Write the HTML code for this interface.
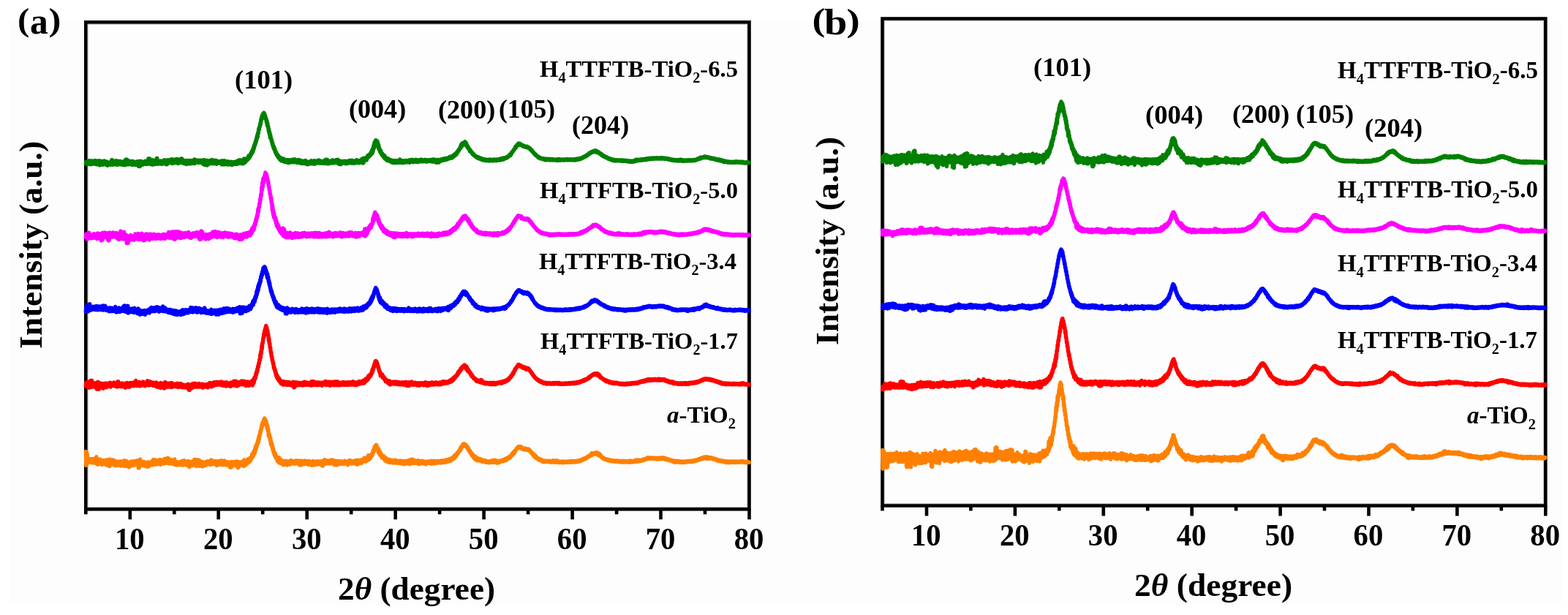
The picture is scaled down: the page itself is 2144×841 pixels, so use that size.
<!DOCTYPE html>
<html><head><meta charset="utf-8"><title>XRD patterns</title><style>
html,body{margin:0;padding:0;background:#fff;}
body{width:2144px;height:841px;overflow:hidden;}
svg{display:block;}
text{font-family:"Liberation Serif","Times New Roman",serif;font-weight:bold;fill:#000;}
</style></head><body>
<svg width="2144" height="841" viewBox="0 0 2144 841">
<rect width="2144" height="841" fill="#fff"/>
<rect x="13" y="28" width="2122" height="800" fill="#fdfdfd"/>
<g stroke="#000" stroke-width="4.6" stroke-linecap="butt">
<rect x="120.3" y="33.3" width="901.2" height="660.0" fill="none" stroke="#c8c8c8" stroke-width="1.1"/>
<rect x="117.3" y="30.3" width="907.2" height="666.0" fill="none" stroke="#000" stroke-width="4.6"/>
<line x1="117.3" y1="696.3" x2="117.3" y2="703.3"/>
<line x1="177.8" y1="696.3" x2="177.8" y2="710.3"/>
<line x1="238.3" y1="696.3" x2="238.3" y2="703.3"/>
<line x1="298.7" y1="696.3" x2="298.7" y2="710.3"/>
<line x1="359.2" y1="696.3" x2="359.2" y2="703.3"/>
<line x1="419.7" y1="696.3" x2="419.7" y2="710.3"/>
<line x1="480.2" y1="696.3" x2="480.2" y2="703.3"/>
<line x1="540.7" y1="696.3" x2="540.7" y2="710.3"/>
<line x1="601.1" y1="696.3" x2="601.1" y2="703.3"/>
<line x1="661.6" y1="696.3" x2="661.6" y2="710.3"/>
<line x1="722.1" y1="696.3" x2="722.1" y2="703.3"/>
<line x1="782.6" y1="696.3" x2="782.6" y2="710.3"/>
<line x1="843.1" y1="696.3" x2="843.1" y2="703.3"/>
<line x1="903.5" y1="696.3" x2="903.5" y2="710.3"/>
<line x1="964.0" y1="696.3" x2="964.0" y2="703.3"/>
<line x1="1024.5" y1="696.3" x2="1024.5" y2="710.3"/>
<rect x="1209.5" y="28.5" width="900.8" height="660.0" fill="none" stroke="#c8c8c8" stroke-width="1.1"/>
<rect x="1206.5" y="25.5" width="906.8" height="666.0" fill="none" stroke="#000" stroke-width="4.6"/>
<line x1="1206.5" y1="691.5" x2="1206.5" y2="698.5"/>
<line x1="1267.0" y1="691.5" x2="1267.0" y2="705.5"/>
<line x1="1327.4" y1="691.5" x2="1327.4" y2="698.5"/>
<line x1="1387.9" y1="691.5" x2="1387.9" y2="705.5"/>
<line x1="1448.3" y1="691.5" x2="1448.3" y2="698.5"/>
<line x1="1508.8" y1="691.5" x2="1508.8" y2="705.5"/>
<line x1="1569.2" y1="691.5" x2="1569.2" y2="698.5"/>
<line x1="1629.7" y1="691.5" x2="1629.7" y2="705.5"/>
<line x1="1690.1" y1="691.5" x2="1690.1" y2="698.5"/>
<line x1="1750.6" y1="691.5" x2="1750.6" y2="705.5"/>
<line x1="1811.0" y1="691.5" x2="1811.0" y2="698.5"/>
<line x1="1871.5" y1="691.5" x2="1871.5" y2="705.5"/>
<line x1="1931.9" y1="691.5" x2="1931.9" y2="698.5"/>
<line x1="1992.4" y1="691.5" x2="1992.4" y2="705.5"/>
<line x1="2052.8" y1="691.5" x2="2052.8" y2="698.5"/>
<line x1="2113.3" y1="691.5" x2="2113.3" y2="705.5"/>
</g>
<g fill="none" stroke-width="5.3" stroke-linejoin="round" stroke-linecap="round">
<path d="M117.3 224.1l.5-3 .5 3.3 .5-3.2 .5 3 .5-2.9 .5 2.5 .5-2.8 .5 3.6 .5-5 .5 4.7 .5-3 .5 3.4 .5-4.7 .5 4.9 .5-4.2 .5 3.3 .5-4.1 .5 4.4 .5-3.5 .5 3.2 .5-3 .5 2.8 .5-2.9 .5 3.5 .5-5.1 .5 4.6 .5-3 .5 3.6 .5-3.9 .5 3.2 .5-4 .5 5.4 .5-4.7 .5 4.3 .5-4.2 .5 4 .5-5 .5 6.4 .5-4.7 .5 4.3 .5-5.2 .5 4.5 .5-4.5 .5 3.8 .5-2.6 .5 3.9 .5-5.1 .5 4.3 .5-2.9 .5 2.6 .5-4.4 .5 4.5 .5-2.5 .5 2.8 .5-3.1 .5 3.9 .5-4.8 .5 4.3 .5-2.9 .5 4.2 .5-4.4 .5 3.4 .5-3.1 .5 2.8 .5-2.8 .5 2.5 .5-2.9 .5 3.6 .5-5 .5 4.5 .5-6.4 .5 6.2 .5-5.9 .5 6.4 .5-4.5 .5 4.2 .5-3.8 .5 4 .5-4.7 .5 4.2 .5-2.8 .5 2.6 .5-4.9 .5 5.2 .5-2.8 .5 3.7 .5-4.6 .5 3.6 .5-4.5 .5 4.5 .5-4.2 .5 4.3 .5-3.6 .5 3.7 .5-4.5 .5 4.4 .5-3.1 .5 3.4 .5-3.7 .5 4 .5-3.7 .5 3.9 .5-4.6 .5 4.7 .5-4.6 .5 4.8 .5-6.3 .5 4.9 .5-6.3 .5 7.5 .5-7.6 .5 6.5 .5-6.5 .5 6.6 .5-3.8 .5 3.5 .5-2.8 .5 3.4 .5-4.8 .5 4.2 .5-4 .5 3.8 .5-2.5 .5 2.8 .5-4.1 .5 5.2 .5-4.7 .5 4.1 .5-4.7 .5 4 .5-2.7 .5 3.7 .5-3.9 .5 3.7 .5-3.4 .5 3.8 .5-3.7 .5 3.2 .5-4.1 .5 4.9 .5-4.6 .5 3.4 .5-3.9 .5 6.7 .5-5.8 .5 6.1 .5-6.8 .5 6.7 .5-7.4 .5 4.3 .5-3.3 .5 3.2 .5-3.7 .5 4.9 .5-4.1 .5 3.6 .5-3.8 .5 3.1 .5-3 .5 2.6 .5-2.7 .5 2.9 .5-4.1 .5 4.3 .5-4.1 .5 3.8 .5-3.2 .5 3.7 .5-3.8 .5 3.4 .5-7.2 .5 6.2 .5-6.3 .5 6.1 .5-6.1 .5 7.7 .5-4.2 .5 4.3 .5-5.1 .5 4.3 .5-4.2 .5 5.6 .5-6.7 .5 4.9 .5-2.5 .5 3.6 .5-3.9 .5 4.1 .5-4.5 .5 3.9 .5-3.3 .5 3.2 .5-7 .5 6.6 .5-7.6 .5 8.3 .5-4 .5 3.9 .5-4 .5 3.3 .5-3.2 .5 2.9 .5-2.8 .5 3.7 .5-4.1 .5 3.8 .5-3.9 .5 4.5 .5-3.6 .5 3 .5-3.4 .5 2.6 .5-2.6 .5 3.4 .5-5.2 .5 4.3 .5-2.9 .5 3.2 .5-3 .5 4.5 .5-5.7 .5 5.8 .5-5.6 .5 4.4 .5-5 .5 4.7 .5-3.8 .5 2.7 .5-3.3 .5 3.6 .5-3 .5 3.1 .5-4.7 .5 5.2 .5-4.8 .5 5.2 .5-6 .5 4.8 .5-3.5 .5 4.2 .5-4.4 .5 4.4 .5-4.4 .5 3.1 .5-3.9 .5 3.8 .5-4 .5 4.3 .5-4.6 .5 4.2 .5-3.7 .5 5.8 .5-5.6 .5 4.4 .5-4.7 .5 4.2 .5-2.7 .5 2.7 .5-3.1 .5 3.8 .5-5.8 .5 5.2 .5-5.1 .5 5.2 .5-2.6 .5 3.3 .5-3.7 .5 4.4 .5-3.5 .5 2.3 .5-2.8 .5 3.4 .5-3.5 .5 5.1 .5-4.6 .5 2.8 .5-2.7 .5 4 .5-4.6 .5 4.7 .5-4.5 .5 3.7 .5-3.8 .5 3.2 .5-2.8 .5 3.8 .5-4.4 .5 4.4 .5-4.2 .5 3 .5-2.8 .5 3.6 .5-3.9 .5 4.1 .5-3.8 .5 3.1 .5-5.1 .5 5.8 .5-4.9 .5 3 .5-2.6 .5 2.9 .5-3 .5 3 .5-2.9 .5 2.6 .5-2.3 .5 3.3 .5-3.4 .5 2.7 .5-2.6 .5 3 .5-2.8 .5 2.7 .5-3.1 .5 2.9 .5-2.3 .5 2.4 .5-2.5 .5 4.5 .5-5 .5 4.5 .5-5 .5 6.6 .5-6.4 .5 6.8 .5-5.9 .5 5.6 .5-6 .5 6.3 .5-6 .5 6.5 .5-6.8 .5 3.9 .5-3.4 .5 2.9 .5-2.5 .5 3.8 .5-3.9 .5 2.7 .5-3.4 .5 4.2 .5-3.9 .5 3.1 .5-4.5 .5 5.3 .5-3.8 .5 3.4 .5-3.4 .5 3.9 .5-3.6 .5 3.5 .5-4.5 .5 4.7 .5-3.7 .5 3.3 .5-4 .5 4.8 .5-3.7 .5 2.2 .5-2 .5 2.3 .5-2.3 .5 2.4 .5-2.6 .5 2.7 .5-2.7 .5 2.8 .5-2.8 .5 2.7 .5-2.6 .5 4.4 .5-5.4 .5 4.8 .5-3.4 .5 2.2 .5-2.1 .5 3.8 .5-5.4 .5 3.9 .5-3.3 .5 3.5 .5-2.7 .5 3.8 .5-4.2 .5 3.7 .5-3.7 .5 4.5 .5-4.1 .5 3.4 .5-3.4 .5 4.2 .5-3.6 .5 2.9 .5-2.9 .5 2.9 .5-3.3 .5 3 .5-2.6 .5 4.2 .5-4.2 .5 2.6 .5-2.6 .5 2.9 .5-2.7 .5 2.5 .5-3 .5 3.3 .5-2.6 .5 2.1 .5-2.8 .5 3.3 .5-3.2 .5 2.5 .5-4 .5 4.3 .5-4.4 .5 3.9 .5-4.8 .5 4.2 .5-4.3 .5 4.1 .5-4.1 .5 4.4 .5-3.5 .5 4.1 .5-4.3 .5 2.6 .5-3.5 .5 5.3 .5-4.4 .5 3.4 .5-6 .5 5.9 .5-4.7 .5 4.2 .5-4.3 .5 2.3 .5-3.5 .5 3.1 .5-3.1 .5 2.1 .5-3.2 .5 2.1 .5-4.7 .5 3.5 .5-4 .5 3 .5-3.7 .5 1.7 .5-3.8 .5 2 .5-4 .5 2 .5-3.7 .5 2.6 .5-4.8 .5 2.2 .5-5.4 .5 2.7 .5-5.4 .5 1.7 .5-4.4 .5 1.8 .5-5.3 .5 2.6 .5-6.3 .5 2 .5-5.8 .5 3.4 .5-6.8 .5 1.6 .5-6.5 .5 1.5 .5-4.8 .5 .9 .5-5.1 .5 2.1 .5-7.2 .5 2 .5-5.9 .5 2.3 .5-4.9 .5 2.3 .5-3.8 .5 2.7 .5-4 .5 3.6 .5-2.2 .5 6.2 .5-3.4 .5 4.8 .5-1.3 .5 5.2 .5-2.4 .5 7 .5-3.6 .5 6.1 .5-1.3 .5 7.1 .5-2.8 .5 6.5 .5-2.8 .5 7.9 .5-4.1 .5 5.2 .5-.8 .5 4.8 .5-1.5 .5 5 .5-1.7 .5 4.9 .5-1.4 .5 4 .5-2.2 .5 4.4 .5-1.8 .5 4.5 .5-1.7 .5 3.8 .5-1.9 .5 3.6 .5-1.3 .5 3 .5-1.4 .5 3.1 .5-2.4 .5 3.2 .5-1.5 .5 3.4 .5-3 .5 3.3 .5-2.5 .5 4.2 .5-3.7 .5 3 .5-2.3 .5 3.4 .5-2.7 .5 2.7 .5-3.5 .5 4.3 .5-2.9 .5 2.8 .5-2.2 .5 2.9 .5-2.6 .5 2.6 .5-3.1 .5 3.1 .5-2.3 .5 2.3 .5-3 .5 4.2 .5-3.1 .5 2.2 .5-3.4 .5 3.7 .5-3.2 .5 2.5 .5-2.4 .5 2.3 .5-2.5 .5 2.9 .5-3.7 .5 3.1 .5-2.1 .5 2.7 .5-3.2 .5 2.5 .5-3.6 .5 4.3 .5-2.8 .5 2.2 .5-2.6 .5 3 .5-2.5 .5 3.3 .5-3.6 .5 3.2 .5-2.2 .5 2.6 .5-4.1 .5 4 .5-3.3 .5 3.5 .5-2.4 .5 3.2 .5-4.1 .5 4.2 .5-2.5 .5 2.2 .5-2.2 .5 2 .5-2.8 .5 3.4 .5-2.5 .5 2.1 .5-2.6 .5 2.7 .5-3.9 .5 4.6 .5-2.4 .5 3.1 .5-3.4 .5 2.9 .5-2.8 .5 3.5 .5-3.7 .5 2.5 .5-2 .5 2 .5-2.5 .5 2.7 .5-3.3 .5 3.3 .5-4.3 .5 4 .5-2.5 .5 2.3 .5-2.4 .5 3.1 .5-3.7 .5 2.8 .5-3.5 .5 4.6 .5-4.2 .5 3 .5-3 .5 3.2 .5-2.9 .5 2.7 .5-3.2 .5 3.1 .5-2.4 .5 2 .5-3.8 .5 3.7 .5-2.4 .5 3.2 .5-3.2 .5 2.4 .5-2.5 .5 3.3 .5-2.6 .5 2.2 .5-2.5 .5 2.6 .5-2.4 .5 3 .5-3.5 .5 3.3 .5-3.1 .5 3 .5-4.9 .5 4.6 .5-4.4 .5 5.1 .5-5.6 .5 4.7 .5-4.4 .5 5.6 .5-3.2 .5 3 .5-2.7 .5 2.2 .5-2.4 .5 2.2 .5-2.3 .5 2.6 .5-3.7 .5 3.1 .5-2.2 .5 2 .5-3.7 .5 4 .5-2.8 .5 3.1 .5-3.9 .5 3.3 .5-2.7 .5 1.9 .5-2.3 .5 2.1 .5-2.9 .5 4.1 .5-3.1 .5 2 .5-3.6 .5 4.1 .5-2.9 .5 5.1 .5-5.1 .5 5.2 .5-4.3 .5 4.1 .5-3.4 .5 3.9 .5-4.2 .5 2.4 .5-2.2 .5 2.6 .5-3.1 .5 2.8 .5-2.3 .5 2.1 .5-1.9 .5 2.2 .5-2.9 .5 2.6 .5-2.5 .5 3.6 .5-3.4 .5 2.1 .5-2.1 .5 2.3 .5-2.8 .5 3.3 .5-2.9 .5 2.5 .5-3.6 .5 3.2 .5-2.4 .5 2.1 .5-2.5 .5 3.2 .5-3.8 .5 4 .5-2.9 .5 2.3 .5-2.9 .5 3.1 .5-2.5 .5 3.2 .5-3.5 .5 2.5 .5-2.2 .5 1.9 .5-2.2 .5 2.9 .5-4.2 .5 3.6 .5-3.3 .5 2.9 .5-1.9 .5 2.3 .5-2.3 .5 3 .5-3.7 .5 2.4 .5-2.4 .5 2.3 .5-2.5 .5 1.6 .5-3.2 .5 5.4 .5-5.7 .5 6 .5-6.7 .5 5.8 .5-6.2 .5 2.9 .5-2.8 .5 2.1 .5-2.2 .5 1.8 .5-2.5 .5 3.7 .5-4.4 .5 1.7 .5-3.8 .5 2.8 .5-3.1 .5 2.1 .5-3.1 .5 2.5 .5-2.8 .5 1.2 .5-3.1 .5 2.5 .5-4.5 .5 2.9 .5-5 .5 4.6 .5-6.8 .5 3.6 .5-7.3 .5 4.1 .5-7.9 .5 4.8 .5-6.8 .5 1.4 .5-3.1 .5 3.3 .5-2.8 .5 3.8 .5-3 .5 6 .5-3.7 .5 7.5 .5-4.1 .5 5.8 .5-2.1 .5 4.8 .5-2.1 .5 3.9 .5-2.8 .5 4.3 .5-1.4 .5 3.2 .5-2.4 .5 3.2 .5-1.8 .5 3.3 .5-2.2 .5 3.4 .5-3 .5 4.5 .5-2.7 .5 2.7 .5-1.6 .5 2.7 .5-1.9 .5 3.1 .5-2.7 .5 2.5 .5-2.5 .5 3.1 .5-2.4 .5 2.6 .5-1.8 .5 2.5 .5-2.3 .5 2.9 .5-2.3 .5 2.5 .5-2.6 .5 3.3 .5-2.6 .5 2.8 .5-2.7 .5 2.8 .5-2.9 .5 3 .5-3.2 .5 3.2 .5-2.8 .5 2.4 .5-2.4 .5 2.6 .5-2.9 .5 2.6 .5-2.6 .5 3 .5-2.8 .5 2.7 .5-2.8 .5 1.8 .5-3.7 .5 4.6 .5-2.6 .5 2.6 .5-2.5 .5 1.9 .5-2.2 .5 3.2 .5-3.2 .5 2 .5-1.7 .5 2.1 .5-2.1 .5 2.6 .5-2.7 .5 1.9 .5-2 .5 1.8 .5-2.1 .5 2.1 .5-1.8 .5 2.4 .5-2.5 .5 1.9 .5-2 .5 1.4 .5-1.9 .5 3.5 .5-3.9 .5 2.8 .5-2.8 .5 2.7 .5-2.4 .5 1.9 .5-2.5 .5 2.9 .5-2.4 .5 3.1 .5-3.1 .5 1.9 .5-1.4 .5 1.4 .5-1.7 .5 2.3 .5-3.2 .5 2.9 .5-2.4 .5 2.6 .5-1.8 .5 2.3 .5-2.8 .5 2.6 .5-2.7 .5 1.9 .5-1.4 .5 1.6 .5-2.2 .5 1.9 .5-2.6 .5 2.5 .5-1.4 .5 1.9 .5-2.5 .5 2.2 .5-1.7 .5 1.9 .5-2 .5 1.6 .5-2 .5 2.1 .5-2.1 .5 2.5 .5-1.9 .5 2.1 .5-2.6 .5 2.1 .5-2 .5 2 .5-1.6 .5 1.5 .5-1.6 .5 1.6 .5-1.9 .5 1.8 .5-2.1 .5 2.3 .5-1.8 .5 1.9 .5-2.3 .5 2.1 .5-2.6 .5 3.4 .5-2.9 .5 2.3 .5-2.9 .5 2.3 .5-1.5 .5 2.3 .5-2.3 .5 3.6 .5-3.7 .5 3.5 .5-3.8 .5 4 .5-3.7 .5 3.6 .5-3.8 .5 3.8 .5-3.8 .5 1.5 .5-1.2 .5 1.2 .5-1.5 .5 1.6 .5-2.3 .5 2 .5-2.3 .5 2.1 .5-2.3 .5 2.1 .5-1.6 .5 1.2 .5-2.1 .5 2 .5-2 .5 1.8 .5-1.8 .5 1.8 .5-2.5 .5 1.9 .5-1.5 .5 1.1 .5-1.7 .5 1.4 .5-1.5 .5 1 .5-2.4 .5 2 .5-2 .5 2 .5-2.2 .5 2.1 .5-2.7 .5 2.4 .5-2.7 .5 1.6 .5-2.3 .5 1.6 .5-2.7 .5 1.7 .5-2.2 .5 2 .5-2.6 .5 1.1 .5-2.5 .5 2.1 .5-3.2 .5 1.1 .5-2.1 .5 .8 .5-2.8 .5 1.4 .5-2.4 .5 .6 .5-2.2 .5 1.2 .5-4.2 .5 2.6 .5-4.4 .5 2.5 .5-3.9 .5 3.4 .5-4.2 .5 3 .5-2.4 .5 1.4 .5-2.4 .5 2.8 .5-4 .5 3.9 .5-2.9 .5 3.9 .5-2.5 .5 4.4 .5-1.7 .5 2.4 .5-1 .5 3 .5-1 .5 2 .5-.7 .5 3.3 .5-1.7 .5 2.3 .5-1.4 .5 2.3 .5-.7 .5 2.3 .5-1.2 .5 2.4 .5-1.5 .5 2.4 .5-1.2 .5 1.9 .5-.8 .5 1.7 .5-.9 .5 1.5 .5-.8 .5 1.5 .5-1.1 .5 2.1 .5-1.4 .5 1.6 .5-.8 .5 1.4 .5-1.7 .5 2 .5-1.5 .5 1.8 .5-1.1 .5 1.7 .5-1.3 .5 1.5 .5-1.6 .5 2.4 .5-1.6 .5 1.2 .5-.8 .5 1.3 .5-1.2 .5 1.2 .5-1.1 .5 1.6 .5-1.4 .5 1.5 .5-1.4 .5 1.5 .5-1.3 .5 1 .5-1.1 .5 1.4 .5-1.4 .5 1.2 .5-1 .5 1.6 .5-2.2 .5 1.8 .5-1.5 .5 1.4 .5-1.2 .5 1.2 .5-1.2 .5 1 .5-.9 .5 1.4 .5-1.6 .5 1.3 .5-1.6 .5 1.5 .5-1.3 .5 1.3 .5-1.2 .5 1.2 .5-1.5 .5 1.7 .5-1.5 .5 .8 .5-.9 .5 .8 .5-.9 .5 .8 .5-1.4 .5 1.9 .5-2.1 .5 1.2 .5-1.1 .5 1.2 .5-1.6 .5 .9 .5-1.2 .5 1.6 .5-1.9 .5 1.8 .5-2.2 .5 1.7 .5-1.6 .5 1 .5-1.3 .5 .7 .5-1.1 .5 1.1 .5-1.6 .5 1.1 .5-1.5 .5 .9 .5-1.7 .5 .6 .5-1.6 .5 .9 .5-2 .5 1.3 .5-1.9 .5 1.7 .5-3.2 .5 .9 .5-2.2 .5 .9 .5-2.1 .5 .7 .5-1.8 .5 .3 .5-2 .5 .5 .5-1.9 .5 .6 .5-2.8 .5 1.9 .5-2.3 .5 .2 .5-2.1 .5 1.2 .5-1.9 .5 1.3 .5-2.7 .5 2.6 .5-2.4 .5 1.5 .5-1.5 .5 1.9 .5-1.2 .5 1.4 .5-1 .5 1.5 .5-.6 .5 1.4 .5-1 .5 1.4 .5-1.1 .5 1.4 .5-.7 .5 1 .5-1 .5 1.3 .5-.9 .5 1.3 .5-.8 .5 1 .5-1.3 .5 1.8 .5-1.3 .5 1.5 .5-.8 .5 1.2 .5-.6 .5 1.6 .5-.9 .5 2 .5-.7 .5 1.7 .5-1.1 .5 2.2 .5-.6 .5 1.7 .5-.8 .5 1.6 .5-.3 .5 1.8 .5-.7 .5 1.5 .5-.6 .5 1.8 .5-.9 .5 1.7 .5-.6 .5 1.3 .5-.7 .5 1.7 .5-.7 .5 1.4 .5-.9 .5 1.4 .5-.9 .5 1.6 .5-1.2 .5 1.2 .5-.7 .5 1.1 .5-.7 .5 .9 .5-.6 .5 1 .5-.9 .5 1 .5-.7 .5 .9 .5-.9 .5 1.8 .5-1.5 .5 1.6 .5-1.8 .5 1.1 .5-1 .5 1.3 .5-1.1 .5 1.2 .5-1.2 .5 1 .5-1.1 .5 1.4 .5-1.4 .5 1.1 .5-.9 .5 1.4 .5-1.2 .5 1 .5-1.3 .5 1.3 .5-.8 .5 1.1 .5-1.1 .5 .8 .5-.8 .5 .9 .5-.7 .5 .8 .5-.7 .5 .8 .5-.7 .5 .6 .5-1.1 .5 1.6 .5-1.8 .5 1.3 .5-1.2 .5 1.4 .5-1.7 .5 1.5 .5-.8 .5 1.1 .5-.9 .5 .5 .5-.8 .5 .9 .5-.8 .5 .6 .5-.8 .5 1 .5-1 .5 1.1 .5-1 .5 .8 .5-1 .5 1 .5-1 .5 .7 .5-.8 .5 .9 .5-1.1 .5 1.3 .5-1.1 .5 1.1 .5-.9 .5 .7 .5-.6 .5 .7 .5-.9 .5 1 .5-1 .5 .9 .5-.7 .5 .6 .5-.7 .5 .8 .5-.8 .5 1 .5-1.1 .5 1.1 .5-1.4 .5 1.3 .5-1 .5 1 .5-1.3 .5 .9 .5-1.3 .5 1.2 .5-1.3 .5 1.2 .5-1.3 .5 1.2 .5-1.6 .5 1.1 .5-.9 .5 .7 .5-1 .5 .8 .5-1.3 .5 .9 .5-1.3 .5 .6 .5-1.1 .5 .8 .5-1.5 .5 1 .5-1.2 .5 .6 .5-1.2 .5 .6 .5-1.2 .5 .9 .5-1.5 .5 1 .5-1.9 .5 1.1 .5-1.3 .5 .6 .5-1.5 .5 .6 .5-1.7 .5 1.1 .5-1.6 .5 1 .5-1.5 .5 .9 .5-1.4 .5 .8 .5-1.3 .5 1 .5-1.4 .5 .9 .5-1.3 .5 .6 .5-1.2 .5 1.9 .5-1.9 .5 2.1 .5-2.1 .5 2.5 .5-2 .5 2.2 .5-1.6 .5 1.3 .5-1.1 .5 1.7 .5-.7 .5 1.8 .5-1.1 .5 1.4 .5-.4 .5 1.1 .5-.9 .5 1.9 .5-1.2 .5 1.9 .5-.9 .5 1.7 .5-1.1 .5 1.5 .5-1.1 .5 1.6 .5-1.1 .5 1.3 .5-.4 .5 1.3 .5-.9 .5 1.2 .5-.9 .5 1.3 .5-.7 .5 1.2 .5-.6 .5 1.4 .5-1 .5 1.2 .5-.8 .5 1.2 .5-1.1 .5 1.4 .5-1.1 .5 1.7 .5-1.3 .5 1.2 .5-.6 .5 1.1 .5-1 .5 1.4 .5-1.5 .5 1.5 .5-1.1 .5 1.4 .5-1.2 .5 .8 .5-.9 .5 1.1 .5-1 .5 .8 .5-.7 .5 .8 .5-.7 .5 .7 .5-.8 .5 .8 .5-.7 .5 .9 .5-1 .5 1 .5-.9 .5 1.1 .5-1.1 .5 1.5 .5-1.4 .5 1 .5-.8 .5 .9 .5-.8 .5 .7 .5-.7 .5 .8 .5-1.1 .5 1.3 .5-.7 .5 .8 .5-.9 .5 1.2 .5-1 .5 1 .5-.9 .5 1 .5-.8 .5 1 .5-1 .5 .9 .5-1 .5 1.3 .5-1 .5 1 .5-1.1 .5 1 .5-1.3 .5 .7 .5-.7 .5 1.1 .5-1.7 .5 1 .5-1.7 .5 1.6 .5-2 .5 1.9 .5-2.1 .5 1.7 .5-1.2 .5 1 .5-1.1 .5 1 .5-.9 .5 .8 .5-1.1 .5 1 .5-1 .5 1 .5-1.5 .5 1.2 .5-.7 .5 .7 .5-1.2 .5 1.2 .5-1.2 .5 .7 .5-.8 .5 .7 .5-1 .5 .9 .5-1 .5 1.5 .5-1.9 .5 .9 .5-1.1 .5 1.2 .5-1.1 .5 1.1 .5-1.1 .5 .6 .5-1 .5 1.4 .5-1.5 .5 1.1 .5-.8 .5 .8 .5-1.2 .5 1.1 .5-1.1 .5 1.3 .5-1.2 .5 1 .5-1.3 .5 1 .5-.8 .5 .8 .5-1 .5 1.1 .5-1.1 .5 1.1 .5-1.2 .5 1.2 .5-1.4 .5 1.3 .5-1 .5 .9 .5-.7 .5 .8 .5-.9 .5 .8 .5-.9 .5 1.1 .5-1.4 .5 1.2 .5-1.2 .5 1.3 .5-.8 .5 .8 .5-.8 .5 .9 .5-1 .5 .9 .5-.6 .5 1 .5-1.1 .5 1 .5-.7 .5 .9 .5-.7 .5 .9 .5-.8 .5 .8 .5-.8 .5 1 .5-.9 .5 1.4 .5-.8 .5 1 .5-1 .5 1.2 .5-.9 .5 1.1 .5-.8 .5 1.2 .5-1.2 .5 1.1 .5-.9 .5 1.1 .5-.6 .5 .7 .5-1 .5 1 .5-.8 .5 .8 .5-1 .5 1.1 .5-1 .5 1.3 .5-1.2 .5 .9 .5-1 .5 1.4 .5-1.3 .5 1 .5-1.7 .5 1.6 .5-1.6 .5 1.9 .5-1.8 .5 1.8 .5-1.5 .5 1.7 .5-1 .5 .8 .5-.8 .5 1.1 .5-1 .5 .6 .5-.8 .5 1 .5-1 .5 .7 .5-.7 .5 .9 .5-1.1 .5 1 .5-.8 .5 .6 .5-1 .5 1.2 .5-1 .5 .8 .5-.8 .5 1.2 .5-1.1 .5 .9 .5-.9 .5 .6 .5-.8 .5 .9 .5-1.2 .5 1.1 .5-.9 .5 1 .5-1.2 .5 .7 .5-.7 .5 .6 .5-1 .5 .5 .5-.8 .5 .5 .5-.9 .5 .4 .5-1.4 .5 1.4 .5-1.4 .5 1 .5-1.4 .5 1.3 .5-2.2 .5 1.4 .5-1.3 .5 1 .5-.9 .5 .6 .5-.9 .5 .7 .5-1 .5 1 .5-1.4 .5 1.2 .5-1.4 .5 1.3 .5-1.4 .5 1.6 .5-1 .5 .7 .5-.6 .5 1 .5-.8 .5 .9 .5-1 .5 1.1 .5-.5 .5 .9 .5-.8 .5 1.5 .5-1.2 .5 1.2 .5-.8 .5 .7 .5-.8 .5 1.2 .5-.8 .5 1 .5-1.1 .5 1.3 .5-.9 .5 .9 .5-.7 .5 1.3 .5-1.2 .5 1.3 .5-.8 .5 1.4 .5-1.1 .5 1 .5-.8 .5 .9 .5-.6 .5 1.1 .5-1.5 .5 1.7 .5-1.5 .5 1.8 .5-1.5 .5 1.5 .5-1.3 .5 1.6 .5-.5 .5 1.2 .5-1.4 .5 1.8 .5-1.6 .5 1.9 .5-1.7 .5 1.1 .5-1 .5 1.5 .5-.9 .5 .9 .5-.9 .5 1.2 .5-1.1 .5 1.1 .5-.9 .5 1 .5-.8 .5 1 .5-.9 .5 .8 .5-.6 .5 .7 .5-.7 .5 .8 .5-.9 .5 .8 .5-.7 .5 1 .5-1.1 .5 .7 .5-.8 .5 1 .5-1.2 .5 1.2 .5-1.1 .5 .9 .5-1.4 .5 1.4 .5-.9 .5 .9 .5-1 .5 1 .5-.9 .5 .9 .5-.7 .5 1 .5-1.2 .5 1 .5-.9 .5 1.1 .5-1.1 .5 1.3 .5-1.2 .5 1.1 .5-1.2 .5 1.5 .5-.8 .5 1 .5-1 .5 .7 .5-.6 .5 1.1 .5-1.2 .5 .7 .5-.9 .5 1 .5-.7 .5 1.2 .5-1.8 .5 1.2 .5-.7 .5 .6" stroke="#008000"/>
<path d="M117.3 324.5l.5-4.6 .5 4.3 .5-3.9 .5 7 .5-6.9 .5 4 .5-4.2 .5 5.8 .5-7.8 .5 7.4 .5-5 .5 4.2 .5-4 .5 5 .5-4.7 .5 4.3 .5-4.2 .5 4.4 .5-5.1 .5 4.5 .5-4.2 .5 4.6 .5-5.8 .5 5.4 .5-3.9 .5 3.1 .5-3.5 .5 4.2 .5-4.1 .5 5.8 .5-7.3 .5 6.6 .5-7 .5 5.7 .5-3.8 .5 5.5 .5-5.5 .5 3.6 .5-4.6 .5 4.9 .5-5 .5 9.4 .5-10.3 .5 9.9 .5-10.4 .5 9.5 .5-9 .5 4.7 .5-4.3 .5 4.5 .5-5.8 .5 5.5 .5-4.3 .5 5.3 .5-5.5 .5 4.6 .5-5 .5 5.7 .5-5.4 .5 8.9 .5-8.1 .5 9.6 .5-10.2 .5 9.6 .5-10.7 .5 6.8 .5-5.2 .5 5 .5-5.9 .5 4.4 .5-3.5 .5 4.8 .5-4.8 .5 4.6 .5-6.3 .5 5.8 .5-4.4 .5 4.2 .5-3.5 .5 3.6 .5-4.4 .5 5.5 .5-6.1 .5 5.5 .5-5.3 .5 7.3 .5-6.5 .5 5.6 .5-5 .5 7.4 .5-6.9 .5 6.2 .5-4.8 .5 3.9 .5-9.9 .5 9.9 .5-8.6 .5 9.4 .5-4.7 .5 3.7 .5-4.3 .5 5.1 .5-9.3 .5 10 .5-9.9 .5 9.3 .5-3.8 .5 3.4 .5-3.6 .5 5.1 .5-6.4 .5 11.4 .5-10.4 .5 10.2 .5-8.9 .5 8.8 .5-9.8 .5 5.7 .5-5.2 .5 4 .5-3.7 .5 4.4 .5-6.3 .5 6.7 .5-5.3 .5 4 .5-4.1 .5 5.1 .5-4.7 .5 3.4 .5-3.4 .5 5.1 .5-6.1 .5 4.1 .5-6.3 .5 6.1 .5-3.3 .5 3.9 .5-4.7 .5 4.4 .5-5.4 .5 5.1 .5-6.8 .5 8.3 .5-7.6 .5 5.3 .5-4.3 .5 5.8 .5-6.6 .5 7.1 .5-5.7 .5 5.7 .5-8.1 .5 7 .5-5 .5 4.2 .5-5.1 .5 8.6 .5-7.9 .5 4.2 .5-4 .5 7.2 .5-7.5 .5 4.9 .5-5.8 .5 6.1 .5-4.9 .5 4.4 .5-5.4 .5 6.6 .5-5.4 .5 3.8 .5-4.7 .5 7.7 .5-8.1 .5 5.8 .5-5.8 .5 4.8 .5-4.4 .5 5.5 .5-5.4 .5 4.8 .5-4.7 .5 5.9 .5-5 .5 3.3 .5-4.8 .5 5.9 .5-4.7 .5 3.5 .5-3.4 .5 5.1 .5-4.9 .5 4.7 .5-5.5 .5 5.3 .5-5 .5 4.5 .5-4.6 .5 4 .5-4 .5 4.5 .5-4.2 .5 5.4 .5-5.1 .5 3.6 .5-3.1 .5 4.1 .5-4.8 .5 4 .5-4.9 .5 5.4 .5-4.5 .5 3.9 .5-5 .5 6.3 .5-5.9 .5 4.5 .5-3.9 .5 3.6 .5-3.9 .5 3.6 .5-4 .5 4.1 .5-5.7 .5 5.4 .5-7.1 .5 5.8 .5-4.3 .5 6.9 .5-5.8 .5 5.7 .5-6.4 .5 4.2 .5-6.2 .5 6.5 .5-4.6 .5 4.8 .5-6.9 .5 9.6 .5-8.8 .5 9.4 .5-10.3 .5 10.4 .5-8.5 .5 7.5 .5-9.8 .5 6.3 .5-4.2 .5 3.5 .5-5.3 .5 5.4 .5-3.8 .5 3.8 .5-5.3 .5 8.4 .5-6.9 .5 6.7 .5-6.1 .5 6.7 .5-7.5 .5 6.9 .5-5.5 .5 5.2 .5-5.9 .5 4.7 .5-4.5 .5 5.3 .5-5.6 .5 5.8 .5-5.2 .5 4 .5-4.9 .5 5.1 .5-3.7 .5 3.5 .5-3.5 .5 3.4 .5-3.9 .5 4.3 .5-6.2 .5 6.7 .5-5.5 .5 6.3 .5-5 .5 5.2 .5-5.6 .5 5.9 .5-5.7 .5 4.3 .5-3.7 .5 3.3 .5-4.7 .5 4.8 .5-5.2 .5 5.1 .5-4.1 .5 3.5 .5-3.8 .5 3.4 .5-4.6 .5 4.5 .5-4.5 .5 4.5 .5-5.2 .5 6.7 .5-4.7 .5 4.5 .5-4.2 .5 6.7 .5-6.7 .5 7.8 .5-8.2 .5 7.6 .5-10.9 .5 10.8 .5-10.7 .5 7.4 .5-6.3 .5 6.6 .5-3.6 .5 4.2 .5-4 .5 4.5 .5-4 .5 4.5 .5-4.2 .5 5.9 .5-6.7 .5 4.6 .5-4.2 .5 5.1 .5-4.3 .5 4.7 .5-5.6 .5 6.1 .5-5.7 .5 3.7 .5-4.9 .5 5.6 .5-4.9 .5 3.3 .5-4.1 .5 4.6 .5-5 .5 4.6 .5-6.9 .5 6.3 .5-4 .5 3.6 .5-4 .5 4.1 .5-6.6 .5 6.6 .5-6.5 .5 6.4 .5-4.5 .5 6.1 .5-6.6 .5 6.5 .5-6.8 .5 4.3 .5-4.5 .5 4.9 .5-4 .5 3.9 .5-4.1 .5 5.3 .5-4.6 .5 5.4 .5-5.1 .5 3.8 .5-3.5 .5 3.6 .5-4.5 .5 6 .5-5.5 .5 3.6 .5-3.5 .5 3.2 .5-4.5 .5 5.2 .5-4.6 .5 3.8 .5-3.4 .5 4.8 .5-4.9 .5 4.4 .5-4.4 .5 5.6 .5-5.6 .5 4.8 .5-4.5 .5 4.6 .5-4.4 .5 4.4 .5-4 .5 3.8 .5-4 .5 4.1 .5-3 .5 3.4 .5-3.5 .5 3.8 .5-3.4 .5 4.7 .5-4.5 .5 4.7 .5-5.3 .5 5 .5-4.3 .5 3.8 .5-4.8 .5 5.9 .5-4.3 .5 3.9 .5-3.9 .5 4.3 .5-4.4 .5 6 .5-5.7 .5 5.3 .5-6.3 .5 6.4 .5-5.4 .5 4.9 .5-5.4 .5 5.5 .5-6.6 .5 3.8 .5-3.7 .5 3.4 .5-4.5 .5 4.7 .5-4.5 .5 4.2 .5-4.6 .5 4.4 .5-5 .5 5.6 .5-5.5 .5 3.6 .5-4 .5 4.3 .5-4.8 .5 4.2 .5-4 .5 3.5 .5-4 .5 4.3 .5-5.9 .5 4.2 .5-4.8 .5 3.4 .5-6.9 .5 4.7 .5-4.9 .5 3.4 .5-5.3 .5 3.8 .5-6.3 .5 2.2 .5-5.2 .5 2.7 .5-6.6 .5 2.8 .5-6.5 .5 2.2 .5-5.8 .5 2.3 .5-9.3 .5 4 .5-6.7 .5 .6 .5-6.2 .5 1 .5-7.4 .5 2.2 .5-8.4 .5 2.3 .5-11.5 .5 4.5 .5-11.2 .5 7.2 .5-12.2 .5 6.4 .5-7.9 .5 2.3 .5-5.3 .5 2.5 .5-6.3 .5 6.3 .5-5.1 .5 4.2 .5-2.2 .5 7 .5-2.1 .5 6 .5-1.9 .5 6.7 .5-.5 .5 6.1 .5-.3 .5 6 .5-.1 .5 6 .5-1.6 .5 8 .5-.9 .5 10 .5-5.8 .5 11.1 .5-5.1 .5 9.1 .5-5.2 .5 6.6 .5-2.1 .5 5.3 .5-3.8 .5 7.4 .5-3.8 .5 7.9 .5-4.5 .5 5.8 .5-3.7 .5 5.4 .5-3.3 .5 5.1 .5-2.5 .5 4.5 .5-2.6 .5 4.4 .5-5.1 .5 6.3 .5-3.9 .5 5.1 .5-4.7 .5 5 .5-8.4 .5 10.7 .5-9.7 .5 9.5 .5-8.9 .5 10.1 .5-5.7 .5 6.3 .5-6.1 .5 6.3 .5-5.3 .5 5.5 .5-6.3 .5 5 .5-2.9 .5 4.3 .5-5.1 .5 4.1 .5-4.3 .5 4.7 .5-6.4 .5 5.6 .5-3.8 .5 3.6 .5-3.2 .5 5.7 .5-6.1 .5 4.5 .5-4.5 .5 5.2 .5-4.9 .5 3.9 .5-4.1 .5 5.1 .5-6.3 .5 5.5 .5-4.2 .5 3.9 .5-3.4 .5 3.7 .5-5.1 .5 4 .5-4 .5 5.8 .5-5.4 .5 4.3 .5-3.6 .5 3.7 .5-4.1 .5 3.7 .5-3.3 .5 4.1 .5-5.1 .5 4.3 .5-4.6 .5 4.5 .5-4.2 .5 3.9 .5-4.6 .5 4 .5-3.8 .5 4.2 .5-3.5 .5 3.3 .5-3.2 .5 4.7 .5-4.5 .5 3.7 .5-3 .5 3 .5-4.3 .5 4.3 .5-3.1 .5 3.2 .5-4.1 .5 4.2 .5-3.4 .5 2.7 .5-3.4 .5 3 .5-3.7 .5 4.6 .5-4.4 .5 4.5 .5-3.5 .5 4.4 .5-5.3 .5 3.9 .5-4.6 .5 5.7 .5-5.3 .5 4.2 .5-4.2 .5 4.2 .5-4.3 .5 5.6 .5-5.5 .5 4.7 .5-4.4 .5 5.1 .5-5.6 .5 5.2 .5-3.8 .5 3.7 .5-3.5 .5 2.8 .5-3.1 .5 4.4 .5-4.3 .5 3.9 .5-4.1 .5 4 .5-3.2 .5 3.6 .5-3.8 .5 2.7 .5-3.9 .5 4.6 .5-3.6 .5 3.8 .5-5.2 .5 4.9 .5-3.7 .5 3.3 .5-2.8 .5 2.9 .5-6.1 .5 6.2 .5-5 .5 4.6 .5-3.1 .5 2.9 .5-3.9 .5 4.4 .5-3.1 .5 3.1 .5-3 .5 3.8 .5-4.4 .5 2.9 .5-3.5 .5 3.6 .5-3.1 .5 3.4 .5-4.4 .5 4.6 .5-4.5 .5 3.7 .5-2.6 .5 2.9 .5-2.9 .5 3.2 .5-3.9 .5 3.5 .5-3.5 .5 3.7 .5-4.7 .5 4.8 .5-4.7 .5 4.4 .5-4 .5 5.6 .5-5.7 .5 4.6 .5-4.3 .5 4.7 .5-4.7 .5 4.5 .5-3.5 .5 2.6 .5-2.3 .5 3.1 .5-3.7 .5 3.6 .5-4.1 .5 3.8 .5-3.9 .5 3.7 .5-3.3 .5 3.9 .5-3.8 .5 3.8 .5-5.5 .5 4.7 .5-3.3 .5 2.9 .5-3.4 .5 3.8 .5-4.7 .5 4.7 .5-3.1 .5 3.6 .5-3.2 .5 3.3 .5-3 .5 2.9 .5-3.4 .5 3.3 .5-4.2 .5 5.5 .5-5.3 .5 5.4 .5-4.2 .5 3.2 .5-3.7 .5 3.9 .5-4.9 .5 4.5 .5-4.3 .5 4.8 .5-4.4 .5 2.4 .5-2.8 .5 2.8 .5-2.7 .5 2.4 .5-2.6 .5 2.2 .5-2.7 .5 3.5 .5-4 .5 3.4 .5-3.6 .5 2 .5-6.2 .5 10 .5-10.4 .5 9 .5-7.1 .5 6.2 .5-8 .5 6.6 .5-6.7 .5 3.4 .5-4.8 .5 3.5 .5-4.4 .5 2.4 .5-4.2 .5 3.2 .5-4.3 .5 4.2 .5-4.5 .5 1.3 .5-3.6 .5 1.8 .5-7.8 .5 4.9 .5-7.8 .5 5.1 .5-8.3 .5 5.3 .5-7.9 .5 6.1 .5-3.9 .5 2.5 .5-2.1 .5 6.7 .5-5 .5 5.1 .5-1.4 .5 4.8 .5-3.5 .5 6.4 .5-2.6 .5 4.4 .5-1.7 .5 3.8 .5-2.9 .5 4.8 .5-3.6 .5 4.8 .5-3.2 .5 4.3 .5-2.5 .5 4.9 .5-3.8 .5 3.9 .5-2.7 .5 3.4 .5-2.6 .5 3.8 .5-2.8 .5 2.9 .5-3 .5 4.6 .5-3.6 .5 3.5 .5-2.5 .5 3.3 .5-3.3 .5 3.3 .5-2.3 .5 3.3 .5-3 .5 2.6 .5-2.3 .5 2.9 .5-3.5 .5 4.5 .5-3.9 .5 2.6 .5-2.6 .5 5.4 .5-5.9 .5 5.6 .5-5.1 .5 5.5 .5-5.1 .5 2.5 .5-2.4 .5 3.6 .5-4.4 .5 3.6 .5-2.9 .5 3.4 .5-2.9 .5 2.6 .5-2.8 .5 3.6 .5-3.7 .5 2.7 .5-2 .5 2.6 .5-3.3 .5 4.1 .5-3.8 .5 3.3 .5-3.2 .5 2.5 .5-3.3 .5 4 .5-3.4 .5 3.5 .5-3.4 .5 2 .5-2.6 .5 3.4 .5-4.3 .5 4.5 .5-3 .5 3.8 .5-3.8 .5 2.3 .5-2.5 .5 2.6 .5-2.2 .5 2.3 .5-2 .5 2.4 .5-3.4 .5 4 .5-2.7 .5 2.1 .5-3 .5 3.9 .5-3 .5 2.4 .5-2.9 .5 2.5 .5-3.2 .5 3 .5-2.6 .5 2.3 .5-2.3 .5 2.5 .5-2.5 .5 2.5 .5-2.5 .5 2 .5-2.7 .5 2.7 .5-2.7 .5 3.5 .5-3.3 .5 2.7 .5-2.4 .5 2.4 .5-2.5 .5 2.2 .5-1.8 .5 2.4 .5-3.4 .5 3.4 .5-3.1 .5 3.5 .5-3.1 .5 3 .5-2.5 .5 2.1 .5-3.1 .5 2.9 .5-2.2 .5 2.2 .5-2 .5 2.5 .5-3.8 .5 3.6 .5-3 .5 3 .5-2.4 .5 2.6 .5-2.5 .5 2.1 .5-2.4 .5 3.9 .5-4.8 .5 3.2 .5-2.1 .5 2 .5-1.6 .5 2.1 .5-3.1 .5 3.8 .5-3.2 .5 2.8 .5-2.4 .5 2.1 .5-2.5 .5 3.1 .5-3.1 .5 3 .5-3.4 .5 3.5 .5-3.4 .5 2 .5-2 .5 2.4 .5-3.2 .5 2.5 .5-1.6 .5 1.4 .5-1.6 .5 1.8 .5-2 .5 1.9 .5-2.1 .5 1.9 .5-2.8 .5 2.5 .5-2.7 .5 2.9 .5-2.9 .5 2.3 .5-2 .5 2 .5-2.4 .5 2.5 .5-3 .5 2.5 .5-2.3 .5 2.4 .5-2.6 .5 2.2 .5-2.6 .5 2.4 .5-2.7 .5 1.6 .5-3.1 .5 3.1 .5-3 .5 1.5 .5-2.8 .5 2.2 .5-1.9 .5 1.5 .5-3.5 .5 2.5 .5-2.6 .5 1.9 .5-3 .5 2.7 .5-3.6 .5 1.8 .5-2.8 .5 1.4 .5-2.5 .5 2.4 .5-4.9 .5 3 .5-2.9 .5 1 .5-2.8 .5 2.2 .5-4 .5 1.5 .5-2.6 .5 1.9 .5-3.2 .5 1.1 .5-3.1 .5 2.8 .5-4.1 .5 2.9 .5-3.8 .5 2.1 .5-2.2 .5 2 .5-2.6 .5 3.8 .5-3.7 .5 3.7 .5-2 .5 2.7 .5-1 .5 2.8 .5-2.4 .5 3.4 .5-1.5 .5 3.5 .5-2.7 .5 4.7 .5-1.7 .5 2.5 .5-1.9 .5 3.6 .5-1.8 .5 3.7 .5-2.1 .5 3.1 .5-1.6 .5 2.6 .5-1.1 .5 2.1 .5-.9 .5 2.1 .5-1.6 .5 2.2 .5-1.2 .5 2.3 .5-2.2 .5 3.2 .5-1.7 .5 1.8 .5-1 .5 2.2 .5-1.6 .5 1.4 .5-1.3 .5 1.8 .5-1.8 .5 2.1 .5-1.3 .5 1.3 .5-1.1 .5 1.3 .5-1.5 .5 2.4 .5-1.8 .5 1.2 .5-1.2 .5 1.8 .5-1.9 .5 2.3 .5-2.8 .5 2.6 .5-1.8 .5 1.4 .5-1.2 .5 1.3 .5-1.7 .5 1.8 .5-1.5 .5 1.4 .5-1.4 .5 1.9 .5-2.1 .5 2.2 .5-2.2 .5 1.8 .5-1.4 .5 1.3 .5-1.2 .5 2.3 .5-2.3 .5 2.3 .5-2.7 .5 2.9 .5-2.9 .5 2.7 .5-2.3 .5 1.1 .5-1.5 .5 1.6 .5-1 .5 1.2 .5-2 .5 3.3 .5-3.4 .5 2.6 .5-2.8 .5 2.5 .5-1.5 .5 1.1 .5-1.5 .5 1.1 .5-1.3 .5 1.2 .5-1.6 .5 1.1 .5-1.9 .5 2.3 .5-2.6 .5 2.1 .5-1.9 .5 1.6 .5-2 .5 1 .5-1.5 .5 1.1 .5-2 .5 1.6 .5-2.2 .5 1.8 .5-2 .5 1 .5-2.7 .5 1.8 .5-2.2 .5 1.3 .5-2.4 .5 .9 .5-2.3 .5 1 .5-2 .5 .7 .5-2 .5 .1 .5-2.1 .5 .7 .5-2.1 .5 .8 .5-2.7 .5 1.1 .5-2.6 .5 .9 .5-2.7 .5 1.3 .5-2.3 .5 .3 .5-1.8 .5 .5 .5-2 .5 1.3 .5-2 .5 1.5 .5-1.1 .5 1.2 .5-1.2 .5 2 .5-1.1 .5 1.7 .5-2.1 .5 3.3 .5-1.8 .5 1.6 .5-1 .5 1.7 .5-1.1 .5 1.5 .5-1.5 .5 1.5 .5-1 .5 1 .5-1.2 .5 1.3 .5-.9 .5 1.5 .5-1.9 .5 1.7 .5-1.4 .5 2 .5-1.4 .5 2.1 .5-.7 .5 1.8 .5-.7 .5 1.8 .5-.9 .5 2.6 .5-1.3 .5 2.2 .5-.6 .5 1.8 .5-.5 .5 2.2 .5-.8 .5 1.8 .5-.8 .5 1.8 .5-.6 .5 1.8 .5-.3 .5 1.5 .5-1 .5 2.1 .5-.7 .5 1.4 .5-.5 .5 1.3 .5-.9 .5 1.8 .5-.9 .5 1.4 .5-.7 .5 1.2 .5-.8 .5 1.5 .5-1.3 .5 1.5 .5-1.1 .5 1.4 .5-.7 .5 .9 .5-.7 .5 .9 .5-.8 .5 1 .5-.8 .5 1 .5-.8 .5 .7 .5-.7 .5 .9 .5-.9 .5 1.5 .5-1.1 .5 1.8 .5-1.6 .5 1.8 .5-1.8 .5 2 .5-1.7 .5 .8 .5-.8 .5 1.1 .5-1 .5 .8 .5-.9 .5 1 .5-.9 .5 .8 .5-.9 .5 1 .5-1 .5 .6 .5-1.1 .5 1.1 .5-.8 .5 1.1 .5-1.2 .5 1.1 .5-1.3 .5 1 .5-.7 .5 .8 .5-1.3 .5 1.2 .5-.7 .5 .9 .5-.8 .5 .9 .5-.8 .5 .8 .5-1.1 .5 1.1 .5-.9 .5 .9 .5-1 .5 1.1 .5-1 .5 .9 .5-.9 .5 .8 .5-.8 .5 .8 .5-.7 .5 .7 .5-.8 .5 1 .5-1.3 .5 1 .5-.8 .5 1 .5-1.6 .5 1.3 .5-1.1 .5 1.1 .5-.9 .5 .8 .5-.8 .5 .8 .5-1.2 .5 1.7 .5-1.3 .5 .8 .5-.9 .5 .9 .5-.8 .5 .7 .5-.8 .5 .8 .5-.9 .5 .9 .5-1.2 .5 1.1 .5-1.2 .5 .8 .5-.9 .5 .8 .5-1 .5 .8 .5-1.5 .5 1.4 .5-2.2 .5 1.7 .5-2 .5 1.6 .5-2.1 .5 1.7 .5-1.4 .5 .9 .5-2.1 .5 1.7 .5-1.7 .5 .8 .5-1.1 .5 .7 .5-1.2 .5 1.1 .5-1.7 .5 1 .5-1.8 .5 1.2 .5-1.6 .5 .8 .5-1.7 .5 .9 .5-1.3 .5 .4 .5-1.1 .5 .5 .5-1.3 .5 .7 .5-1.6 .5 1.1 .5-1.8 .5 1.3 .5-2.5 .5 1.9 .5-2.1 .5 1.3 .5-1.3 .5 1.1 .5-1.1 .5 .8 .5-1 .5 1.3 .5-1.1 .5 1.6 .5-1 .5 1.7 .5-.7 .5 1.2 .5-1.1 .5 1.9 .5-1.2 .5 2 .5-1.2 .5 1.9 .5-.4 .5 1.6 .5-1.3 .5 1.6 .5-.5 .5 1.3 .5-.9 .5 1.5 .5-1.1 .5 1.8 .5-.8 .5 1.8 .5-1.3 .5 1.7 .5-1.4 .5 1.5 .5-1.1 .5 1.5 .5-.7 .5 .9 .5-.8 .5 1.7 .5-1.4 .5 1.3 .5-.9 .5 1.1 .5-.9 .5 1.3 .5-1.2 .5 1.4 .5-.8 .5 .9 .5-1.1 .5 1.5 .5-1 .5 1 .5-.9 .5 1.3 .5-1.1 .5 .9 .5-.8 .5 1 .5-1.6 .5 1.6 .5-1.4 .5 1.4 .5-1.9 .5 2.1 .5-2 .5 2 .5-2.1 .5 2 .5-1.9 .5 1.9 .5-.8 .5 .8 .5-1.1 .5 1.2 .5-.9 .5 .8 .5-1 .5 1.1 .5-.9 .5 .9 .5-.8 .5 1.1 .5-1.1 .5 .7 .5-.9 .5 1 .5-.8 .5 .7 .5-1.2 .5 1.8 .5-1.3 .5 .8 .5-.7 .5 .7 .5-.6 .5 1.1 .5-1.1 .5 .8 .5-.8 .5 1 .5-.9 .5 1.1 .5-1.5 .5 1.2 .5-1 .5 1 .5-1.5 .5 1.7 .5-1.1 .5 .6 .5-1 .5 1.3 .5-1.1 .5 .8 .5-.9 .5 .7 .5-.8 .5 .8 .5-.9 .5 .8 .5-1.4 .5 1.8 .5-1.9 .5 1.1 .5-.9 .5 .9 .5-1.1 .5 1.7 .5-2 .5 1.4 .5-2.6 .5 1.9 .5-1.9 .5 1.6 .5-1.9 .5 2.2 .5-2.6 .5 2.3 .5-1.4 .5 .6 .5-1.2 .5 1 .5-1.2 .5 1.1 .5-1.3 .5 1 .5-1.1 .5 .9 .5-1 .5 1 .5-1.1 .5 1 .5-.8 .5 1 .5-1.1 .5 1.1 .5-1.2 .5 1.3 .5-.8 .5 1.3 .5-1 .5 .9 .5-1.3 .5 1.8 .5-1.7 .5 1.1 .5-.7 .5 .9 .5-1.1 .5 .8 .5-.9 .5 1.1 .5-1.7 .5 1.3 .5-1.4 .5 1.2 .5-1 .5 .7 .5-1.2 .5 1.3 .5-1.2 .5 1.5 .5-1.3 .5 1.1 .5-1.3 .5 1.4 .5-1.2 .5 1.3 .5-1.3 .5 1.6 .5-1.4 .5 1.1 .5-.9 .5 1.1 .5-1 .5 1.5 .5-.9 .5 1.5 .5-1.4 .5 1.1 .5-.7 .5 1.2 .5-1.2 .5 1.2 .5-.9 .5 1.3 .5-1 .5 1.3 .5-1 .5 1.1 .5-1 .5 1.2 .5-.8 .5 1 .5-.7 .5 1 .5-1.1 .5 1.1 .5-1.1 .5 1.2 .5-1 .5 1.4 .5-1.1 .5 1.2 .5-1.2 .5 1.3 .5-1.1 .5 .7 .5-.7 .5 1.3 .5-1.5 .5 1.1 .5-.8 .5 .6 .5-.7 .5 .7 .5-1 .5 1.5 .5-1.5 .5 1.1 .5-1.1 .5 1.1 .5-.9 .5 1 .5-1.1 .5 1 .5-.9 .5 1 .5-1.1 .5 .8 .5-.8 .5 .7 .5-1 .5 1 .5-.8 .5 .7 .5-1.1 .5 1.1 .5-1.5 .5 1.3 .5-1.1 .5 .9 .5-1.2 .5 .8 .5-.8 .5 1 .5-1.3 .5 .9 .5-1 .5 .9 .5-1.3 .5 1.1 .5-1.3 .5 1 .5-.9 .5 .7 .5-1.1 .5 1.2 .5-1.4 .5 1 .5-1.4 .5 1.1 .5-1.5 .5 1.4 .5-1.1 .5 .7 .5-1.7 .5 1.4 .5-1.4 .5 .7 .5-1.2 .5 .7 .5-1.3 .5 1 .5-1.3 .5 .7 .5-1.4 .5 1.2 .5-2.1 .5 1.4 .5-1.4 .5 1.4 .5-1.1 .5 .7 .5-1.2 .5 1.5 .5-1 .5 1.4 .5-1.5 .5 1.4 .5-1.3 .5 1.7 .5-1.2 .5 1.4 .5-1.3 .5 1.7 .5-1.2 .5 1.6 .5-1 .5 1 .5-.8 .5 1.2 .5-1.1 .5 1.4 .5-.9 .5 .9 .5-.7 .5 .9 .5-.6 .5 .9 .5-.7 .5 .9 .5-.7 .5 1.2 .5-.7 .5 1 .5-.8 .5 1.1 .5-1.1 .5 1.5 .5-.8 .5 1.2 .5-.8 .5 1.3 .5-.9 .5 1.1 .5-1.1 .5 1.1 .5-.9 .5 1.4 .5-.9 .5 .9 .5-1.1 .5 1.6 .5-1.2 .5 1.1 .5-1.2 .5 1.1 .5-1.2 .5 1.3 .5-.9 .5 .9 .5-1.2 .5 1.2 .5-1.1 .5 1.2 .5-.7 .5 .7 .5-.6 .5 1 .5-1.2 .5 1.2 .5-1.1 .5 1.2 .5-.9 .5 1.1 .5-1 .5 1 .5-1.1 .5 1.1 .5-1 .5 1 .5-.9 .5 .7 .5-1.1 .5 .9 .5-.8 .5 1 .5-1 .5 .8 .5-.8 .5 .7 .5-.7 .5 .7 .5-.7 .5 1 .5-.9 .5 .8 .5-.8 .5 1 .5-.8 .5 .9 .5-1 .5 1.1 .5-1.4 .5 1.2 .5-.8 .5 .9 .5-.9 .5 .8 .5-.7 .5 .8 .5-.8 .5 .9 .5-.9 .5 .9 .5-1.2 .5 1.4 .5-1.5 .5 1.3 .5-1.3 .5 1" stroke="#ff00ff"/>
<path d="M117.3 426.5l.5-6.9 .5 4.4 .5-6 .5 6.2 .5-5 .5 7 .5-9.9 .5 8.5 .5-8 .5 7.6 .5-8.7 .5 9 .5-4.2 .5 3.6 .5-3.7 .5 3 .5-3.8 .5 3.7 .5-3.9 .5 3.5 .5-3.8 .5 4.1 .5-3.8 .5 3.9 .5-3.9 .5 4.2 .5-4.4 .5 4.5 .5-5.4 .5 4.6 .5-3.9 .5 4.1 .5-3.8 .5 4.6 .5-5 .5 4 .5-4.1 .5 3.8 .5-3.5 .5 3.5 .5-3.5 .5 4.7 .5-4.8 .5 3.4 .5-3.3 .5 3.5 .5-4.6 .5 6.2 .5-5.2 .5 4.3 .5-3.7 .5 3.3 .5-4.8 .5 5.7 .5-3.1 .5 3.7 .5-3.5 .5 3.7 .5-3.4 .5 3.6 .5-3 .5 3.3 .5-3.6 .5 4.4 .5-4.9 .5 4.4 .5-4.6 .5 4.9 .5-3.9 .5 3.9 .5-4.5 .5 4.4 .5-4.2 .5 3.9 .5-3.8 .5 3.7 .5-3.8 .5 4.3 .5-3.6 .5 4.1 .5-6.7 .5 6.2 .5-3.6 .5 4.9 .5-5.7 .5 4.7 .5-3.5 .5 3.2 .5-3.4 .5 4.1 .5-5.6 .5 5.7 .5-4.1 .5 4 .5-4 .5 3.4 .5-4.1 .5 3.1 .5-2.8 .5 3.1 .5-4.5 .5 4.9 .5-6.6 .5 6.1 .5-6.8 .5 7.6 .5-7.9 .5 8.1 .5-7.5 .5 7.2 .5-3.7 .5 5 .5-8.6 .5 7.2 .5-7.4 .5 9.8 .5-5.2 .5 2.9 .5-3 .5 4.3 .5-4.7 .5 4.4 .5-4.1 .5 3.5 .5-3.9 .5 4.5 .5-4.5 .5 4.8 .5-3.8 .5 4.2 .5-5.3 .5 5.2 .5-6.1 .5 6.2 .5-3.9 .5 3.1 .5-3.6 .5 3.8 .5-3.5 .5 4.2 .5-4.2 .5 5.6 .5-7 .5 6.4 .5-5.7 .5 5.5 .5-3.5 .5 5.7 .5-5 .5 3.1 .5-3.3 .5 4.5 .5-4.6 .5 3.6 .5-3.3 .5 3.9 .5-3.5 .5 3 .5-4 .5 5.2 .5-5.6 .5 6 .5-5 .5 4.1 .5-4.2 .5 3 .5-3.6 .5 3 .5-3.4 .5 2.9 .5-2.8 .5 3.3 .5-4.6 .5 5.1 .5-5.3 .5 3.1 .5-3.7 .5 3.8 .5-5.7 .5 5.5 .5-3.1 .5 2.9 .5-3.4 .5 3.5 .5-4.7 .5 4.6 .5-3.7 .5 4 .5-5 .5 4.3 .5-4.8 .5 4.8 .5-5.2 .5 4.1 .5-4.3 .5 4.7 .5-4.5 .5 5.1 .5-4 .5 5.2 .5-5.7 .5 3.9 .5-3.3 .5 4.2 .5-4.1 .5 3.6 .5-4 .5 3.1 .5-2.6 .5 3.9 .5-6.4 .5 7 .5-4.8 .5 3.5 .5-3.2 .5 4.1 .5-4.6 .5 5.1 .5-3.3 .5 3.4 .5-3.2 .5 2.8 .5-2.5 .5 3 .5-2.5 .5 3.9 .5-3.6 .5 2.7 .5-3.4 .5 4.6 .5-4.4 .5 4.6 .5-4.5 .5 4.1 .5-3.4 .5 3.6 .5-3.6 .5 4.7 .5-3.7 .5 4 .5-4.8 .5 4.2 .5-2.9 .5 4.4 .5-4.3 .5 3.5 .5-4.6 .5 5.2 .5-3.8 .5 4.3 .5-4.7 .5 3.7 .5-2.9 .5 3.1 .5-3.3 .5 3.5 .5-3.3 .5 3.4 .5-4.5 .5 5.1 .5-4.3 .5 2.9 .5-4.2 .5 4.1 .5-5.5 .5 6 .5-3.8 .5 3.8 .5-4.3 .5 3.1 .5-3.3 .5 3.3 .5-4.7 .5 3.9 .5-3.3 .5 3.6 .5-3.5 .5 3.4 .5-3.8 .5 3.9 .5-3.8 .5 3.4 .5-4.1 .5 2.8 .5-3.1 .5 3.6 .5-6.2 .5 5.9 .5-4.9 .5 4.5 .5-4.6 .5 5.7 .5-6.3 .5 5.5 .5-4.1 .5 4.2 .5-3.3 .5 2.6 .5-3.7 .5 4 .5-5.3 .5 5.1 .5-3 .5 4.5 .5-4.9 .5 4.5 .5-4.2 .5 3 .5-4.5 .5 5.5 .5-3.5 .5 3.4 .5-3.8 .5 3.6 .5-4.2 .5 5.6 .5-4.4 .5 3 .5-3.4 .5 3.6 .5-3.1 .5 3.2 .5-3.3 .5 3.9 .5-6.3 .5 6.1 .5-4.2 .5 5.1 .5-3.6 .5 3.3 .5-3.2 .5 3.8 .5-2.8 .5 2.6 .5-2.6 .5 3.2 .5-3.1 .5 3.1 .5-4 .5 3.4 .5-3.3 .5 3.2 .5-4.9 .5 6.6 .5-4.6 .5 3.6 .5-4.1 .5 4.2 .5-4.2 .5 3.3 .5-3.7 .5 3.7 .5-3 .5 2.4 .5-2.9 .5 5.6 .5-5.6 .5 5.8 .5-5.9 .5 3.7 .5-3.5 .5 3.4 .5-3 .5 5.1 .5-6.3 .5 3.4 .5-3 .5 3.4 .5-4.3 .5 4.9 .5-4.8 .5 5.4 .5-5.6 .5 3.2 .5-3.4 .5 4.8 .5-5.9 .5 6 .5-5.9 .5 4.8 .5-4.4 .5 4.9 .5-4.8 .5 3.8 .5-4.9 .5 5.3 .5-4.6 .5 4.1 .5-4.2 .5 4.8 .5-4.8 .5 4.4 .5-3.9 .5 3.7 .5-2.9 .5 3.5 .5-3.6 .5 3.3 .5-3.6 .5 4.1 .5-3.4 .5 3.8 .5-5.1 .5 4.9 .5-4 .5 3 .5-3.1 .5 3.2 .5-3.5 .5 2.9 .5-3.8 .5 4.1 .5-3.8 .5 3.4 .5-4.5 .5 4.3 .5-4.7 .5 3.8 .5-2.5 .5 2.2 .5-4.4 .5 9.1 .5-8.5 .5 8.4 .5-8.6 .5 8.4 .5-7.3 .5 7 .5-6.9 .5 3.6 .5-4.9 .5 5.7 .5-5.1 .5 3.8 .5-2.7 .5 3.3 .5-3.6 .5 4.4 .5-5.4 .5 4.4 .5-3.4 .5 2.4 .5-3.3 .5 4.1 .5-4.8 .5 3.4 .5-4.8 .5 3.9 .5-3.2 .5 3.8 .5-5.1 .5 3.8 .5-5.2 .5 2.6 .5-3.7 .5 2.5 .5-6 .5 5.2 .5-6 .5 2.8 .5-4.4 .5 3.4 .5-6.3 .5 2.5 .5-4.9 .5 2.5 .5-7.6 .5 4.1 .5-7.2 .5 3.5 .5-7.7 .5 4.6 .5-7.7 .5 3.1 .5-5.5 .5 2.2 .5-6.1 .5 2.8 .5-7.1 .5 1.9 .5-5.3 .5 2.4 .5-6.1 .5 1.9 .5-6.1 .5 3.6 .5-4.6 .5 3 .5-4 .5 4.8 .5-3.4 .5 7.1 .5-3.9 .5 6.3 .5-3.4 .5 7.4 .5-4.8 .5 6.8 .5-2.9 .5 7.2 .5-2.6 .5 6.6 .5-2.7 .5 6.6 .5-.9 .5 5.6 .5-2.2 .5 5 .5-2.2 .5 5.2 .5-1.3 .5 4 .5-1.8 .5 4.7 .5-2 .5 4.8 .5-1.9 .5 4.3 .5-3 .5 4.8 .5-3.3 .5 6.3 .5-4.1 .5 4.1 .5-3.5 .5 4.7 .5-4.2 .5 4.9 .5-3.6 .5 3.8 .5-3.2 .5 3.9 .5-2.6 .5 3.3 .5-3.2 .5 3.3 .5-2.7 .5 3.5 .5-3.7 .5 4 .5-2.9 .5 3.1 .5-3.3 .5 2.8 .5-2.8 .5 7.3 .5-6.7 .5 6.2 .5-6.4 .5 7.3 .5-8.2 .5 4.3 .5-2.8 .5 3 .5-2.8 .5 3.2 .5-2.9 .5 2.9 .5-2.8 .5 4.3 .5-4 .5 2.9 .5-3.5 .5 3.6 .5-4.3 .5 4.2 .5-3.5 .5 3.4 .5-2.5 .5 2.8 .5-3.3 .5 4.5 .5-3.8 .5 2.8 .5-4.2 .5 3.7 .5-3.3 .5 3.6 .5-2.8 .5 3.8 .5-3.8 .5 2.8 .5-2.6 .5 2.2 .5-2.4 .5 3.4 .5-3.4 .5 2.9 .5-2.9 .5 3.3 .5-5 .5 4.2 .5-2.5 .5 3.4 .5-3.2 .5 3.1 .5-3.6 .5 3.7 .5-4.8 .5 3.6 .5-3.6 .5 5.9 .5-5.4 .5 3.8 .5-4.9 .5 5.5 .5-4.8 .5 3.4 .5-2.8 .5 4.4 .5-4.2 .5 3.7 .5-4.4 .5 3.1 .5-2.4 .5 3.3 .5-3.2 .5 3.9 .5-5.4 .5 4.3 .5-3.5 .5 4.3 .5-3.9 .5 4.2 .5-4.3 .5 4.1 .5-4.5 .5 3.1 .5-2.4 .5 3.2 .5-3.8 .5 3.3 .5-3.8 .5 4.9 .5-5.4 .5 4.6 .5-3.8 .5 3.1 .5-2.8 .5 4.8 .5-5.2 .5 3.7 .5-3.2 .5 3 .5-3.1 .5 3.3 .5-2.3 .5 3.8 .5-4.5 .5 3.5 .5-3.7 .5 4.7 .5-3.4 .5 3.3 .5-4.5 .5 3.8 .5-3.8 .5 4.1 .5-3.7 .5 5 .5-6.1 .5 4.8 .5-3.7 .5 3.2 .5-2.6 .5 3.6 .5-3.5 .5 2.6 .5-3.1 .5 3.8 .5-3.7 .5 3.5 .5-4.2 .5 3.8 .5-3.6 .5 3.9 .5-3.8 .5 3.5 .5-3.8 .5 2.7 .5-2.4 .5 4.1 .5-4.4 .5 3.5 .5-3.1 .5 2 .5-2 .5 2.7 .5-3 .5 3.4 .5-3.8 .5 3.3 .5-2.9 .5 2.4 .5-3.5 .5 3.9 .5-2.8 .5 2.7 .5-3.2 .5 3.3 .5-3 .5 3.1 .5-2.7 .5 2.6 .5-2.7 .5 3.4 .5-4.7 .5 3.7 .5-2.5 .5 3.5 .5-3.5 .5 3 .5-3.5 .5 3.3 .5-2.8 .5 2.6 .5-2.5 .5 3.3 .5-3.5 .5 2.7 .5-3.9 .5 3.5 .5-2.6 .5 2.4 .5-2.5 .5 3.7 .5-4.3 .5 3 .5-2.9 .5 3.4 .5-3.6 .5 3.1 .5-2.4 .5 3.2 .5-4.4 .5 3.5 .5-2.3 .5 2.6 .5-2.4 .5 2.1 .5-2.1 .5 1.9 .5-3.7 .5 3.7 .5-2.2 .5 2.9 .5-3.7 .5 3 .5-2.4 .5 2.4 .5-2.6 .5 2.5 .5-3.8 .5 3.8 .5-3.4 .5 1.9 .5-2.6 .5 3.6 .5-5 .5 3.7 .5-3.2 .5 2.7 .5-3.4 .5 3.1 .5-4 .5 3.2 .5-3.7 .5 3.3 .5-4 .5 2 .5-2.7 .5 1.9 .5-3.4 .5 2.3 .5-2.9 .5 2.1 .5-3.8 .5 2.5 .5-4.9 .5 3.1 .5-5.2 .5 3.2 .5-5.2 .5 3.1 .5-4.5 .5 1.8 .5-4.5 .5 1.1 .5-4.6 .5 2.3 .5-4.9 .5 1.8 .5-3.9 .5 3.3 .5-1.9 .5 3.9 .5-1.6 .5 3.9 .5-.6 .5 5.5 .5-2.5 .5 5.9 .5-3.3 .5 5.8 .5-4.7 .5 6.8 .5-4 .5 3.7 .5-2 .5 3.7 .5-3.6 .5 3.4 .5-1.7 .5 3.6 .5-3.2 .5 3.5 .5-2.2 .5 4.5 .5-3.2 .5 3.5 .5-3.1 .5 4.1 .5-3.8 .5 5 .5-2.8 .5 3.4 .5-2.5 .5 2.2 .5-2 .5 2.8 .5-2.5 .5 3.1 .5-2.5 .5 3.4 .5-3.3 .5 3.5 .5-3.2 .5 3.3 .5-3.6 .5 4.2 .5-3.8 .5 2.3 .5-2.5 .5 3.3 .5-3.6 .5 3.7 .5-3.3 .5 3.4 .5-2.8 .5 3.3 .5-2.9 .5 2.6 .5-3.1 .5 3 .5-2.6 .5 2.4 .5-2.4 .5 2.2 .5-2.4 .5 2.9 .5-2.7 .5 2.1 .5-2.2 .5 2.5 .5-2.5 .5 2 .5-1.8 .5 2.7 .5-2.7 .5 3.1 .5-3.1 .5 2.8 .5-2.7 .5 2.2 .5-2 .5 2.2 .5-2.2 .5 2.2 .5-2.1 .5 1.8 .5-2.1 .5 2.6 .5-4.5 .5 4.1 .5-2.1 .5 2.2 .5-2.7 .5 3.3 .5-2.5 .5 2.1 .5-2.6 .5 2.4 .5-2.1 .5 2.6 .5-2.5 .5 2 .5-2.3 .5 2.8 .5-3 .5 2.4 .5-3 .5 3.4 .5-2.9 .5 2 .5-1.6 .5 3.2 .5-3.5 .5 3.3 .5-3.4 .5 3.2 .5-3.3 .5 3.6 .5-4.2 .5 2.8 .5-2 .5 2.1 .5-2 .5 2.7 .5-2.2 .5 2.9 .5-3.1 .5 2.1 .5-3.2 .5 3.9 .5-2.3 .5 1.9 .5-3.1 .5 3.4 .5-3 .5 2.3 .5-2 .5 2.2 .5-2.7 .5 2.2 .5-1.9 .5 3.1 .5-3.4 .5 2.4 .5-3.4 .5 3.8 .5-2.4 .5 2.6 .5-4 .5 3.9 .5-2.2 .5 2.4 .5-2.5 .5 2.2 .5-2 .5 2.3 .5-2.5 .5 2.1 .5-1.9 .5 1.4 .5-2 .5 2 .5-2.6 .5 3.3 .5-2.5 .5 1.9 .5-1.9 .5 2.9 .5-3.1 .5 1.8 .5-3.1 .5 2.7 .5-1.8 .5 2.3 .5-2.3 .5 3.3 .5-3.6 .5 2.1 .5-2.5 .5 2.7 .5-2 .5 2.2 .5-3.2 .5 2.5 .5-2.2 .5 1.8 .5-2.1 .5 2 .5-2.2 .5 1.6 .5-1.7 .5 1.6 .5-1.7 .5 1.5 .5-1.8 .5 3.8 .5-5.1 .5 5.2 .5-4.9 .5 1.8 .5-2.4 .5 2.5 .5-3.4 .5 3.8 .5-4.2 .5 2.7 .5-2.3 .5 1.5 .5-2.9 .5 2.1 .5-2.1 .5 1.8 .5-2.8 .5 1.7 .5-3.5 .5 3 .5-3.8 .5 1.7 .5-2.6 .5 1.4 .5-2.3 .5 2.5 .5-3.7 .5 2.1 .5-3.8 .5 2.5 .5-3.7 .5 2.3 .5-4.4 .5 1.8 .5-3 .5 1.8 .5-3.3 .5 1 .5-2.7 .5 1.8 .5-3.4 .5 2.2 .5-2.9 .5 3.9 .5-3.9 .5 3.8 .5-3.6 .5 4.3 .5-3.7 .5 4.4 .5-3.4 .5 2.6 .5-1.1 .5 2.5 .5-.9 .5 2.5 .5-.7 .5 2.4 .5-1.2 .5 3 .5-1.8 .5 3.1 .5-1 .5 2 .5-.9 .5 2.3 .5-1.6 .5 3.8 .5-2.3 .5 2.7 .5-1.5 .5 2.6 .5-1.5 .5 3 .5-1.7 .5 2.6 .5-2.4 .5 3.4 .5-1.9 .5 2.2 .5-1.5 .5 2.2 .5-1.4 .5 1.6 .5-1.8 .5 1.9 .5-1.1 .5 1.8 .5-1.5 .5 2 .5-2 .5 2.6 .5-3.1 .5 2.9 .5-2 .5 2 .5-1.6 .5 1.9 .5-2.1 .5 2.4 .5-2.2 .5 2.2 .5-1.6 .5 2.8 .5-3.1 .5 3.1 .5-2.6 .5 2.6 .5-2.6 .5 3 .5-3.2 .5 2.2 .5-1.7 .5 1.4 .5-1.8 .5 1.6 .5-1.4 .5 1.6 .5-1.5 .5 1.4 .5-1.7 .5 1.7 .5-1.8 .5 2.7 .5-2.5 .5 2.4 .5-2.3 .5 2.2 .5-2.6 .5 1.9 .5-1.6 .5 1.1 .5-1.4 .5 1.8 .5-2.1 .5 1.7 .5-1.6 .5 1.5 .5-1.4 .5 1.2 .5-1.1 .5 1.2 .5-1.6 .5 1.2 .5-1.5 .5 1.3 .5-1.2 .5 .8 .5-1.2 .5 1.1 .5-1.7 .5 1.2 .5-1.1 .5 .9 .5-1.5 .5 2.6 .5-3.1 .5 2.6 .5-2.9 .5 1.6 .5-2.3 .5 .8 .5-1.3 .5 .6 .5-1.8 .5 .8 .5-1.5 .5 .7 .5-2 .5 .5 .5-1.7 .5 .5 .5-2.4 .5 .8 .5-1.8 .5 .7 .5-2.3 .5 .4 .5-2.5 .5 .6 .5-2.9 .5 .9 .5-2 .5 .5 .5-2.5 .5 .8 .5-2.4 .5 1.2 .5-2.4 .5 .7 .5-1.7 .5 1.3 .5-2.3 .5 1.5 .5-1.5 .5 1.7 .5-1.4 .5 2 .5-1.3 .5 1.7 .5-1.4 .5 1.8 .5-1.4 .5 2.4 .5-2 .5 2.4 .5-1.8 .5 2.4 .5-2.1 .5 1.7 .5-1.8 .5 1.9 .5-1.4 .5 1.4 .5-1.2 .5 1.8 .5-2.1 .5 2.3 .5-1.9 .5 1.8 .5-1.3 .5 2.1 .5-1.1 .5 2.3 .5-1.1 .5 2.5 .5-1.7 .5 3.1 .5-1.5 .5 3.2 .5-1.5 .5 3 .5-.8 .5 2.1 .5 0 .5 1.7 .5-.2 .5 1.7 .5-.6 .5 1.8 .5-.8 .5 1.7 .5-.8 .5 2.2 .5-1.2 .5 2 .5-1 .5 1.4 .5-1.1 .5 1.9 .5-1.4 .5 1.6 .5-.8 .5 1.3 .5-.8 .5 1.4 .5-1.4 .5 1.4 .5-.8 .5 1.1 .5-.6 .5 1 .5-.8 .5 1.4 .5-.9 .5 .9 .5-.8 .5 1.2 .5-.9 .5 1.3 .5-1.1 .5 1.1 .5-.8 .5 .8 .5-.7 .5 1.1 .5-1.3 .5 1.1 .5-.9 .5 1 .5-.9 .5 .9 .5-.8 .5 .7 .5-.7 .5 .9 .5-1 .5 .9 .5-.6 .5 .9 .5-.9 .5 1 .5-1.2 .5 1.5 .5-1.3 .5 1.3 .5-1.3 .5 1 .5-1 .5 1.3 .5-1 .5 .8 .5-1 .5 1.1 .5-.9 .5 .9 .5-1 .5 .9 .5-.9 .5 1 .5-1 .5 1.1 .5-.8 .5 .9 .5-1.1 .5 .9 .5-.8 .5 .6 .5-.9 .5 1.2 .5-1.4 .5 .9 .5-1 .5 1.2 .5-.9 .5 .6 .5-.7 .5 1.1 .5-1.4 .5 1.5 .5-1.3 .5 1.2 .5-1.5 .5 1.4 .5-1.6 .5 1.2 .5-.8 .5 .9 .5-1.3 .5 1.2 .5-1.1 .5 1 .5-1 .5 .8 .5-1.1 .5 .9 .5-1.2 .5 1.1 .5-1 .5 1 .5-1.4 .5 1.1 .5-1.3 .5 1.2 .5-1.7 .5 1.5 .5-1.3 .5 1 .5-1.2 .5 1.4 .5-1.4 .5 .8 .5-1.2 .5 1.2 .5-1.2 .5 .8 .5-1.2 .5 .9 .5-1.3 .5 .8 .5-1.2 .5 1.2 .5-1.7 .5 1.1 .5-1.6 .5 1 .5-1.1 .5 1 .5-1.7 .5 .7 .5-1.1 .5 .6 .5-1.2 .5 .6 .5-1.4 .5 .6 .5-1.5 .5 .6 .5-1.5 .5 .7 .5-2.3 .5 1.4 .5-2.2 .5 1.6 .5-2.3 .5 1.7 .5-1.4 .5 1.3 .5-1.9 .5 1.3 .5-2.1 .5 1.6 .5-1.5 .5 1.5 .5-.8 .5 1.3 .5-1.4 .5 1.9 .5-1 .5 1.7 .5-1.4 .5 1.8 .5-.6 .5 1.9 .5-1.2 .5 1.3 .5-.8 .5 2 .5-1.5 .5 1.8 .5-.6 .5 1.1 .5-.4 .5 1 .5-.8 .5 1.4 .5-1 .5 1.8 .5-1.7 .5 2.2 .5-1 .5 1.1 .5-.7 .5 1.2 .5-.6 .5 1.5 .5-1.4 .5 1.3 .5-.7 .5 1.1 .5-1 .5 1.4 .5-.6 .5 .9 .5-.8 .5 1.3 .5-1.3 .5 1.7 .5-1.1 .5 1.2 .5-1.2 .5 1.5 .5-1.2 .5 1 .5-.8 .5 1.1 .5-1.5 .5 1.4 .5-.7 .5 .8 .5-.8 .5 .8 .5-.7 .5 1.2 .5-1.3 .5 1.5 .5-1.3 .5 1 .5-.9 .5 1 .5-1 .5 .9 .5-.7 .5 1.1 .5-1.1 .5 1 .5-.8 .5 1 .5-.8 .5 .8 .5-1.3 .5 2 .5-1.3 .5 1.3 .5-1.5 .5 1.5 .5-1.5 .5 1.4 .5-1.6 .5 .9 .5-.9 .5 1.1 .5-1.2 .5 .9 .5-1 .5 .9 .5-.7 .5 1 .5-1.2 .5 1.1 .5-1.2 .5 .9 .5-.9 .5 .9 .5-1.3 .5 1.2 .5-.7 .5 1.1 .5-1.2 .5 .9 .5-.9 .5 1 .5-1.3 .5 1.2 .5-1.4 .5 1.3 .5-1.5 .5 1 .5-1 .5 1.5 .5-1.5 .5 .9 .5-1.4 .5 1.3 .5-1.4 .5 1.2 .5-1.3 .5 .8 .5-1.3 .5 1.1 .5-1.1 .5 .8 .5-1.4 .5 1 .5-1.7 .5 1.4 .5-1.1 .5 .9 .5-1.2 .5 1 .5-1.2 .5 .7 .5-.9 .5 .6 .5-1.1 .5 1 .5-.9 .5 1 .5-1.3 .5 .8 .5-1.2 .5 1.3 .5-.9 .5 1 .5-1.1 .5 1.1 .5-1 .5 1.2 .5-1 .5 1.4 .5-1.6 .5 1.2 .5-1.1 .5 1.1 .5-1.2 .5 1.1 .5-1 .5 .9 .5-1.1 .5 1.5 .5-1.4 .5 1 .5-1.2 .5 .7 .5-.9 .5 .7 .5-.8 .5 .9 .5-1 .5 1.1 .5-1.1 .5 1 .5-1.1 .5 1.2 .5-1 .5 1 .5-.9 .5 .9 .5-.7 .5 1 .5-1.3 .5 1.6 .5-1 .5 1.5 .5-1.1 .5 1.3 .5-1.1 .5 1.3 .5-1.2 .5 1.6 .5-1.5 .5 1.4 .5-1.1 .5 1.8 .5-1.2 .5 1.1 .5-.9 .5 1.4 .5-1 .5 1.2 .5-.8 .5 1.3 .5-.9 .5 1.8 .5-1.3 .5 1.1 .5-.8 .5 1 .5-.6 .5 1.2 .5-1.1 .5 1 .5-1.2 .5 1.5 .5-1.3 .5 1.4 .5-.8 .5 .8 .5-1 .5 1.1 .5-1 .5 .8 .5-1.1 .5 .9 .5-.9 .5 .8 .5-1 .5 1.3 .5-1.4 .5 1 .5-.8 .5 .7 .5-.9 .5 .9 .5-1 .5 1.1 .5-.8 .5 .7 .5-.8 .5 .9 .5-1.1 .5 1.2 .5-1.1 .5 2.1 .5-2.1 .5 2.1 .5-1.7 .5 1.7 .5-2 .5 1.2 .5-1.1 .5 .9 .5-.9 .5 1 .5-1.2 .5 1.3 .5-1.7 .5 1.2 .5-1.4 .5 1 .5-1 .5 1.8 .5-2.3 .5 2.3 .5-2.2 .5 .8 .5-1 .5 1.1 .5-1 .5 1 .5-1.3 .5 1 .5-1.4 .5 1.2 .5-1.5 .5 1.6 .5-1.4 .5 1.6 .5-1.8 .5 .9 .5-1.2 .5 .6 .5-1.4 .5 1 .5-1.4 .5 1.2 .5-1.5 .5 1 .5-1.5 .5 .8 .5-2.3 .5 2 .5-2.5 .5 1.9 .5-2.1 .5 2 .5-2.3 .5 2.6 .5-1.2 .5 1.1 .5-1 .5 1.2 .5-1.2 .5 1.5 .5-1 .5 1.7 .5-1.2 .5 1 .5-.8 .5 1.4 .5-1.1 .5 1.3 .5-1 .5 1.2 .5-1 .5 1.4 .5-1.3 .5 1.3 .5-.6 .5 .9 .5-.6 .5 1.1 .5-.9 .5 1 .5-.7 .5 1.1 .5-1.8 .5 1.9 .5-1.8 .5 1.9 .5-.8 .5 1 .5-1 .5 1 .5-.8 .5 1.1 .5-1 .5 1.3 .5-1 .5 1 .5-.9 .5 1.4 .5-1.1 .5 1.1 .5-.8 .5 1.2 .5-1 .5 .7 .5-1.1 .5 1.3 .5-.7 .5 .8 .5-.8 .5 1 .5-1 .5 1 .5-.9 .5 .7 .5-.9 .5 .9 .5-1 .5 1 .5-1.2 .5 1.3 .5-.8 .5 .8 .5-.7 .5 .6 .5-.6 .5 1.2 .5-1.2 .5 1.2 .5-1.4 .5 .9 .5-.6 .5 1.1 .5-1.7 .5 1.2 .5-.6 .5 .7 .5-.8 .5 .8 .5-1 .5 1 .5-1 .5 .8 .5-1.2 .5 1.2 .5-1.1 .5 1.3 .5-1.3 .5 1.2 .5-1.1 .5 1.3 .5-.8 .5 .9 .5-.8 .5 .8 .5-1.2 .5 1.3 .5-.8 .5 1.3 .5-1.4 .5 1.2 .5-1 .5 .8 .5-.9 .5 .9 .5-1.1 .5 1 .5-1.2 .5 1.3 .5-1.1 .5 .9" stroke="#0000ff"/>
<path d="M117.3 527.8l.5-4.6 .5 4.6 .5-3.7 .5 5.3 .5-7.5 .5 8.3 .5-6.6 .5 6.4 .5-6 .5 6.4 .5-6.4 .5 3.3 .5-6.9 .5 6.8 .5-6.8 .5 9 .5-9.1 .5 7.2 .5-4.4 .5 5.2 .5-3.7 .5 3.6 .5-3.7 .5 4.8 .5-4.9 .5 4.1 .5-4.9 .5 5.2 .5-5.4 .5 8.7 .5-8.6 .5 8.8 .5-10.1 .5 9.5 .5-6.6 .5 7.3 .5-7.7 .5 4.6 .5-5.7 .5 5.1 .5-4 .5 5.5 .5-5.5 .5 5.3 .5-5.1 .5 5.4 .5-5.8 .5 6.9 .5-5.9 .5 3.8 .5-3.9 .5 3.3 .5-4.4 .5 4.4 .5-4.7 .5 5.8 .5-5.2 .5 4.5 .5-4.3 .5 2.9 .5-3.4 .5 3.9 .5-3.8 .5 2.9 .5-3.9 .5 4.1 .5-4.4 .5 6.1 .5-5.2 .5 3.2 .5-3.2 .5 3.1 .5-2.6 .5 2.8 .5-2.7 .5 2.8 .5-4.5 .5 4.9 .5-3.9 .5 4.2 .5-4 .5 4.5 .5-4.1 .5 3.5 .5-3.1 .5 4.2 .5-7.2 .5 6.2 .5-6.4 .5 6.3 .5-3.6 .5 4 .5-3.7 .5 4 .5-3.6 .5 3.5 .5-4 .5 3.9 .5-4.5 .5 4.7 .5-3.5 .5 3.3 .5-4.1 .5 3.6 .5-3.1 .5 4 .5-4.5 .5 5.9 .5-5 .5 3.3 .5-4.7 .5 5 .5-5.6 .5 5.9 .5-5.6 .5 4.1 .5-3.7 .5 5.4 .5-5.1 .5 4.7 .5-5.1 .5 3.5 .5-4.1 .5 4.6 .5-4.3 .5 4.1 .5-4.3 .5 4.3 .5-3.6 .5 2.8 .5-4.1 .5 5.1 .5-5.1 .5 3.9 .5-2.6 .5 2.5 .5-6.1 .5 6.1 .5-3.3 .5 4.5 .5-5.6 .5 5.1 .5-4.1 .5 3.9 .5-3.6 .5 3.4 .5-4.6 .5 5.8 .5-4.7 .5 3.5 .5-3.5 .5 3 .5-3.2 .5 3.6 .5-3.9 .5 4 .5-4.9 .5 5.1 .5-3.4 .5 2.9 .5-2.8 .5 4.1 .5-4.7 .5 3.1 .5-3.2 .5 3.3 .5-4.7 .5 5 .5-6 .5 6.1 .5-4.1 .5 4.1 .5-5.4 .5 5.6 .5-4.2 .5 3.8 .5-4.7 .5 4.2 .5-3.2 .5 2.9 .5-2.7 .5 3.5 .5-3.4 .5 4.3 .5-4.4 .5 3.2 .5-2.8 .5 3.9 .5-4 .5 3.4 .5-3.4 .5 5.2 .5-5.6 .5 4.9 .5-3.9 .5 5.4 .5-5 .5 3.8 .5-3.5 .5 4.8 .5-4.5 .5 3.9 .5-3.9 .5 5.6 .5-7.3 .5 5.1 .5-3 .5 3.2 .5-3.2 .5 2.4 .5-3.7 .5 6.5 .5-6 .5 6.5 .5-6.4 .5 6.1 .5-8.4 .5 6.7 .5-6 .5 5.2 .5-4.6 .5 4.3 .5-3.3 .5 4.6 .5-4.4 .5 2.9 .5-3.1 .5 3.1 .5-3.8 .5 5.2 .5-4.2 .5 3.1 .5-2.8 .5 4.4 .5-6.4 .5 5.4 .5-3.3 .5 3 .5-3.6 .5 4.1 .5-3.8 .5 3 .5-3.2 .5 3.1 .5-2.6 .5 3.1 .5-3.3 .5 3.1 .5-2.9 .5 3.7 .5-4.9 .5 4.4 .5-3.6 .5 4.7 .5-4.4 .5 2.9 .5-2.8 .5 3.5 .5-4.5 .5 4.5 .5-4 .5 4.1 .5-3.3 .5 4.2 .5-3.9 .5 3.1 .5-2.4 .5 3.2 .5-3.5 .5 2.9 .5-2.4 .5 3 .5-3.1 .5 3.2 .5-3.5 .5 3.6 .5-3.4 .5 4.1 .5-5.4 .5 5.7 .5-5.7 .5 7.9 .5-7.3 .5 7.5 .5-7.2 .5 3.2 .5-3.7 .5 3.3 .5-3.5 .5 5.3 .5-4.8 .5 3.9 .5-5.5 .5 5.3 .5-5.1 .5 4.4 .5-4.2 .5 3.7 .5-4.5 .5 4.9 .5-3.1 .5 3.2 .5-3.7 .5 3.8 .5-3.4 .5 3.2 .5-4.2 .5 4.3 .5-4.7 .5 4.8 .5-4.3 .5 3.9 .5-2.6 .5 2.7 .5-3.5 .5 3.7 .5-3.7 .5 4.2 .5-4.4 .5 5.1 .5-4.7 .5 3.9 .5-3.6 .5 3.3 .5-3.6 .5 3.3 .5-2.5 .5 2.5 .5-2.9 .5 3.3 .5-2.9 .5 3.1 .5-4.4 .5 4.8 .5-4.3 .5 2.5 .5-3.4 .5 3.5 .5-4.8 .5 4.7 .5-3.3 .5 2.8 .5-3.7 .5 5 .5-5.1 .5 3.1 .5-3.6 .5 4.2 .5-3.5 .5 3.7 .5-5 .5 4 .5-3.1 .5 2.5 .5-2.6 .5 2.9 .5-4 .5 3.5 .5-3.5 .5 3.9 .5-3.1 .5 2.6 .5-2.8 .5 2.3 .5-2.8 .5 3.5 .5-3.4 .5 3 .5-3.2 .5 4.4 .5-5 .5 4.2 .5-3.4 .5 3.8 .5-3.1 .5 4.2 .5-4.4 .5 3 .5-3.1 .5 3.6 .5-2.8 .5 4 .5-5 .5 5.3 .5-5.5 .5 5.2 .5-3.6 .5 3.4 .5-3.4 .5 2.6 .5-2.5 .5 3 .5-3.4 .5 3.2 .5-2.6 .5 4.1 .5-5.6 .5 4.4 .5-3.3 .5 2.9 .5-2.9 .5 2.7 .5-2.7 .5 3.1 .5-6 .5 5.4 .5-5.3 .5 5.2 .5-5 .5 6 .5-6.4 .5 5.7 .5-3.3 .5 4.5 .5-4.7 .5 2.9 .5-2.7 .5 3 .5-3.8 .5 3.8 .5-3.1 .5 2.2 .5-3.7 .5 3.5 .5-4.1 .5 4.2 .5-4.5 .5 4.8 .5-4.4 .5 4.5 .5-3.9 .5 3.8 .5-4.6 .5 3.8 .5-3.3 .5 3.5 .5-3.4 .5 5.9 .5-4.8 .5 3.1 .5-2.9 .5 3.9 .5-5.2 .5 4.1 .5-3.1 .5 4.7 .5-4.2 .5 3.3 .5-4.3 .5 3.1 .5-2.5 .5 2.6 .5-3.2 .5 1.9 .5-3.8 .5 6.6 .5-6.8 .5 4.6 .5-6.1 .5 4.7 .5-7 .5 2.7 .5-4.3 .5 2.8 .5-6.3 .5 1.7 .5-5.2 .5 2.3 .5-5.7 .5 2.2 .5-6.5 .5 2.2 .5-5.9 .5 .9 .5-5.5 .5 1.4 .5-8.3 .5 4.4 .5-8.9 .5 3 .5-10.6 .5 4.5 .5-9.1 .5 1.1 .5-7.1 .5 .2 .5-6.1 .5 3.5 .5-7.8 .5 2.8 .5-6.5 .5 2.8 .5-5.8 .5 7.8 .5-5.5 .5 8.7 .5-4.8 .5 6.9 .5-1.6 .5 8.9 .5-3.6 .5 7.9 .5-.7 .5 6.7 .5-.3 .5 6.9 .5-.8 .5 6.3 .5-.9 .5 6.3 .5-1 .5 5.1 .5-1.4 .5 6.9 .5-1.9 .5 4.4 .5-1.3 .5 4.7 .5-1.7 .5 5.7 .5-2.1 .5 4.9 .5-2.8 .5 5 .5-3.3 .5 4.1 .5-1.5 .5 3.2 .5-3.1 .5 4.6 .5-2.6 .5 3.2 .5-2.1 .5 4.3 .5-3.9 .5 3.5 .5-2.4 .5 2.6 .5-2.4 .5 4.1 .5-4.8 .5 4.4 .5-3.4 .5 3.2 .5-2.2 .5 2.3 .5-2.6 .5 3 .5-4 .5 4.5 .5-4 .5 3.6 .5-2.9 .5 2.8 .5-3.8 .5 4.2 .5-3.9 .5 3.5 .5-2.9 .5 2.9 .5-2.7 .5 3.6 .5-3.2 .5 3.2 .5-4 .5 4.6 .5-5.6 .5 7.3 .5-6.2 .5 6.8 .5-6.6 .5 3.5 .5-4.3 .5 3.5 .5-3.4 .5 4.8 .5-3.6 .5 2.9 .5-2.8 .5 2 .5-2.7 .5 3 .5-2.9 .5 3.5 .5-3.1 .5 2.8 .5-3 .5 2.7 .5-2.3 .5 2.7 .5-3.3 .5 3 .5-3.3 .5 4 .5-3.2 .5 2 .5-3.4 .5 3.6 .5-4 .5 4.6 .5-3.9 .5 3.3 .5-2.4 .5 2.4 .5-3.3 .5 3.2 .5-2.3 .5 2.8 .5-2.8 .5 2.7 .5-2.7 .5 2.9 .5-2.8 .5 2.4 .5-2.8 .5 3.7 .5-5.4 .5 4.2 .5-3.2 .5 3.1 .5-2.8 .5 3.9 .5-5.5 .5 3.9 .5-2.4 .5 2.8 .5-3 .5 3.7 .5-3.5 .5 2.7 .5-2.7 .5 3.9 .5-4 .5 3.3 .5-2.7 .5 3.3 .5-3.9 .5 3.7 .5-2.7 .5 2.5 .5-2.9 .5 2.9 .5-3.2 .5 3.4 .5-3.1 .5 4 .5-3.9 .5 3 .5-3.7 .5 3 .5-2.7 .5 2.6 .5-2.8 .5 2.5 .5-3.9 .5 4.1 .5-2.8 .5 3.8 .5-4.7 .5 3.8 .5-2.4 .5 3.2 .5-3.5 .5 3.1 .5-3.9 .5 4.1 .5-4.1 .5 5.2 .5-4.9 .5 4 .5-3 .5 2.5 .5-2.8 .5 3.1 .5-4.1 .5 4.2 .5-3.3 .5 2.7 .5-3.3 .5 4.4 .5-5 .5 3.9 .5-3.3 .5 3.6 .5-4.1 .5 4.9 .5-5 .5 4.5 .5-4.4 .5 4.6 .5-3.6 .5 3.3 .5-2.6 .5 3.3 .5-3.6 .5 3.3 .5-3 .5 2.6 .5-3 .5 2.8 .5-2.5 .5 2.6 .5-3.8 .5 3.2 .5-2.4 .5 3.2 .5-3.7 .5 3.6 .5-2.9 .5 2.7 .5-3 .5 3.4 .5-3.4 .5 3.2 .5-2.8 .5 2.3 .5-3.3 .5 4 .5-2.8 .5 2.7 .5-3.2 .5 2.8 .5-2.3 .5 2.1 .5-3.3 .5 3.3 .5-2.5 .5 3.1 .5-3 .5 2.1 .5-3.8 .5 4.2 .5-2.6 .5 1.9 .5-2.6 .5 4 .5-3.6 .5 2.3 .5-2.2 .5 3.5 .5-3.6 .5 3.5 .5-3.7 .5 2.8 .5-3 .5 2.4 .5-3.5 .5 3.7 .5-3.5 .5 3.5 .5-3.5 .5 3 .5-2.8 .5 2.3 .5-2.4 .5 2.3 .5-2.2 .5 2.5 .5-4.2 .5 3.6 .5-3.4 .5 3.4 .5-4 .5 2.2 .5-3.9 .5 3.2 .5-2.7 .5 2.2 .5-3.7 .5 2.6 .5-3.9 .5 3.2 .5-5 .5 3 .5-3.6 .5 2.5 .5-3.6 .5 2.5 .5-3.5 .5 2.2 .5-3.6 .5 1.2 .5-5 .5 3.1 .5-5.4 .5 2 .5-4.8 .5 1.4 .5-4.6 .5 1.6 .5-4.7 .5 2.1 .5-3.4 .5 3.3 .5-2.5 .5 3.8 .5-1.7 .5 4.8 .5-1.9 .5 5 .5-1.6 .5 4.8 .5-1.1 .5 3.8 .5-1.4 .5 5.5 .5-3.9 .5 3.7 .5-2.6 .5 3.3 .5-2.5 .5 4.4 .5-2.6 .5 3.2 .5-1.9 .5 3 .5-1.7 .5 3.6 .5-2.1 .5 3.7 .5-2.7 .5 2.8 .5-2.3 .5 2.8 .5-2.4 .5 3.3 .5-1.8 .5 3.1 .5-2.6 .5 2.7 .5-3.8 .5 5.2 .5-4 .5 2.8 .5-2.5 .5 2.4 .5-2.1 .5 2.3 .5-2.9 .5 2.7 .5-2.7 .5 2.8 .5-2.5 .5 2.7 .5-2.4 .5 2.2 .5-2.9 .5 3.2 .5-2.1 .5 2.2 .5-3.2 .5 3.1 .5-2 .5 2.5 .5-3.3 .5 2.7 .5-2.2 .5 2.8 .5-2.7 .5 2.9 .5-2.6 .5 1.8 .5-1.7 .5 2.5 .5-3.1 .5 2.2 .5-1.7 .5 2 .5-2.1 .5 3.2 .5-3.8 .5 3.4 .5-3.7 .5 3.6 .5-3.6 .5 2.7 .5-2 .5 4.6 .5-4.8 .5 4.6 .5-4.2 .5 4.3 .5-4.8 .5 5 .5-4.1 .5 1.9 .5-2.5 .5 2.6 .5-2.4 .5 2.5 .5-3.8 .5 4.3 .5-2.6 .5 2.1 .5-2.5 .5 3.3 .5-2.5 .5 2.2 .5-2.7 .5 2.3 .5-2.6 .5 3.1 .5-2.5 .5 2.1 .5-2.2 .5 3.3 .5-2.9 .5 2.9 .5-3.2 .5 3.4 .5-3.6 .5 3.4 .5-3.2 .5 3.4 .5-3.4 .5 2.1 .5-1.9 .5 1.9 .5-2.3 .5 2.1 .5-1.8 .5 2.2 .5-2.4 .5 3.2 .5-3 .5 2 .5-2 .5 2 .5-3.2 .5 3.4 .5-2.2 .5 3.4 .5-3.9 .5 4.2 .5-3.7 .5 3.5 .5-3.8 .5 2 .5-2.1 .5 2.2 .5-2 .5 2.8 .5-2.8 .5 1.7 .5-1.5 .5 1.8 .5-2.9 .5 2.8 .5-2.2 .5 2.8 .5-2.8 .5 2.5 .5-2.4 .5 2.4 .5-2.1 .5 1.4 .5-2.3 .5 2.7 .5-2.8 .5 2.8 .5-2.1 .5 2.3 .5-2.2 .5 2.1 .5-2.2 .5 2.5 .5-2.9 .5 2.2 .5-1.8 .5 2.3 .5-2.5 .5 2.1 .5-2.9 .5 2.7 .5-3.2 .5 3.2 .5-3.4 .5 2.5 .5-2.7 .5 2.8 .5-2.9 .5 3.2 .5-2.6 .5 1.9 .5-1.6 .5 1.6 .5-2 .5 1.7 .5-1.8 .5 2 .5-2 .5 1.6 .5-2.2 .5 1.7 .5-2.5 .5 2 .5-1.8 .5 1.5 .5-3.1 .5 2.7 .5-3.2 .5 2.4 .5-3.2 .5 2.1 .5-3.2 .5 2.6 .5-3.4 .5 1.8 .5-2.6 .5 1.8 .5-2.4 .5 .7 .5-1.9 .5 .7 .5-2.1 .5 1.4 .5-3 .5 1.3 .5-3.5 .5 2 .5-2.4 .5 1.4 .5-3 .5 1 .5-2.8 .5 1.9 .5-3.4 .5 2 .5-2.9 .5 1 .5-2 .5 1.5 .5-2.2 .5 1.2 .5-2.3 .5 2.1 .5-1.9 .5 2.3 .5-1 .5 4 .5-3.6 .5 4.7 .5-3.2 .5 4.9 .5-2.9 .5 2.7 .5-1.2 .5 2.7 .5-.9 .5 2.4 .5-1 .5 2.5 .5-1.4 .5 3.5 .5-1.5 .5 2.6 .5-1.8 .5 2.5 .5-.7 .5 2.3 .5-1.2 .5 2.1 .5-1.2 .5 1.9 .5-1.1 .5 2.2 .5-1.4 .5 2.5 .5-2 .5 2.6 .5-2.1 .5 1.7 .5-1 .5 1.9 .5-1.8 .5 1.9 .5-1.8 .5 2.3 .5-1.5 .5 1.9 .5-3.6 .5 3.3 .5-3 .5 3.8 .5-1.8 .5 1.6 .5-1.4 .5 2.3 .5-1.6 .5 1.3 .5-1.1 .5 2.1 .5-1.9 .5 1.3 .5-1.2 .5 1.6 .5-1.5 .5 1.5 .5-1 .5 1.1 .5-1.3 .5 1.6 .5-1.5 .5 1.3 .5-1.6 .5 1.9 .5-1.6 .5 2 .5-2.3 .5 2.2 .5-1.9 .5 1.9 .5-1.5 .5 1.7 .5-2.7 .5 2.3 .5-1.2 .5 1.1 .5-1.5 .5 2.1 .5-2.3 .5 1.5 .5-1.5 .5 1.5 .5-1.8 .5 1.1 .5-1 .5 .9 .5-1.4 .5 1.1 .5-1.2 .5 1 .5-1.1 .5 .7 .5-1.2 .5 2 .5-2 .5 1.9 .5-2.1 .5 1.7 .5-2.2 .5 1.1 .5-1.3 .5 .9 .5-1.1 .5 1.5 .5-2.2 .5 1.4 .5-1.4 .5 .8 .5-1.5 .5 1.2 .5-1.7 .5 .8 .5-1.8 .5 1.7 .5-2.6 .5 1.1 .5-1.8 .5 .7 .5-2.1 .5 .9 .5-2.5 .5 1.6 .5-2.5 .5 .9 .5-2.7 .5 1.1 .5-2.8 .5 1.2 .5-2.7 .5 .9 .5-3.3 .5 1.3 .5-2.8 .5 .6 .5-1.8 .5 .4 .5-2 .5 .6 .5-1.7 .5 .8 .5-2.3 .5 1.8 .5-1.6 .5 1.7 .5-1 .5 1.6 .5-1.4 .5 2 .5-1.1 .5 1.6 .5-1.3 .5 2.2 .5-1.7 .5 2 .5-1.1 .5 1.3 .5-1 .5 1.4 .5-1.8 .5 2.4 .5-1.6 .5 2.4 .5-2.1 .5 2.1 .5-2 .5 1.6 .5-1.2 .5 1.3 .5-1.2 .5 2.3 .5-.7 .5 1.6 .5-.5 .5 1.8 .5-.2 .5 1.6 .5-.4 .5 1.9 .5-.6 .5 2 .5-.7 .5 2.1 .5-.3 .5 1.7 .5-.6 .5 1.8 .5-.4 .5 1.3 .5-.5 .5 1.6 .5-.5 .5 1.2 .5-.9 .5 1.8 .5-.6 .5 1.3 .5-1.2 .5 1.6 .5-.9 .5 1.6 .5-.9 .5 1.5 .5-1.4 .5 1.8 .5-.8 .5 1.1 .5-.7 .5 .8 .5-.7 .5 1.8 .5-1.4 .5 1.1 .5-.7 .5 .8 .5-.8 .5 1 .5-.9 .5 1.8 .5-1.8 .5 1.3 .5-.8 .5 .8 .5-1 .5 1.3 .5-1.4 .5 1.2 .5-1.3 .5 1.4 .5-1.1 .5 1 .5-1 .5 1.1 .5-1 .5 .8 .5-1 .5 .9 .5-.8 .5 1.3 .5-1.8 .5 1.6 .5-1 .5 .7 .5-1.1 .5 1.1 .5-.9 .5 .9 .5-1.3 .5 1.6 .5-1.5 .5 1.4 .5-1.2 .5 1.3 .5-1.4 .5 1.7 .5-1.4 .5 1.3 .5-1 .5 1.1 .5-1.1 .5 .9 .5-.6 .5 .8 .5-.8 .5 .7 .5-1 .5 1.1 .5-1 .5 .7 .5-.9 .5 1.1 .5-1 .5 .8 .5-.9 .5 .8 .5-.8 .5 .8 .5-.7 .5 .6 .5-.9 .5 1 .5-1.1 .5 1.2 .5-1.4 .5 1.2 .5-1 .5 1 .5-1.4 .5 1.2 .5-1.1 .5 .8 .5-.7 .5 1 .5-1.3 .5 .9 .5-.9 .5 1.2 .5-1.3 .5 .8 .5-.8 .5 .8 .5-1.4 .5 1.3 .5-1.1 .5 .9 .5-1.4 .5 1.2 .5-1.2 .5 1.1 .5-1.5 .5 .7 .5-1 .5 .7 .5-1.4 .5 1.1 .5-1.2 .5 .8 .5-1.1 .5 .8 .5-1.6 .5 1 .5-1.6 .5 1.6 .5-1.8 .5 1.1 .5-1.6 .5 1.1 .5-1.2 .5 .6 .5-1.2 .5 .8 .5-1.5 .5 .9 .5-1.6 .5 .8 .5-1.8 .5 1.3 .5-2 .5 1 .5-1.7 .5 .8 .5-1.5 .5 .7 .5-1.5 .5 1 .5-1.7 .5 1 .5-1.2 .5 1 .5-1.5 .5 1.2 .5-1.4 .5 1.3 .5-.8 .5 1.4 .5-2.1 .5 2.2 .5-2.2 .5 2.6 .5-2.1 .5 2.7 .5-1.8 .5 2.7 .5-2.1 .5 2.9 .5-.8 .5 1.8 .5-1.1 .5 1.5 .5-.4 .5 1.3 .5-.5 .5 1.1 .5-.5 .5 1.3 .5-.7 .5 1.4 .5-.8 .5 1.2 .5-.8 .5 2 .5-1.8 .5 1.7 .5-1.2 .5 1.7 .5-1.2 .5 1.6 .5-1.3 .5 1.6 .5-1.2 .5 1.8 .5-1.5 .5 1.4 .5-1 .5 1.4 .5-1.1 .5 1.3 .5-.8 .5 1.4 .5-1.2 .5 .9 .5-.9 .5 1 .5-1.1 .5 1.7 .5-1.4 .5 1.1 .5-.8 .5 .7 .5-1.2 .5 1.3 .5-.9 .5 1.1 .5-.8 .5 1 .5-.8 .5 1.3 .5-1.1 .5 1.3 .5-1.1 .5 .8 .5-.8 .5 1.4 .5-1.3 .5 1.1 .5-.8 .5 .9 .5-1.1 .5 1.3 .5-1.3 .5 1 .5-.8 .5 1.1 .5-1.2 .5 1 .5-1.2 .5 1.2 .5-1.4 .5 1.1 .5-1.1 .5 1.4 .5-1.1 .5 .6 .5-.8 .5 .9 .5-1.1 .5 1 .5-1 .5 .7 .5-1.2 .5 1.5 .5-1.6 .5 1.1 .5-.7 .5 .8 .5-1.2 .5 1.2 .5-1.3 .5 1.2 .5-1 .5 .8 .5-1.2 .5 1.2 .5-.9 .5 .7 .5-1.4 .5 1.1 .5-1 .5 1.2 .5-1.4 .5 .6 .5-.9 .5 .7 .5-1.5 .5 1.3 .5-1.1 .5 .9 .5-1.6 .5 1.2 .5-1.2 .5 .9 .5-1.3 .5 1.2 .5-1.4 .5 1.3 .5-1.4 .5 1.3 .5-1.7 .5 .9 .5-1.2 .5 1.2 .5-1.4 .5 1.2 .5-1.5 .5 1 .5-1.6 .5 1.8 .5-1.7 .5 1.2 .5-1.4 .5 1.7 .5-1.5 .5 1.5 .5-1.4 .5 .9 .5-1.2 .5 1.4 .5-1.2 .5 1.4 .5-1.5 .5 1.1 .5-1.2 .5 1 .5-.9 .5 1.1 .5-1.6 .5 1.6 .5-.9 .5 .8 .5-.7 .5 1 .5-1.5 .5 1.3 .5-1.4 .5 1.4 .5-1.5 .5 1.9 .5-1.9 .5 1.7 .5-1.1 .5 1 .5-1.3 .5 1.3 .5-1.3 .5 1.2 .5-1.1 .5 .9 .5-.9 .5 1.1 .5-1.2 .5 1.5 .5-1.3 .5 1.5 .5-.7 .5 1.5 .5-1.1 .5 1.4 .5-1.3 .5 1.2 .5-.6 .5 1.2 .5-1.5 .5 1.6 .5-.6 .5 1.6 .5-1.3 .5 1.1 .5-.8 .5 1.2 .5-1.2 .5 1.4 .5-1.6 .5 1.8 .5-1.5 .5 1.9 .5-1.8 .5 2.5 .5-2.1 .5 1.8 .5-1 .5 1.2 .5-.7 .5 .8 .5-.7 .5 .8 .5-.7 .5 .8 .5-1.2 .5 1.6 .5-1.4 .5 1.2 .5-1 .5 1.3 .5-1.2 .5 .9 .5-1.3 .5 1.5 .5-1.3 .5 1.4 .5-1 .5 1 .5-1.5 .5 1.1 .5-1.2 .5 1.3 .5-1.3 .5 1.4 .5-1.6 .5 1.2 .5-1.1 .5 1.8 .5-1.9 .5 1.1 .5-1 .5 1.1 .5-.8 .5 1.5 .5-1.8 .5 .8 .5-1.2 .5 1.5 .5-1.5 .5 1.3 .5-1.1 .5 .9 .5-1.1 .5 .8 .5-1 .5 1.1 .5-1.1 .5 1 .5-1.2 .5 1 .5-1.1 .5 1.1 .5-1.6 .5 1.1 .5-1 .5 1.2 .5-1.6 .5 1.2 .5-1.4 .5 1.1 .5-1.4 .5 1 .5-1.2 .5 .7 .5-1.1 .5 .7 .5-1.4 .5 .8 .5-1.1 .5 .7 .5-1.3 .5 1.3 .5-1.5 .5 .8 .5-1.5 .5 1 .5-1.1 .5 .9 .5-1.2 .5 1 .5-1 .5 1 .5-1.1 .5 1.1 .5-1 .5 1 .5-1 .5 1.2 .5-1 .5 1.3 .5-1 .5 1.2 .5-1.4 .5 1.3 .5-.6 .5 1 .5-.8 .5 .9 .5-1.1 .5 1.4 .5-.9 .5 1.3 .5-.9 .5 1 .5-.8 .5 1.1 .5-.6 .5 1.1 .5-.8 .5 1 .5-1 .5 1.5 .5-1.1 .5 1.3 .5-.9 .5 1.3 .5-1 .5 1.6 .5-1.4 .5 1.6 .5-.7 .5 1 .5-1.3 .5 1.5 .5-.8 .5 1.6 .5-1.2 .5 .9 .5-.7 .5 1 .5-1.1 .5 1.2 .5-.9 .5 1.1 .5-1.3 .5 1.7 .5-1.6 .5 1 .5-1 .5 1.4 .5-1.3 .5 1.3 .5-1 .5 1 .5-1.4 .5 1.2 .5-1 .5 1 .5-1 .5 1 .5-.7 .5 .9 .5-1 .5 1.1 .5-1 .5 .9 .5-1.2 .5 1.1 .5-1.3 .5 1.3 .5-1.1 .5 1.3 .5-1 .5 .8 .5-1 .5 1.1 .5-.8 .5 .8 .5-.9 .5 1 .5-.9 .5 .9 .5-.9 .5 .9 .5-1.1 .5 1.5 .5-1.4 .5 .9 .5-1.7 .5 2 .5-2.1 .5 1.7 .5-1.6 .5 1.7 .5-1.7 .5 1.8 .5-.8 .5 .8 .5-.7 .5 1 .5-1.1 .5 1.1 .5-1.1 .5 1 .5-.9 .5 1.2 .5-1.1 .5 .9 .5-.8 .5 1.2" stroke="#ff0000"/>
<path d="M117.3 617.5l.5 19 .5-18 .5 17 .5-14.5 .5 12 .5-.7 .5-5 .5 4.5 .5-4.4 .5 4.4 .5-4.5 .5 5 .5-4.4 .5 4.8 .5-4.6 .5 4.6 .5-5 .5 4.9 .5-4.6 .5 5.1 .5-5.5 .5 5.2 .5-5.2 .5 3.9 .5-4.5 .5 5.2 .5-5.2 .5 6.8 .5-9.1 .5 8 .5-4.6 .5 7.2 .5-6.6 .5 4.4 .5-3.9 .5 5.2 .5-6.2 .5 5.5 .5-5.5 .5 6.5 .5-5.6 .5 5.3 .5-5.2 .5 6.4 .5-4.7 .5 3.4 .5-3.5 .5 3.1 .5-4.5 .5 5 .5-4.8 .5 4.5 .5-4.6 .5 4.5 .5-4.9 .5 6.9 .5-7 .5 3.9 .5-3.2 .5 4.2 .5-4.7 .5 3.6 .5-4.3 .5 9 .5-9.7 .5 9.6 .5-7.4 .5 4.9 .5-4.9 .5 5 .5-6.1 .5 5.4 .5-4.2 .5 3.6 .5-4.9 .5 4.7 .5-3.1 .5 5.8 .5-5.6 .5 6.2 .5-6.7 .5 6 .5-5.3 .5 5 .5-4.6 .5 5.4 .5-5.3 .5 3.5 .5-3.2 .5 4.5 .5-4.5 .5 3.4 .5-4.2 .5 5.1 .5-5.1 .5 6.4 .5-5.5 .5 4 .5-4.8 .5 5.1 .5-4.8 .5 4 .5-4.7 .5 4.3 .5-5.2 .5 8.1 .5-6 .5 4.4 .5-5.1 .5 4.1 .5-5 .5 5.1 .5-3.6 .5 6.2 .5-5.8 .5 3.7 .5-3.4 .5 6.6 .5-7.1 .5 4.9 .5-4.7 .5 5.5 .5-5.5 .5 4.5 .5-5.5 .5 4.3 .5-2.9 .5 2.9 .5-4.3 .5 5.6 .5-4.6 .5 3.4 .5-4.8 .5 4.9 .5-5.2 .5 4.4 .5-4.5 .5 5.2 .5-5.5 .5 4.5 .5-3.5 .5 3.6 .5-4.7 .5 10 .5-10.3 .5 10.5 .5-11 .5 6.1 .5-6.9 .5 6.5 .5-3.8 .5 5.5 .5-4.8 .5 3.4 .5-3.4 .5 4.2 .5-3.6 .5 3.1 .5-3.8 .5 5.8 .5-4.9 .5 4.2 .5-3.5 .5 4.3 .5-4.9 .5 4 .5-3.9 .5 5.7 .5-6.4 .5 6.3 .5-6.3 .5 6 .5-5 .5 4.1 .5-4 .5 2.8 .5-3.9 .5 3.8 .5-3.8 .5 3.3 .5-4.6 .5 5.3 .5-4.6 .5 3.5 .5-6.5 .5 7 .5-4.8 .5 4.5 .5-3.7 .5 3.7 .5-6 .5 5.5 .5-3.7 .5 4.4 .5-4.7 .5 3.8 .5-4.7 .5 4.5 .5-3.5 .5 3.5 .5-4.3 .5 4.4 .5-5.7 .5 7.1 .5-5.6 .5 4.1 .5-4.8 .5 3.8 .5-3.6 .5 2.6 .5-2.7 .5 4.6 .5-5.1 .5 4.4 .5-5.8 .5 5.5 .5-3.9 .5 4.4 .5-6.2 .5 4.9 .5-3.5 .5 3.8 .5-6.2 .5 6.6 .5-6.5 .5 7.5 .5-4.9 .5 4.4 .5-5.2 .5 6 .5-5.8 .5 5.4 .5-5.5 .5 5.5 .5-4.5 .5 5 .5-3.9 .5 3.6 .5-4.2 .5 4.5 .5-3.8 .5 4.7 .5-7.2 .5 7.3 .5-4 .5 3.6 .5-2.9 .5 4.1 .5-4.2 .5 3.8 .5-3.8 .5 3.2 .5-2.9 .5 3.4 .5-3.9 .5 4.2 .5-4.1 .5 3.3 .5-3.4 .5 4.2 .5-4.5 .5 3.5 .5-4.6 .5 4.7 .5-3.6 .5 4.8 .5-5 .5 3.7 .5-5.2 .5 4.7 .5-4.2 .5 4.8 .5-4.1 .5 5.2 .5-4.6 .5 4.4 .5-4.6 .5 3.3 .5-2.8 .5 3 .5-4.4 .5 8 .5-6.3 .5 6.5 .5-6.2 .5 2.9 .5-3.7 .5 4.8 .5-3.9 .5 3.4 .5-4.2 .5 4.8 .5-6 .5 4.5 .5-3 .5 3.5 .5-7.1 .5 6.8 .5-6.8 .5 7.3 .5-4.4 .5 6.3 .5-8.9 .5 7.2 .5-6.4 .5 7.4 .5-8.1 .5 7.4 .5-7.1 .5 8.2 .5-7.9 .5 6.7 .5-4.5 .5 5.8 .5-4.2 .5 4.2 .5-4.2 .5 3.9 .5-5.6 .5 6.6 .5-6.1 .5 4.4 .5-3.2 .5 3.4 .5-4.3 .5 3.9 .5-3.5 .5 3.6 .5-4.9 .5 3.7 .5-3 .5 3 .5-4.5 .5 3.7 .5-3.3 .5 3.6 .5-3.6 .5 4 .5-4.6 .5 5.1 .5-4.1 .5 3.9 .5-6.3 .5 4.8 .5-4.2 .5 4.5 .5-3.9 .5 4.4 .5-3.8 .5 3 .5-3 .5 3.2 .5-3.6 .5 4.2 .5-3.6 .5 3.3 .5-3.4 .5 5.8 .5-5.9 .5 3.7 .5-3.9 .5 4.6 .5-4.9 .5 4 .5-3.1 .5 4.4 .5-4 .5 3.4 .5-3.5 .5 3.1 .5-4.9 .5 4.7 .5-3.5 .5 5 .5-5.2 .5 4 .5-4.1 .5 5 .5-5.6 .5 5.2 .5-4.6 .5 4.1 .5-3.6 .5 5 .5-4 .5 4.1 .5-4 .5 3.6 .5-3.9 .5 3.2 .5-3.1 .5 3.8 .5-3.2 .5 6.4 .5-6.6 .5 6.7 .5-7.3 .5 7.3 .5-7.6 .5 5.8 .5-4.9 .5 2.8 .5-3.6 .5 3.6 .5-2.9 .5 4.6 .5-5.6 .5 4.7 .5-3.6 .5 3.3 .5-4.6 .5 4.8 .5-5 .5 5.5 .5-4.6 .5 8.1 .5-7.7 .5 6.8 .5-7.3 .5 4.8 .5-3.6 .5 3 .5-3 .5 3.5 .5-4.5 .5 4.4 .5-4.9 .5 5.1 .5-5.2 .5 5.7 .5-4.9 .5 5.5 .5-8.8 .5 8.3 .5-6.8 .5 6.3 .5-6.9 .5 5.8 .5-5 .5 3.2 .5-3.6 .5 3.9 .5-5.8 .5 4.1 .5-4.9 .5 4.6 .5-4.2 .5 3.6 .5-5.1 .5 3.6 .5-4 .5 2.5 .5-4.3 .5 2.6 .5-6.1 .5 4.6 .5-4.4 .5 3.1 .5-6.5 .5 3.9 .5-5.5 .5 4.1 .5-6.9 .5 3.4 .5-6.4 .5 3.4 .5-5.5 .5 2 .5-4.9 .5 1.9 .5-5.4 .5 3.7 .5-7.7 .5 3 .5-6.1 .5 1 .5-5.6 .5 1.7 .5-4.8 .5 1.2 .5-6.2 .5 2.7 .5-6 .5 2.3 .5-4.3 .5 2.6 .5-5.2 .5 2.8 .5-4.7 .5 5.1 .5-3 .5 5.2 .5-3.7 .5 7.1 .5-2.9 .5 6.6 .5-4 .5 7.2 .5-3.2 .5 9.8 .5-3.8 .5 5.4 .5-2.1 .5 6.7 .5-3.6 .5 8.9 .5-3.8 .5 5.3 .5-2.6 .5 6.4 .5-2.3 .5 5.8 .5-2.8 .5 6.1 .5-2.1 .5 4.9 .5-3.5 .5 5.3 .5-3.5 .5 5.6 .5-2.6 .5 3.9 .5-2.8 .5 5.9 .5-4.6 .5 4.2 .5-3.7 .5 5.8 .5-6.8 .5 7.4 .5-4 .5 4.2 .5-2.8 .5 3.4 .5-4.9 .5 4.5 .5-2.7 .5 3.3 .5-4 .5 5.8 .5-4.5 .5 4 .5-4.5 .5 3.1 .5-2.9 .5 3.1 .5-4 .5 4.3 .5-3.3 .5 4.8 .5-5 .5 3.7 .5-3.4 .5 3 .5-3.4 .5 3.5 .5-3.6 .5 4.5 .5-4.7 .5 3.4 .5-4.7 .5 4.7 .5-3 .5 2.8 .5-3.4 .5 3.5 .5-3.1 .5 2.5 .5-2.7 .5 3.2 .5-3.4 .5 3.9 .5-3.5 .5 3.2 .5-4.1 .5 3.8 .5-3.5 .5 3.3 .5-3.6 .5 4.2 .5-4.2 .5 4.9 .5-4.3 .5 5.3 .5-4.9 .5 5.1 .5-5.4 .5 5.1 .5-5.7 .5 5.8 .5-5.1 .5 2.7 .5-2.8 .5 3.8 .5-3.3 .5 3.6 .5-3.7 .5 3.6 .5-4.6 .5 4.2 .5-3.1 .5 3.4 .5-3.7 .5 3.5 .5-3.8 .5 4 .5-3.3 .5 3.2 .5-2.5 .5 3.8 .5-5.3 .5 4.9 .5-4.4 .5 4.1 .5-3.1 .5 2.9 .5-2.7 .5 4.2 .5-5.1 .5 3.1 .5-4 .5 4.9 .5-3.3 .5 4.1 .5-5.2 .5 4.3 .5-4 .5 3.3 .5-3.2 .5 4.3 .5-4.7 .5 4.4 .5-3.7 .5 2.9 .5-3.5 .5 2.9 .5-3 .5 4 .5-3.8 .5 3.4 .5-3.3 .5 4.3 .5-4.6 .5 3 .5-2.9 .5 5.9 .5-6.3 .5 6.8 .5-6.6 .5 2.8 .5-3 .5 2.6 .5-4.4 .5 5 .5-3.2 .5 4 .5-4.7 .5 3.3 .5-3.4 .5 4 .5-3.6 .5 3.4 .5-3.2 .5 2.3 .5-2.6 .5 4.2 .5-4.3 .5 4 .5-4.3 .5 3.2 .5-4 .5 5.1 .5-5 .5 3.8 .5-2.3 .5 3 .5-3.9 .5 5 .5-4.7 .5 6.1 .5-6 .5 3.8 .5-3.3 .5 3.2 .5-3 .5 5.5 .5-5.4 .5 3.1 .5-3.7 .5 3.1 .5-2.5 .5 4.3 .5-3.8 .5 2.2 .5-2.6 .5 2.8 .5-2.8 .5 3 .5-3 .5 3.9 .5-3.7 .5 2.6 .5-2.3 .5 2.4 .5-2.4 .5 3 .5-3 .5 2.9 .5-4.1 .5 3.6 .5-2.8 .5 3 .5-2.9 .5 2.9 .5-2.9 .5 4.8 .5-4.7 .5 2.8 .5-2.8 .5 3 .5-4.6 .5 4.2 .5-3 .5 3.2 .5-3.9 .5 4.1 .5-3.1 .5 3 .5-3.2 .5 3.1 .5-2.8 .5 2.4 .5-2.7 .5 2.4 .5-3.4 .5 3.2 .5-2 .5 3.3 .5-3.7 .5 4.2 .5-5.7 .5 5.9 .5-5.3 .5 5.4 .5-5.6 .5 4.7 .5-3.9 .5 2.6 .5-3.4 .5 3.5 .5-3.3 .5 2.6 .5-3.5 .5 4.7 .5-4.4 .5 2.8 .5-3.6 .5 3.1 .5-3.5 .5 3 .5-4.4 .5 3.9 .5-4 .5 4.7 .5-4.9 .5 4.8 .5-5 .5 4.4 .5-4.7 .5 2.8 .5-3.1 .5 3.2 .5-6.1 .5 6.3 .5-4.9 .5 2.8 .5-3.9 .5 4.1 .5-4.6 .5 2.3 .5-2.9 .5 2.1 .5-3.6 .5 2 .5-5 .5 2.3 .5-4.7 .5 2.6 .5-5.3 .5 2.6 .5-4.6 .5 2.7 .5-4.2 .5 4 .5-4.1 .5 5.6 .5-2.6 .5 4 .5-3 .5 6.3 .5-4.5 .5 5.9 .5-3.8 .5 5.6 .5-4 .5 5.1 .5-3.3 .5 4.4 .5-2.5 .5 4.4 .5-3.3 .5 3.1 .5-1.9 .5 2.4 .5-2.7 .5 4.3 .5-2.5 .5 4.3 .5-4.4 .5 4.4 .5-3.4 .5 4.7 .5-3.4 .5 2.6 .5-2 .5 3.4 .5-3.1 .5 3.5 .5-3.9 .5 3.3 .5-3 .5 4 .5-3.2 .5 3.1 .5-3 .5 2.5 .5-2.4 .5 3.2 .5-3.1 .5 3.4 .5-3.1 .5 2.1 .5-2.5 .5 3.6 .5-3.9 .5 3.5 .5-2.7 .5 3.1 .5-3.7 .5 3 .5-2.2 .5 3.1 .5-3 .5 2.2 .5-1.9 .5 2.4 .5-2.4 .5 2.5 .5-3.3 .5 4 .5-3.8 .5 2.7 .5-2.1 .5 2.5 .5-2.4 .5 3.3 .5-3.5 .5 2.5 .5-2.2 .5 4.1 .5-4.3 .5 2.4 .5-2.4 .5 2.2 .5-2.5 .5 3.8 .5-3.2 .5 2.1 .5-2.2 .5 3 .5-2.6 .5 2.5 .5-4.4 .5 4.7 .5-4.6 .5 5.4 .5-5.3 .5 3.8 .5-4.8 .5 5 .5-5 .5 5.1 .5-5.4 .5 5.1 .5-4.8 .5 4.8 .5-2.5 .5 2.6 .5-3.2 .5 2.9 .5-3.2 .5 2.8 .5-1.7 .5 2.6 .5-3.1 .5 2.7 .5-2.9 .5 3 .5-3.7 .5 5 .5-3.8 .5 3.5 .5-4 .5 4 .5-3.9 .5 2.8 .5-1.9 .5 2.1 .5-2.8 .5 3 .5-3.5 .5 3.8 .5-3.3 .5 2.8 .5-2.3 .5 2.9 .5-3 .5 2.7 .5-2.4 .5 3.7 .5-3.7 .5 2.5 .5-2.4 .5 2 .5-2 .5 1.7 .5-2.3 .5 2.4 .5-2.1 .5 2.5 .5-2.5 .5 2 .5-1.9 .5 2.1 .5-3 .5 4 .5-3.4 .5 2.6 .5-2.1 .5 1.6 .5-2.7 .5 3.2 .5-2.7 .5 3.2 .5-3.3 .5 2.5 .5-2.6 .5 2.1 .5-1.8 .5 2.2 .5-2.2 .5 2.3 .5-3 .5 2.7 .5-2.2 .5 1.7 .5-1.8 .5 2.3 .5-2.5 .5 2.2 .5-2.5 .5 3.1 .5-3.3 .5 2.1 .5-2.4 .5 2.3 .5-1.9 .5 2.5 .5-2.2 .5 2.1 .5-2.6 .5 2.6 .5-2.8 .5 1.8 .5-2.3 .5 2.2 .5-2.6 .5 3 .5-2.9 .5 2.1 .5-1.9 .5 1.8 .5-1.9 .5 1.3 .5-2.7 .5 3 .5-2.4 .5 1.9 .5-2.4 .5 1.4 .5-2.7 .5 2.6 .5-2.2 .5 1.2 .5-3.1 .5 2.5 .5-2.7 .5 2 .5-4.3 .5 3.3 .5-3.4 .5 2.5 .5-3.2 .5 1.2 .5-3.3 .5 2.2 .5-3.2 .5 1.7 .5-2.5 .5 1.2 .5-2.7 .5 .8 .5-2.6 .5 1.8 .5-4.2 .5 2.4 .5-3.7 .5 1.9 .5-2.6 .5 .9 .5-3.2 .5 2.5 .5-3.1 .5 2.5 .5-2.6 .5 2.1 .5-1.8 .5 2.9 .5-2 .5 2.5 .5-1.7 .5 2.9 .5-1.1 .5 2.9 .5-2.3 .5 3.5 .5-1.4 .5 3.3 .5-1.3 .5 3.3 .5-2.4 .5 3 .5-1.2 .5 3 .5-1.5 .5 3.5 .5-2.6 .5 2.7 .5-1.1 .5 2.8 .5-1.8 .5 3.8 .5-3.1 .5 3.9 .5-3.7 .5 4.5 .5-3 .5 3.4 .5-3.3 .5 4.2 .5-3.5 .5 2.3 .5-1.1 .5 2.2 .5-2.2 .5 2.2 .5-2.2 .5 2.4 .5-2.4 .5 2.8 .5-1.4 .5 1.4 .5-1.7 .5 2.8 .5-2.2 .5 2 .5-1.8 .5 2 .5-1.7 .5 1.8 .5-2.1 .5 1.9 .5-1.6 .5 2.5 .5-2.1 .5 2.4 .5-1.9 .5 1.5 .5-1.2 .5 1.2 .5-1.2 .5 2 .5-1.8 .5 1.4 .5-1.8 .5 1.7 .5-2 .5 1.8 .5-1.6 .5 1.8 .5-2.8 .5 2.9 .5-3 .5 2.5 .5-2.4 .5 2.6 .5-2.7 .5 2.6 .5-2.9 .5 3.1 .5-1.4 .5 1.1 .5-1.9 .5 3.1 .5-3.2 .5 3.1 .5-2.7 .5 2.4 .5-2.3 .5 2.1 .5-2.1 .5 1.5 .5-1.9 .5 1.3 .5-1.3 .5 1 .5-1.5 .5 1.3 .5-1.7 .5 1.4 .5-1.8 .5 2 .5-2 .5 1.5 .5-1.6 .5 1 .5-2.2 .5 1.9 .5-2.1 .5 2.3 .5-2.9 .5 1.6 .5-2.2 .5 1.6 .5-2.2 .5 1.4 .5-1.8 .5 1.3 .5-2.1 .5 1.9 .5-2.4 .5 .7 .5-1.6 .5 .8 .5-2.7 .5 1.4 .5-2.7 .5 2.3 .5-3.2 .5 1.3 .5-2.7 .5 2.3 .5-3 .5 .8 .5-2 .5 .5 .5-1.8 .5 .3 .5-1.9 .5 .7 .5-1.6 .5 1.2 .5-2.1 .5 1.4 .5-1.5 .5 1.3 .5-1.4 .5 2.3 .5-1.7 .5 1.6 .5-1.9 .5 2.3 .5-1 .5 2.1 .5-1.6 .5 1.7 .5-1.5 .5 2 .5-1.9 .5 1.8 .5-1.3 .5 1.5 .5-1.9 .5 2.1 .5-1.5 .5 1.7 .5-1.4 .5 1 .5-1 .5 1.6 .5-1.5 .5 1.9 .5-1.2 .5 2 .5-.7 .5 1.9 .5-1 .5 2.1 .5-.3 .5 1.6 .5-1.3 .5 2.5 .5-1.6 .5 2.8 .5-1.8 .5 3.1 .5-2.2 .5 3.2 .5-2.3 .5 2.8 .5-2 .5 3 .5-1.1 .5 1.6 .5-1.1 .5 1.8 .5-.9 .5 1.5 .5-1 .5 1.8 .5-1.7 .5 1.9 .5-1 .5 1.3 .5-1.4 .5 2 .5-1.2 .5 1.5 .5-1 .5 1.9 .5-2 .5 1.3 .5-.7 .5 1.6 .5-1.6 .5 1.1 .5-.8 .5 .9 .5-.8 .5 .7 .5-.8 .5 1.2 .5-1.1 .5 1.1 .5-1.5 .5 1.2 .5-1 .5 1.1 .5-1.2 .5 1.8 .5-1.4 .5 1.6 .5-1.4 .5 1 .5-1.1 .5 1.1 .5-2 .5 2.3 .5-2.1 .5 1.8 .5-1.7 .5 2.1 .5-2.3 .5 2.1 .5-2 .5 2 .5-1.9 .5 2 .5-2.1 .5 2.4 .5-2.4 .5 2 .5-.8 .5 1.2 .5-1.1 .5 1.2 .5-1.3 .5 1.1 .5-.9 .5 .9 .5-.8 .5 .9 .5-1.3 .5 1.8 .5-1.6 .5 1.2 .5-1.5 .5 1.5 .5-1.2 .5 1.1 .5-.7 .5 .6 .5-.7 .5 .7 .5-1.3 .5 1.3 .5-1.2 .5 1 .5-1.2 .5 1.4 .5-1.4 .5 1 .5-.8 .5 1 .5-1.3 .5 1.5 .5-1.6 .5 1.1 .5-1.5 .5 1.8 .5-1.1 .5 .8 .5-.9 .5 .8 .5-.8 .5 1.2 .5-1.5 .5 1.1 .5-1 .5 .9 .5-1.4 .5 1.5 .5-1.2 .5 .8 .5-1.4 .5 1.4 .5-1.1 .5 .6 .5-.9 .5 1 .5-1.5 .5 1.1 .5-1.3 .5 1.1 .5-1.7 .5 .9 .5-1.5 .5 1.2 .5-1.2 .5 .8 .5-1.4 .5 1 .5-1.6 .5 1.3 .5-1.4 .5 1 .5-1.4 .5 .9 .5-1.6 .5 .9 .5-1.5 .5 .6 .5-1.7 .5 1.1 .5-1.4 .5 .7 .5-1.2 .5 .7 .5-1.5 .5 .8 .5-1.1 .5 .8 .5-2.8 .5 2.6 .5-3.1 .5 2.1 .5-1.6 .5 1.4 .5-1.5 .5 1.2 .5-1.4 .5 1.1 .5-1.8 .5 1.7 .5-1.1 .5 1.4 .5-2.4 .5 3.1 .5-2.5 .5 2.7 .5-2.5 .5 3.3 .5-2.4 .5 2.9 .5-2.5 .5 3.1 .5-2.3 .5 2.9 .5-1 .5 1.8 .5-.7 .5 1.2 .5-.7 .5 1.8 .5-.9 .5 1.5 .5-1 .5 1.3 .5-.7 .5 1.2 .5-.9 .5 1.2 .5-.8 .5 1.1 .5-.8 .5 1.2 .5-1.2 .5 1.4 .5-.8 .5 1.3 .5-.9 .5 .9 .5-1 .5 1.2 .5-.8 .5 1.2 .5-1.1 .5 1.4 .5-1.3 .5 1.2 .5-.9 .5 1 .5-1 .5 1.2 .5-.9 .5 .8 .5-.7 .5 .9 .5-.9 .5 .9 .5-1.4 .5 1.5 .5-.9 .5 .9 .5-.7 .5 .9 .5-1.2 .5 1.4 .5-1.3 .5 1.6 .5-1.2 .5 .9 .5-1.1 .5 1.2 .5-1 .5 1.3 .5-1.3 .5 1.3 .5-1.8 .5 1.5 .5-1.4 .5 1.6 .5-1.3 .5 1.1 .5-1.2 .5 1.4 .5-1.4 .5 1.2 .5-.8 .5 .9 .5-.8 .5 .8 .5-1.1 .5 1.3 .5-1.2 .5 1.3 .5-2 .5 2.2 .5-2 .5 1.5 .5-1.7 .5 1.7 .5-.9 .5 .9 .5-1.1 .5 1 .5-1.1 .5 1.1 .5-1.3 .5 1.1 .5-1.3 .5 1 .5-2 .5 2 .5-2 .5 1.8 .5-1.8 .5 2.1 .5-2.3 .5 2 .5-1.3 .5 1.1 .5-1.2 .5 .7 .5-1.3 .5 1.8 .5-1.6 .5 1 .5-1 .5 .7 .5-1 .5 .7 .5-1.2 .5 1.3 .5-1.7 .5 1.2 .5-1.1 .5 .9 .5-1.2 .5 .7 .5-1.1 .5 .7 .5-1.5 .5 1.3 .5-1.1 .5 .8 .5-2 .5 2 .5-1.3 .5 .9 .5-1.2 .5 1.3 .5-1.4 .5 1.1 .5-.9 .5 1 .5-.9 .5 .9 .5-1.1 .5 1.1 .5-.9 .5 1.2 .5-1.3 .5 1.2 .5-.8 .5 .8 .5-.9 .5 1.2 .5-1.1 .5 1 .5-1 .5 1.4 .5-1.6 .5 1.4 .5-1.6 .5 1.5 .5-1.1 .5 1 .5-1.2 .5 1.4 .5-1.6 .5 1.4 .5-1.4 .5 .9 .5-1.1 .5 1.7 .5-1.7 .5 1.5 .5-1.6 .5 1.5 .5-1.1 .5 1.5 .5-1.4 .5 1.9 .5-1.3 .5 1.6 .5-1.5 .5 1.3 .5-.9 .5 1.5 .5-1.1 .5 1.2 .5-1 .5 1.2 .5-1 .5 1.4 .5-.9 .5 1.3 .5-1 .5 1.1 .5-.7 .5 1 .5-.9 .5 1.3 .5-1.3 .5 2.1 .5-1.6 .5 1.7 .5-1.5 .5 1.8 .5-1.9 .5 1.9 .5-1.8 .5 2.1 .5-1.7 .5 .9 .5-1.3 .5 1.4 .5-.9 .5 .9 .5-1.1 .5 1.5 .5-1.2 .5 1.5 .5-1.4 .5 1.2 .5-1.4 .5 1.8 .5-1.4 .5 1.1 .5-.8 .5 1 .5-1.2 .5 1 .5-1.1 .5 1.4 .5-1.3 .5 .9 .5-.9 .5 .7 .5-.9 .5 .7 .5-.9 .5 1.1 .5-1.2 .5 .8 .5-.8 .5 .7 .5-.7 .5 .8 .5-1.2 .5 1.2 .5-1.2 .5 1.2 .5-1.1 .5 1.1 .5-1.1 .5 1.1 .5-1.5 .5 1.3 .5-1.2 .5 .8 .5-1.3 .5 1.2 .5-1.5 .5 1.2 .5-1.1 .5 1 .5-1.3 .5 .8 .5-1.2 .5 1.1 .5-1.3 .5 1 .5-1.4 .5 .9 .5-1.3 .5 1 .5-1.3 .5 .8 .5-1.4 .5 1.2 .5-1.5 .5 1.1 .5-1.2 .5 .8 .5-1.5 .5 1.3 .5-1.5 .5 1.4 .5-1.8 .5 1.5 .5-1.7 .5 1.3 .5-1.2 .5 1.4 .5-1.6 .5 2.7 .5-2.6 .5 2.4 .5-2.1 .5 2.2 .5-2 .5 1.2 .5-1.1 .5 1.4 .5-1 .5 .9 .5-.7 .5 .9 .5-1.2 .5 1.4 .5-.9 .5 1.4 .5-1 .5 1.2 .5-1 .5 1 .5-1.1 .5 1.6 .5-1 .5 1.3 .5-1 .5 1.3 .5-1.1 .5 1.9 .5-1.3 .5 1.2 .5-.7 .5 1.4 .5-1.4 .5 1.6 .5-1.3 .5 1.2 .5-.8 .5 .9 .5-.7 .5 1 .5-1.1 .5 1.3 .5-.8 .5 1 .5-.9 .5 1 .5-1.1 .5 1.2 .5-.9 .5 1.3 .5-1.1 .5 1.1 .5-1.2 .5 2 .5-1.8 .5 .9 .5-.7 .5 .9 .5-.8 .5 1 .5-1.1 .5 1.7 .5-1.7 .5 1.1 .5-1.3 .5 1.5 .5-1.3 .5 1 .5-1 .5 1.2 .5-1.4 .5 1.5 .5-1.1 .5 1 .5-1.3 .5 1.1 .5-1.1 .5 1.4 .5-1.3 .5 1 .5-1.2 .5 1.2 .5-.8 .5 1.1 .5-1.4 .5 1 .5-.8 .5 .8 .5-1.1 .5 1.3 .5-1.2 .5 .8 .5-.9 .5 1.2 .5-1.2 .5 .8 .5-1 .5 1 .5-.9 .5 1.4 .5-1.2 .5 1 .5-1.1 .5 1.7 .5-1.2 .5 .7 .5-.7 .5 1.1 .5-1 .5 .7 .5-.7 .5 1 .5-.9 .5 .9 .5-1 .5 .9" stroke="#ff8000"/>
<path d="M1206.5 221.2l.5-6.9 .5 5.2 .5-4.7 .5 5.1 .5-7.4 .5 6.9 .5-5.6 .5 5.6 .5-7.9 .5 8.6 .5-6.5 .5 8.9 .5-10.3 .5 9.8 .5-8.2 .5 6.2 .5-5.7 .5 6.6 .5-6.9 .5 7.1 .5-7.1 .5 8.8 .5-7.9 .5 6.9 .5-5.9 .5 4.6 .5-5.2 .5 5.9 .5-7.2 .5 7.5 .5-8.4 .5 8.3 .5-7.7 .5 7.7 .5-8.2 .5 12.5 .5-11.8 .5 7.3 .5-9 .5 9.3 .5-5.8 .5 9.7 .5-11.1 .5 7.1 .5-5.1 .5 7.9 .5-11.7 .5 9.6 .5-7 .5 8 .5-7.9 .5 7.3 .5-11.1 .5 9.9 .5-6 .5 5.2 .5-4.9 .5 5 .5-8.7 .5 8.6 .5-7.7 .5 8.3 .5-8.7 .5 8.5 .5-9 .5 11.7 .5-9.7 .5 8.8 .5-12.8 .5 11.4 .5-12.5 .5 11.9 .5-12 .5 11.7 .5-6.3 .5 6.9 .5-8.3 .5 7.2 .5-5.1 .5 8.3 .5-9 .5 6 .5-6.6 .5 5.3 .5-11.5 .5 12 .5-13.1 .5 12.5 .5-12.5 .5 14.9 .5-9.3 .5 8 .5-6.6 .5 6 .5-6.6 .5 7.5 .5-6.3 .5 7.2 .5-7.2 .5 6.9 .5-7.4 .5 5.8 .5-4.5 .5 4.8 .5-5.6 .5 6.3 .5-7.6 .5 7.6 .5-5.2 .5 5.1 .5-4.7 .5 5.1 .5-7.5 .5 8.6 .5-9.5 .5 8.7 .5-5.4 .5 5.8 .5-6.7 .5 6.4 .5-7.1 .5 7.4 .5-8.9 .5 12 .5-8.4 .5 5 .5-6.4 .5 7 .5-5.6 .5 5.1 .5-7.3 .5 8.6 .5-7.8 .5 5.3 .5-4.3 .5 4.7 .5-6.4 .5 6.1 .5-4.7 .5 6.9 .5-7.7 .5 5.6 .5-6.1 .5 5.8 .5-5.5 .5 10.6 .5-11.3 .5 13.8 .5-13.4 .5 13.7 .5-12.9 .5 14.5 .5-14.4 .5 6.4 .5-4.4 .5 6.2 .5-6 .5 7.5 .5-8.5 .5 6.3 .5-5.9 .5 6.3 .5-8.9 .5 9 .5-7.6 .5 10.8 .5-10.4 .5 9 .5-7.5 .5 5.7 .5-7.3 .5 8.1 .5-6.6 .5 5.7 .5-6.8 .5 11.9 .5-11.6 .5 6.5 .5-6.3 .5 5.6 .5-8.8 .5 9.3 .5-9.7 .5 9.5 .5-9.3 .5 8.3 .5-7.8 .5 8.6 .5-5.1 .5 5.2 .5-7.8 .5 14.4 .5-13.1 .5 12.3 .5-12.7 .5 14.4 .5-17.2 .5 9.9 .5-6.7 .5 5.2 .5-5.2 .5 6 .5-6.5 .5 6.7 .5-6.9 .5 5.7 .5-5 .5 5.2 .5-5.2 .5 6.1 .5-6.4 .5 4.6 .5-5.4 .5 8.7 .5-9.5 .5 7.3 .5-6.4 .5 7.2 .5-8.9 .5 10.9 .5-7.5 .5 6.7 .5-11.5 .5 11.4 .5-12.2 .5 17.5 .5-17.4 .5 16.8 .5-17.6 .5 17.5 .5-18 .5 12 .5-11.7 .5 14.1 .5-8.7 .5 7 .5-6.3 .5 6.5 .5-8.4 .5 7.1 .5-6 .5 6.1 .5-8.4 .5 7.9 .5-6.8 .5 6.6 .5-7.2 .5 11.1 .5-8.3 .5 6.1 .5-7.5 .5 6.1 .5-4.8 .5 5.5 .5-6.2 .5 5.5 .5-5.2 .5 8.6 .5-8.6 .5 6.7 .5-7.7 .5 6.4 .5-7.5 .5 7.2 .5-6.7 .5 8.7 .5-8.5 .5 7.4 .5-6.5 .5 6.9 .5-6.6 .5 4.5 .5-6.6 .5 6.5 .5-5.9 .5 7.2 .5-6.1 .5 7.1 .5-6.8 .5 5 .5-5.2 .5 7 .5-6.4 .5 4.5 .5-5.2 .5 5.7 .5-5.7 .5 8.3 .5-8.3 .5 9.2 .5-9.7 .5 6 .5-4.3 .5 5.8 .5-6.3 .5 5.9 .5-5 .5 5.3 .5-6.2 .5 5.1 .5-4.3 .5 4.6 .5-4.2 .5 4.6 .5-5.2 .5 5.1 .5-6.7 .5 6.5 .5-5.1 .5 5.3 .5-4.9 .5 5.7 .5-5.7 .5 4.4 .5-5.4 .5 9.1 .5-7.7 .5 4.5 .5-4.8 .5 6.5 .5-6.4 .5 6.1 .5-8.3 .5 10.3 .5-7.6 .5 5.7 .5-5.8 .5 6.6 .5-12.3 .5 9.6 .5-4.6 .5 6.9 .5-7 .5 6.5 .5-8.2 .5 8.8 .5-7.4 .5 6.9 .5-8.3 .5 7.6 .5-6.6 .5 4.9 .5-4.7 .5 6.3 .5-5.7 .5 4.2 .5-5.3 .5 5.3 .5-5.8 .5 7.3 .5-7.8 .5 5.5 .5-4.7 .5 5.4 .5-6 .5 7.9 .5-10.1 .5 8.2 .5-7.6 .5 11 .5-9.3 .5 5.5 .5-5.4 .5 5.6 .5-6.6 .5 5.7 .5-5.1 .5 4.8 .5-5.2 .5 5 .5-5.4 .5 5.7 .5-5.2 .5 7.6 .5-9.7 .5 8.3 .5-6.9 .5 5.9 .5-8.5 .5 10.5 .5-10.1 .5 10.7 .5-7.5 .5 5.7 .5-6.3 .5 6.3 .5-6.1 .5 6.5 .5-5.9 .5 4.2 .5-7.1 .5 9.1 .5-8.4 .5 7 .5-7.2 .5 6.6 .5-4.4 .5 4.5 .5-4.6 .5 4.5 .5-7.4 .5 8 .5-5.2 .5 4.4 .5-4.8 .5 6.2 .5-8.1 .5 8.8 .5-8.8 .5 8 .5-9.8 .5 10.4 .5-6.6 .5 4.5 .5-4.8 .5 5 .5-4.7 .5 5.5 .5-6.4 .5 10.1 .5-12 .5 9.9 .5-7.7 .5 8.1 .5-8.7 .5 8.9 .5-7.7 .5 7.4 .5-9.1 .5 6.4 .5-5.7 .5 5.6 .5-4.4 .5 5 .5-5.8 .5 5.2 .5-4.8 .5 4.5 .5-4.9 .5 9.1 .5-11.1 .5 6.3 .5-5 .5 5.6 .5-6.4 .5 5.4 .5-5.9 .5 3.8 .5-7.5 .5 7.2 .5-6 .5 5.8 .5-8.3 .5 5.5 .5-6.8 .5 5.6 .5-7.3 .5 4.7 .5-7.7 .5 3.8 .5-7.8 .5 5.5 .5-9.2 .5 6.4 .5-9.1 .5 3.6 .5-7.7 .5 4.6 .5-10.8 .5 5.8 .5-7.4 .5 4.6 .5-9.7 .5 3.9 .5-8.9 .5 3.5 .5-9.2 .5 7 .5-13.3 .5 4.8 .5-7.5 .5 3.2 .5-8.3 .5 5 .5-9.6 .5 5.6 .5-7.9 .5 3.7 .5-5.8 .5 5.8 .5-4.3 .5 7.2 .5-5.5 .5 9.8 .5-5.6 .5 8.5 .5-3.1 .5 7.6 .5-3.2 .5 7.7 .5-4 .5 8.7 .5-4.3 .5 11.6 .5-4.8 .5 7.8 .5-2 .5 9.3 .5-7.1 .5 8.6 .5-3 .5 9 .5-4.1 .5 6.2 .5-2.8 .5 5.6 .5-3 .5 7.8 .5-4.7 .5 6.3 .5-2.8 .5 5.5 .5-4.1 .5 7.7 .5-4.8 .5 5.9 .5-5 .5 7.9 .5-6 .5 10.2 .5-7.2 .5 8.5 .5-8.7 .5 10 .5-8.5 .5 9 .5-8.1 .5 5.1 .5-4.9 .5 6.9 .5-6.3 .5 6.2 .5-4.2 .5 3.6 .5-3.4 .5 3.8 .5-3.7 .5 3.9 .5-5.6 .5 7.4 .5-6.1 .5 5.9 .5-5.7 .5 4.3 .5-3.7 .5 3.8 .5-4.9 .5 6.6 .5-6.3 .5 5.3 .5-6.5 .5 8 .5-7 .5 4.4 .5-4.1 .5 5.1 .5-5.1 .5 5 .5-5.2 .5 4.4 .5-4 .5 5.2 .5-5.9 .5 10.7 .5-9.8 .5 10.1 .5-10.9 .5 9.5 .5-10.7 .5 5.4 .5-3.9 .5 4.4 .5-4.5 .5 3.6 .5-3.9 .5 4.6 .5-5.1 .5 4.8 .5-4.7 .5 5.8 .5-7.3 .5 5.4 .5-3.6 .5 5.3 .5-5.3 .5 3.6 .5-4.3 .5 4.5 .5-6.3 .5 7.4 .5-9 .5 8.9 .5-5.6 .5 3.9 .5-4 .5 6.2 .5-7 .5 4.2 .5-7.1 .5 7.7 .5-4.1 .5 4.1 .5-5.5 .5 6.3 .5-6.4 .5 6.2 .5-5.2 .5 5 .5-6 .5 5.4 .5-3.5 .5 3.3 .5-4.3 .5 4.5 .5-4.3 .5 5.4 .5-4.3 .5 4.9 .5-4.8 .5 3.8 .5-4.5 .5 5.6 .5-4.5 .5 3.8 .5-4 .5 3.9 .5-3.5 .5 4.1 .5-4.6 .5 6.2 .5-5.2 .5 4.7 .5-5.7 .5 6.6 .5-7.3 .5 5.2 .5-7 .5 7.9 .5-8 .5 7.8 .5-4.2 .5 4.9 .5-6.9 .5 8.9 .5-8.1 .5 5.3 .5-5.1 .5 5.2 .5-3.7 .5 3.2 .5-4.3 .5 6.6 .5-8.6 .5 7 .5-4.9 .5 6.3 .5-5.1 .5 5.5 .5-7.3 .5 6.7 .5-4.3 .5 6.3 .5-7.2 .5 4.5 .5-4.8 .5 4.9 .5-3.3 .5 3.9 .5-4.5 .5 4.8 .5-4.5 .5 4.1 .5-4.5 .5 4.7 .5-7.2 .5 6.7 .5-7 .5 7.3 .5-7 .5 9.5 .5-9.2 .5 6.4 .5-3.7 .5 3.4 .5-5.4 .5 5.1 .5-4.5 .5 4.6 .5-3.6 .5 3.5 .5-5.1 .5 6.1 .5-4.8 .5 4.7 .5-4.2 .5 3.5 .5-4.1 .5 3.8 .5-4.2 .5 8.1 .5-6.8 .5 5.4 .5-6.2 .5 4.6 .5-5 .5 4.3 .5-4.7 .5 5.2 .5-4.2 .5 6.7 .5-8 .5 6.3 .5-6 .5 6.7 .5-5.6 .5 3 .5-3.9 .5 4.5 .5-4.4 .5 4.6 .5-4.7 .5 4.3 .5-4 .5 4 .5-3.5 .5 5.1 .5-5.6 .5 5.7 .5-6.1 .5 5.6 .5-4.8 .5 4.4 .5-4.5 .5 5.1 .5-5.3 .5 4.6 .5-5.4 .5 5.2 .5-4.5 .5 4.3 .5-4 .5 5.8 .5-6.7 .5 6.6 .5-6.4 .5 5.7 .5-7.2 .5 6.3 .5-6.1 .5 3.8 .5-5.3 .5 4.4 .5-4.9 .5 4.9 .5-5 .5 5.6 .5-8.2 .5 5.8 .5-4.7 .5 3.6 .5-3.7 .5 4.1 .5-5.2 .5 4.5 .5-5.4 .5 4 .5-4.7 .5 2.8 .5-5.7 .5 4.3 .5-6 .5 5.1 .5-5.7 .5 3.9 .5-5.3 .5 2.7 .5-5.9 .5 2.4 .5-5.7 .5 2.2 .5-7.4 .5 5.3 .5-7.6 .5 4.3 .5-4.7 .5 3.3 .5-3.4 .5 5.8 .5-4.2 .5 8.5 .5-6.4 .5 9.5 .5-4.7 .5 7.8 .5-5 .5 4.8 .5-2.9 .5 7.4 .5-5.9 .5 4.8 .5-4.1 .5 5.7 .5-4.1 .5 5.2 .5-3.5 .5 4.9 .5-5.3 .5 8.1 .5-5.2 .5 5.5 .5-3.6 .5 3.8 .5-4.8 .5 5.8 .5-2.5 .5 4.6 .5-3.7 .5 3.5 .5-3.1 .5 4.9 .5-4.4 .5 6.4 .5-5.3 .5 4.4 .5-4.1 .5 5 .5-6.9 .5 4.9 .5-3.1 .5 3.7 .5-3.2 .5 3.4 .5-3.9 .5 5.3 .5-5.8 .5 4.5 .5-4.9 .5 5.6 .5-5.2 .5 4.4 .5-3.5 .5 4.6 .5-6 .5 5 .5-2.8 .5 3.9 .5-4.4 .5 5 .5-4.5 .5 4.8 .5-5.2 .5 6.2 .5-5.3 .5 5.9 .5-5.9 .5 6.7 .5-6.9 .5 6.9 .5-7.2 .5 8 .5-8.1 .5 6.8 .5-7.4 .5 3.9 .5-2.7 .5 3.3 .5-3.3 .5 3.3 .5-4 .5 3.7 .5-3.2 .5 4.2 .5-4.1 .5 2.9 .5-2.9 .5 4.3 .5-5.1 .5 6 .5-5.3 .5 3.2 .5-3.1 .5 4.3 .5-4.8 .5 5.2 .5-5 .5 2.8 .5-2.4 .5 3.3 .5-4.6 .5 5.2 .5-4.1 .5 2.8 .5-3.9 .5 5.1 .5-5.5 .5 4.8 .5-3.3 .5 2.4 .5-6.1 .5 7 .5-6.9 .5 6.7 .5-6.5 .5 6.8 .5-6.9 .5 8.1 .5-6 .5 4.2 .5-3.1 .5 3.9 .5-4.9 .5 4.7 .5-4.7 .5 4 .5-3.2 .5 2.9 .5-3.2 .5 2.8 .5-2.7 .5 2.7 .5-2.5 .5 3.3 .5-3.4 .5 3.1 .5-3 .5 2.8 .5-2.9 .5 2.9 .5-5.2 .5 6.5 .5-6.3 .5 5.5 .5-5.6 .5 6 .5-3.6 .5 2.5 .5-3.9 .5 4.2 .5-2.8 .5 2.6 .5-2.2 .5 2.3 .5-2.5 .5 3.8 .5-4.2 .5 3.4 .5-4 .5 3.7 .5-2.8 .5 2.3 .5-3.5 .5 5.6 .5-4.7 .5 2.7 .5-3.5 .5 3.4 .5-3.2 .5 3.5 .5-2.6 .5 2.9 .5-2.9 .5 4.9 .5-6 .5 6.2 .5-4.9 .5 3 .5-3.6 .5 2.8 .5-2.7 .5 2.8 .5-3.2 .5 2.8 .5-2.6 .5 3.5 .5-3.4 .5 4.2 .5-5.1 .5 3.6 .5-2.8 .5 3.6 .5-3.8 .5 2.3 .5-2.6 .5 2.2 .5-2.7 .5 2 .5-3.1 .5 3.3 .5-3 .5 2.6 .5-3.4 .5 2.4 .5-3.3 .5 4.3 .5-4.7 .5 2.4 .5-3.2 .5 2.7 .5-4.1 .5 3.4 .5-3.9 .5 2.2 .5-3.2 .5 3.1 .5-3.8 .5 1.9 .5-2.5 .5 1.8 .5-3.9 .5 2.8 .5-3.6 .5 2.6 .5-3.5 .5 1.7 .5-4.7 .5 3.3 .5-5.2 .5 3.5 .5-5.7 .5 3.3 .5-3.7 .5 2.4 .5-4.1 .5 2 .5-3.1 .5 1.8 .5-2.7 .5 3.6 .5-6.3 .5 4.3 .5-3 .5 3.1 .5-2.7 .5 3.6 .5-1.8 .5 3 .5-1.8 .5 3.7 .5-2.2 .5 4.3 .5-2.5 .5 3.2 .5-1.8 .5 3.7 .5-1.8 .5 3.4 .5-2.1 .5 3.8 .5-2.2 .5 4.4 .5-2.7 .5 3.6 .5-2.8 .5 3.4 .5-1.7 .5 3.4 .5-2.5 .5 4.6 .5-4.2 .5 5.1 .5-3.4 .5 4.1 .5-2.9 .5 3.6 .5-2.9 .5 2 .5-1.5 .5 2.6 .5-2.9 .5 2.3 .5-1.5 .5 1.9 .5-1.5 .5 2.3 .5-2.3 .5 2.2 .5-1.8 .5 2.3 .5-2.3 .5 4.2 .5-3.6 .5 3.4 .5-2.7 .5 3.3 .5-3.3 .5 3.3 .5-3.4 .5 2.5 .5-1.9 .5 2 .5-2.5 .5 3 .5-2.6 .5 2.3 .5-2.1 .5 1.8 .5-1.8 .5 2.9 .5-3.4 .5 2.6 .5-2.4 .5 2.2 .5-2 .5 1.6 .5-1.9 .5 2.4 .5-2.1 .5 1.6 .5-2.1 .5 2 .5-1.4 .5 2 .5-2 .5 1.7 .5-2.3 .5 2.6 .5-2.6 .5 2.2 .5-2.1 .5 1.5 .5-1.7 .5 2.1 .5-2.2 .5 1.8 .5-1.9 .5 2.4 .5-2.9 .5 2.2 .5-2.3 .5 2.1 .5-2 .5 1.1 .5-1.5 .5 2.3 .5-2.7 .5 1.7 .5-2.1 .5 1.1 .5-1.8 .5 2.1 .5-3.1 .5 2.1 .5-2.5 .5 1.6 .5-2.2 .5 1.5 .5-2.3 .5 1.4 .5-2.8 .5 1.3 .5-2.9 .5 2.2 .5-3.5 .5 2.1 .5-3.5 .5 1.3 .5-3.2 .5 1.7 .5-2.8 .5 1.3 .5-2.6 .5 .7 .5-2.2 .5 .7 .5-3.1 .5 1.6 .5-2.7 .5 1.1 .5-2.3 .5 .9 .5-1.6 .5 1.4 .5-1.6 .5 1.4 .5-1.3 .5 1.6 .5-1.5 .5 2.4 .5-1.9 .5 2.4 .5-1.3 .5 1.9 .5-1.9 .5 2 .5-1.2 .5 2.3 .5-1.5 .5 2.1 .5-2.3 .5 2 .5-1.3 .5 1.4 .5-1.3 .5 1.4 .5-1.5 .5 2.3 .5-1.8 .5 1.6 .5-1.7 .5 2.1 .5-.8 .5 2 .5-.9 .5 2.3 .5-1.4 .5 2.3 .5-.4 .5 1.7 .5-.2 .5 1.8 .5-.6 .5 1.9 .5-.9 .5 2.4 .5-.8 .5 1.7 .5-.4 .5 2 .5-1.1 .5 1.8 .5-.7 .5 1.7 .5-.9 .5 1.6 .5-1.2 .5 1.7 .5-.8 .5 1.5 .5-.9 .5 1.5 .5-1.3 .5 1.7 .5-1.2 .5 1.5 .5-.8 .5 1.3 .5-.8 .5 1 .5-.7 .5 1.3 .5-1.4 .5 1.5 .5-.8 .5 .9 .5-.9 .5 1.1 .5-1 .5 1.5 .5-1.2 .5 1.3 .5-1.6 .5 1.4 .5-1.2 .5 1.5 .5-1.3 .5 1.3 .5-1.1 .5 .9 .5-.9 .5 .9 .5-1.3 .5 1.9 .5-1.4 .5 1.2 .5-1.3 .5 .9 .5-.8 .5 1 .5-.8 .5 .9 .5-1.2 .5 1.3 .5-1.1 .5 1 .5-.8 .5 .9 .5-1.3 .5 1.3 .5-1.6 .5 1.5 .5-.9 .5 .9 .5-1.1 .5 1.1 .5-1 .5 1.3 .5-1.5 .5 1.4 .5-1.1 .5 1.9 .5-1.9 .5 1.1 .5-.9 .5 1.1 .5-1.2 .5 1.3 .5-1.2 .5 1.2 .5-1 .5 1.3 .5-1.3 .5 1.2 .5-1.3 .5 1.4 .5-1.1 .5 1 .5-1.5 .5 1.2 .5-.8 .5 .9 .5-1.9 .5 1.8 .5-1.5 .5 1.3 .5-1.3 .5 1.5 .5-1.3 .5 1.3 .5-1.7 .5 1.4 .5-.9 .5 .9 .5-1.1 .5 1.2 .5-1 .5 1 .5-1.4 .5 1.5 .5-1.6 .5 1.1 .5-1 .5 .7 .5-1.9 .5 1.7 .5-1 .5 .7 .5-1.2 .5 1.1 .5-1.2 .5 1.4 .5-2 .5 1.5 .5-1.5 .5 1.5 .5-1.8 .5 1.5 .5-1.7 .5 1.4 .5-1.7 .5 1 .5-1.4 .5 .9 .5-1.2 .5 1.2 .5-1.5 .5 .6 .5-1.3 .5 .8 .5-1.5 .5 1.1 .5-1.6 .5 .7 .5-1.5 .5 .9 .5-1.9 .5 .6 .5-1.4 .5 .9 .5-1.8 .5 .8 .5-2.2 .5 1.6 .5-2.4 .5 1.2 .5-2 .5 1.3 .5-1.7 .5 1.3 .5-1.7 .5 1.1 .5-1.3 .5 1.3 .5-1.7 .5 1.2 .5-1 .5 1.5 .5-2.2 .5 2.7 .5-2.2 .5 2.5 .5-2 .5 2.5 .5-1.2 .5 2.4 .5-1.8 .5 2.1 .5-.7 .5 1.6 .5-.8 .5 1.9 .5-1 .5 1.9 .5-1 .5 1.6 .5-1.1 .5 1.8 .5-.7 .5 1.3 .5-.6 .5 1.6 .5-1.6 .5 2.4 .5-1.8 .5 2 .5-1 .5 1.4 .5-1 .5 1.2 .5-.9 .5 1.3 .5-1.3 .5 1.6 .5-1 .5 1.4 .5-.9 .5 1.1 .5-1.1 .5 1.2 .5-.9 .5 1 .5-1.1 .5 1.5 .5-1.6 .5 2.2 .5-1.4 .5 1.2 .5-.8 .5 1.7 .5-1.6 .5 1.4 .5-1.6 .5 1.9 .5-1.3 .5 1.1 .5-1.4 .5 1.6 .5-1.4 .5 1.2 .5-1 .5 .9 .5-1.2 .5 1.2 .5-1.5 .5 2 .5-1.7 .5 1.6 .5-1.7 .5 1.4 .5-1.4 .5 1.3 .5-1 .5 1.1 .5-1 .5 .8 .5-.8 .5 .8 .5-1 .5 1.2 .5-1 .5 .8 .5-.9 .5 1 .5-1.2 .5 1.5 .5-2 .5 1.4 .5-1.5 .5 1.6 .5-1.5 .5 1.4 .5-1.2 .5 1.2 .5-1.2 .5 1.1 .5-1.7 .5 1.7 .5-1.4 .5 1.6 .5-1.1 .5 .8 .5-.9 .5 .9 .5-1.2 .5 1.1 .5-1.6 .5 1.3 .5-1.2 .5 1.2 .5-1.3 .5 1 .5-1.8 .5 1.4 .5-1.2 .5 .9 .5-1.6 .5 1.5 .5-1.9 .5 1.1 .5-1.4 .5 1 .5-1.5 .5 1.2 .5-1.5 .5 1 .5-1.8 .5 1.9 .5-1.8 .5 1 .5-1.6 .5 .8 .5-1.5 .5 1.5 .5-1.5 .5 1.2 .5-1.4 .5 1.2 .5-1.9 .5 1.4 .5-1.3 .5 1.4 .5-1.5 .5 1.6 .5-.9 .5 1.5 .5-1.4 .5 1.2 .5-1.1 .5 1.2 .5-1.5 .5 1.6 .5-1.4 .5 1.4 .5-1.8 .5 1.6 .5-1.4 .5 1.3 .5-1.1 .5 1 .5-1.2 .5 1.1 .5-1.1 .5 1.7 .5-1.8 .5 1.7 .5-2 .5 1.8 .5-1.7 .5 1.8 .5-2 .5 1.3 .5-1.3 .5 1.3 .5-1.2 .5 1.1 .5-1.5 .5 1.7 .5-1.2 .5 1.1 .5-.9 .5 1.3 .5-1 .5 1.8 .5-1.5 .5 1.5 .5-1.4 .5 1.7 .5-1 .5 1.2 .5-.8 .5 1.4 .5-1.2 .5 1.9 .5-1.1 .5 2 .5-2.1 .5 2 .5-1.4 .5 2 .5-1.5 .5 1.7 .5-1.2 .5 1 .5-.7 .5 1.2 .5-1.4 .5 1.4 .5-.8 .5 1.6 .5-1.8 .5 1.6 .5-1.3 .5 1.2 .5-.9 .5 1.2 .5-1 .5 1.1 .5-1 .5 1 .5-1.1 .5 1.4 .5-1.2 .5 1.2 .5-1.1 .5 1.6 .5-1.1 .5 1.1 .5-1.3 .5 1.3 .5-.9 .5 .9 .5-1.4 .5 1.4 .5-1.2 .5 1.6 .5-1.4 .5 1.1 .5-.8 .5 1.2 .5-1.6 .5 1.4 .5-1.8 .5 1.8 .5-1.4 .5 1 .5-1.1 .5 1.1 .5-1.3 .5 1.1 .5-1.2 .5 1.4 .5-1.6 .5 .9 .5-.9 .5 1.2 .5-1.4 .5 1.2 .5-2 .5 2.1 .5-2 .5 1.6 .5-1.4 .5 1.2 .5-1.5 .5 .8 .5-1.1 .5 1.1 .5-1.6 .5 1.6 .5-2.4 .5 1.5 .5-1.2 .5 .9 .5-1.2 .5 1 .5-1.3 .5 1.5 .5-1.9 .5 .9 .5-1.1 .5 .7 .5-1.2 .5 1.1 .5-1.7 .5 1.3 .5-1.4 .5 1.3 .5-2.2 .5 1.7 .5-1.7 .5 1.4 .5-1.5 .5 .8 .5-1.4 .5 1.5 .5-1.3 .5 1.4 .5-1 .5 1.2 .5-1.7 .5 1.9 .5-1 .5 1.3 .5-1.1 .5 1.6 .5-1.3 .5 1.3 .5-.7 .5 1 .5-1.2 .5 1.5 .5-.7 .5 1.4 .5-1.5 .5 2.2 .5-1.9 .5 1.4 .5-1.4 .5 1.9 .5-1.2 .5 1.3 .5-.7 .5 2.3 .5-2.2 .5 2.5 .5-2.1 .5 2.5 .5-2.5 .5 2.9 .5-1.9 .5 1 .5-1.1 .5 1.5 .5-.8 .5 1.3 .5-1 .5 1.5 .5-1.2 .5 1.3 .5-1.6 .5 1.5 .5-.6 .5 1.2 .5-1.5 .5 1.3 .5-1.2 .5 1.7 .5-1.3 .5 1.2 .5-1 .5 1 .5-1.2 .5 1 .5-1.6 .5 2.3 .5-1.7 .5 1.8 .5-2.1 .5 2 .5-1.8 .5 1.6 .5-2.1 .5 2.3 .5-1.7 .5 1.1 .5-1.1 .5 1.4 .5-1.4 .5 1.2 .5-1.2 .5 1.2 .5-1.6 .5 1.9 .5-1.2 .5 .9 .5-1 .5 1 .5-.9 .5 1.3 .5-1.6 .5 1.6 .5-1.6 .5 1.5 .5-1.1 .5 1 .5-1.5 .5 1.4 .5-1 .5 .9 .5-.8 .5 .7 .5-1 .5 1 .5-.8 .5 1.4 .5-1.3 .5 1 .5-.9 .5 .9 .5-1.3 .5 1.7 .5-1.3 .5 1.1 .5-.9 .5 .9 .5-1.2 .5 1.5 .5-1 .5 .8 .5-1 .5 1 .5-.9 .5 1 .5-1.2" stroke="#008000"/>
<path d="M1206.5 320.9l.5-6.1 .5 4.4 .5-3.3 .5 3 .5-3.7 .5 3.6 .5-3.6 .5 6 .5-5 .5 3.4 .5-3.4 .5 2.9 .5-3.7 .5 5.4 .5-4.9 .5 4.2 .5-4.1 .5 3.9 .5-3.1 .5 3.3 .5-3.7 .5 3.8 .5-2.7 .5 2.8 .5-3 .5 4 .5-3.6 .5 5.1 .5-5.5 .5 2.9 .5-3.2 .5 3.4 .5-2.7 .5 3 .5-3.5 .5 3.2 .5-3.3 .5 3.4 .5-3.6 .5 3.2 .5-4.5 .5 4.3 .5-3.7 .5 3.1 .5-3.1 .5 3.6 .5-4.5 .5 3.6 .5-3 .5 3.5 .5-5.2 .5 4.1 .5-4 .5 3.8 .5-4.5 .5 5.6 .5-3.8 .5 2.4 .5-2.4 .5 2.9 .5-3.3 .5 4.2 .5-4.8 .5 3.8 .5-3.1 .5 4.3 .5-4.7 .5 3.4 .5-4.3 .5 4.2 .5-2.9 .5 2.7 .5-3.4 .5 4.1 .5-4.2 .5 3.6 .5-3.2 .5 3.9 .5-3.9 .5 3.1 .5-2.9 .5 3.1 .5-2.8 .5 4.4 .5-4.4 .5 3.2 .5-3.4 .5 2.6 .5-3.8 .5 3.8 .5-3.3 .5 5.4 .5-5.4 .5 4 .5-2.9 .5 2.7 .5-2.9 .5 2.8 .5-3.6 .5 3.7 .5-4 .5 4.7 .5-7.3 .5 7 .5-7.2 .5 6.6 .5-6.7 .5 5.8 .5-5.4 .5 6.4 .5-3.8 .5 3.9 .5-3.7 .5 2.6 .5-2.5 .5 3.9 .5-4.2 .5 3 .5-2.8 .5 3.1 .5-2.6 .5 3.2 .5-4.4 .5 4.2 .5-4.1 .5 3.7 .5-2.8 .5 2.7 .5-4.3 .5 4.4 .5-4.2 .5 3.9 .5-4.2 .5 4.5 .5-4.5 .5 4.2 .5-3.4 .5 3.8 .5-3 .5 3.3 .5-2.9 .5 4 .5-4.9 .5 4.7 .5-6.1 .5 4.8 .5-5.3 .5 5.7 .5-5.7 .5 6.7 .5-6.5 .5 5.9 .5-5.4 .5 4.7 .5-2.5 .5 3.4 .5-3.6 .5 3.8 .5-4.2 .5 3.3 .5-2.8 .5 3.3 .5-3.2 .5 3.8 .5-4.1 .5 4.7 .5-4.1 .5 3.6 .5-3.5 .5 3.4 .5-3.6 .5 3.8 .5-3.5 .5 4.2 .5-4.7 .5 3.9 .5-2.7 .5 3.1 .5-3 .5 3.4 .5-4.5 .5 4.3 .5-4.2 .5 4.1 .5-4.6 .5 5.7 .5-4.2 .5 2.3 .5-3 .5 3.6 .5-5.2 .5 4 .5-4.3 .5 4.4 .5-2.5 .5 2.6 .5-3.5 .5 2.7 .5-3 .5 3.1 .5-2.6 .5 2.7 .5-2.6 .5 2.4 .5-3.4 .5 4.2 .5-2.9 .5 4.6 .5-4.9 .5 3.5 .5-3.5 .5 4.8 .5-4.8 .5 4 .5-3.8 .5 3.5 .5-2.6 .5 3.4 .5-3.2 .5 2.1 .5-2.6 .5 4 .5-4.6 .5 3 .5-3.5 .5 4 .5-3.4 .5 3.1 .5-3.6 .5 3.1 .5-2.6 .5 2.8 .5-3 .5 3.3 .5-3.1 .5 4.5 .5-5.2 .5 3.7 .5-3.4 .5 3.2 .5-2.8 .5 4.1 .5-3.7 .5 3.5 .5-4.1 .5 3.3 .5-3 .5 4 .5-3.2 .5 2.8 .5-2.9 .5 2.8 .5-3.7 .5 3.8 .5-4.1 .5 3.5 .5-3.4 .5 3 .5-3.6 .5 3.3 .5-2.3 .5 2.3 .5-2.7 .5 2.7 .5-2.3 .5 3.2 .5-3.4 .5 2.8 .5-3.2 .5 2.4 .5-2.3 .5 3.6 .5-4.9 .5 3.6 .5-2.8 .5 2.7 .5-3.2 .5 3.9 .5-3.7 .5 2.4 .5-3.1 .5 3.7 .5-3.4 .5 2.6 .5-2.6 .5 2.1 .5-2.2 .5 2.6 .5-2.9 .5 2.3 .5-2.6 .5 2.7 .5-3.5 .5 3.3 .5-2.8 .5 2.5 .5-2.5 .5 4.4 .5-4.7 .5 2.9 .5-2.4 .5 3.3 .5-3 .5 3.7 .5-4.3 .5 3.5 .5-3 .5 2.7 .5-2.9 .5 3 .5-2.4 .5 2.6 .5-2.8 .5 3.1 .5-2.7 .5 4.4 .5-4.7 .5 5.2 .5-5.2 .5 3.5 .5-2.9 .5 3.1 .5-3 .5 3.5 .5-3 .5 3.3 .5-4 .5 5 .5-3.9 .5 2.8 .5-3.8 .5 3.8 .5-2.7 .5 3.1 .5-4.2 .5 4.2 .5-5.5 .5 5.2 .5-5.4 .5 4.9 .5-4.8 .5 5.3 .5-2.7 .5 2.9 .5-4.9 .5 4.8 .5-2.9 .5 3.7 .5-4.6 .5 4.1 .5-3.3 .5 2.9 .5-3.2 .5 2.8 .5-3.7 .5 4.8 .5-4 .5 3 .5-2.8 .5 3.2 .5-3.5 .5 3.1 .5-2.8 .5 2.7 .5-3.5 .5 4.4 .5-3.7 .5 2.7 .5-2.8 .5 3.1 .5-3.2 .5 3.4 .5-3.1 .5 3.1 .5-2.9 .5 3.2 .5-4.7 .5 3.5 .5-3.3 .5 3.5 .5-2.9 .5 4 .5-3.8 .5 3.4 .5-4.5 .5 4 .5-2.9 .5 2.2 .5-2 .5 2.2 .5-3.7 .5 5 .5-3.6 .5 2.5 .5-3.5 .5 3.2 .5-2.7 .5 5.4 .5-5.7 .5 5.9 .5-5.8 .5 5 .5-6.8 .5 6.7 .5-6.7 .5 4.1 .5-4.1 .5 5.2 .5-5.4 .5 4.6 .5-3.6 .5 2.3 .5-2 .5 2 .5-2.6 .5 2.9 .5-3.4 .5 4.1 .5-4.7 .5 5.7 .5-4 .5 3.4 .5-3.5 .5 3 .5-2.5 .5 2.7 .5-3.6 .5 3.7 .5-3.2 .5 5.8 .5-6.1 .5 6.4 .5-5.8 .5 4.9 .5-5 .5 3.6 .5-4.1 .5 2.6 .5-4.3 .5 4.7 .5-3.8 .5 3 .5-2.6 .5 1.8 .5-3.5 .5 3.8 .5-3.5 .5 3.5 .5-4 .5 2.4 .5-3.1 .5 2.9 .5-3.6 .5 2.7 .5-3.5 .5 2.2 .5-3.6 .5 2.1 .5-4.4 .5 3.5 .5-3.9 .5 2.2 .5-5.8 .5 4.3 .5-6.6 .5 3.5 .5-5.1 .5 2.1 .5-4.2 .5 .6 .5-4.6 .5 1.3 .5-4.6 .5 .7 .5-6.4 .5 2.5 .5-5.9 .5 1.6 .5-4.9 .5 .5 .5-5.5 .5 1.4 .5-5.9 .5 1.1 .5-8.7 .5 3.6 .5-7 .5 3.9 .5-6.9 .5 1.8 .5-6.5 .5 3.5 .5-4.8 .5 2.6 .5-4.3 .5 5.1 .5-4.1 .5 6.1 .5-3.2 .5 5.9 .5-2.5 .5 6.6 .5-2.1 .5 5.5 .5-.5 .5 5.7 .5-1.4 .5 6.3 .5-1.5 .5 4.9 .5-.9 .5 5.5 .5-1.9 .5 6.4 .5-.7 .5 5.3 .5-2 .5 5.2 .5-2 .5 5 .5-1.2 .5 4 .5-.7 .5 4.5 .5-2.5 .5 5.1 .5-2 .5 3.1 .5-1.6 .5 7.3 .5-5.4 .5 7 .5-6.4 .5 6.5 .5-4 .5 5.2 .5-4.4 .5 5.7 .5-4.6 .5 5.1 .5-4 .5 3.2 .5-3.5 .5 4.6 .5-3.7 .5 4.7 .5-4.4 .5 3.7 .5-3.4 .5 3.3 .5-2 .5 2.7 .5-2.5 .5 2.3 .5-2.7 .5 2.5 .5-2.1 .5 2.3 .5-2.3 .5 2.5 .5-2.9 .5 3.3 .5-2.6 .5 3.1 .5-2.8 .5 2 .5-2.6 .5 3 .5-2.3 .5 2.5 .5-2.6 .5 2.3 .5-3.2 .5 4.2 .5-3.3 .5 2.3 .5-2.7 .5 2.8 .5-2.1 .5 1.8 .5-2.4 .5 2.2 .5-2 .5 2 .5-3 .5 2.9 .5-3.3 .5 3.8 .5-3.7 .5 3.6 .5-2.7 .5 2.4 .5-2.4 .5 2.4 .5-2.4 .5 3.5 .5-3.8 .5 3.6 .5-3.3 .5 3.9 .5-3.6 .5 3.7 .5-2.8 .5 2 .5-2.1 .5 2.2 .5-2.1 .5 2.2 .5-2.4 .5 3.2 .5-2.8 .5 2.1 .5-2 .5 1.9 .5-2.8 .5 2.7 .5-2.1 .5 2.4 .5-5.1 .5 5 .5-5.2 .5 4.5 .5-4.2 .5 4.6 .5-4.6 .5 4.7 .5-2.6 .5 2 .5-2.7 .5 3 .5-3.1 .5 2.9 .5-2.4 .5 2.8 .5-2.8 .5 2.6 .5-3.2 .5 3.3 .5-2.2 .5 2.3 .5-2.7 .5 3.3 .5-2.7 .5 2.7 .5-2.6 .5 2.3 .5-3.1 .5 2.9 .5-2.6 .5 2.3 .5-2.7 .5 2.6 .5-2.1 .5 2.1 .5-3.3 .5 3.3 .5-2.3 .5 2.1 .5-2.7 .5 3.4 .5-3 .5 2.5 .5-2.3 .5 2 .5-2.3 .5 2.5 .5-2.1 .5 2.6 .5-3.5 .5 3.1 .5-2 .5 2.9 .5-3.4 .5 2.3 .5-2.6 .5 3.4 .5-2.8 .5 3.6 .5-3 .5 2.1 .5-2.1 .5 2.2 .5-2 .5 3 .5-3.8 .5 2.7 .5-2.4 .5 3.7 .5-3.5 .5 2.8 .5-3.8 .5 3.5 .5-2.6 .5 2 .5-2.3 .5 2 .5-3.2 .5 3.2 .5-2 .5 2.3 .5-2.6 .5 2 .5-3.4 .5 3.7 .5-2.6 .5 1.9 .5-2.4 .5 3.9 .5-3.8 .5 2.8 .5-2.6 .5 2.3 .5-2.7 .5 3.1 .5-2.4 .5 3.2 .5-3.7 .5 2.6 .5-3.1 .5 2.7 .5-2.4 .5 3 .5-2.2 .5 1.8 .5-1.6 .5 2.2 .5-3 .5 3 .5-2.9 .5 3.5 .5-3.7 .5 3.4 .5-3.7 .5 3.8 .5-2.4 .5 1.7 .5-1.6 .5 2 .5-3.4 .5 3 .5-2.5 .5 3.1 .5-2.5 .5 1.8 .5-2.2 .5 2.6 .5-4 .5 3.2 .5-3 .5 3.4 .5-3.2 .5 2.5 .5-2.8 .5 3.3 .5-2.9 .5 2.5 .5-2.9 .5 3.2 .5-3.2 .5 3.2 .5-3.8 .5 3.1 .5-4.8 .5 4.5 .5-4.8 .5 2.9 .5-2.9 .5 3.5 .5-4.2 .5 2.1 .5-3.9 .5 3 .5-2.3 .5 2.6 .5-4.4 .5 2.6 .5-2.4 .5 3 .5-4.3 .5 2.5 .5-3.4 .5 1.6 .5-2.6 .5 1.7 .5-3.3 .5 1.9 .5-4.2 .5 1.1 .5-3.9 .5 2.7 .5-5.7 .5 1.8 .5-3.9 .5 1.5 .5-3.3 .5 3.2 .5-3.2 .5 3.1 .5-1.5 .5 4 .5-1.7 .5 5 .5-2.1 .5 3.7 .5-2.1 .5 5.3 .5-2.5 .5 2.9 .5-1 .5 2.8 .5-1.7 .5 2.9 .5-2.9 .5 3.4 .5-2.5 .5 4.1 .5-4.3 .5 4.9 .5-3.5 .5 5.5 .5-2.7 .5 2.3 .5-2.7 .5 3.6 .5-2.1 .5 2.4 .5-1.4 .5 2.6 .5-2.9 .5 3.7 .5-2.3 .5 2.1 .5-2.2 .5 3.9 .5-3 .5 3.5 .5-4 .5 2.9 .5-1.5 .5 2.3 .5-3.1 .5 3.1 .5-2.1 .5 2.1 .5-2.2 .5 3.5 .5-3.7 .5 3.4 .5-3.7 .5 3 .5-3.2 .5 3.6 .5-2.7 .5 2.3 .5-1.8 .5 2.9 .5-3.4 .5 2.3 .5-1.8 .5 2.4 .5-2.2 .5 1.6 .5-1.9 .5 2 .5-1.8 .5 1.5 .5-1.7 .5 2.1 .5-2.4 .5 1.9 .5-2.6 .5 3.5 .5-2.6 .5 2.6 .5-2.7 .5 2.7 .5-3.2 .5 2.5 .5-2.3 .5 2.6 .5-2.4 .5 2.9 .5-2.3 .5 1.8 .5-2.2 .5 2.3 .5-2.2 .5 2 .5-1.4 .5 1.8 .5-2.1 .5 2.4 .5-2.9 .5 2.2 .5-2.4 .5 2.6 .5-2.2 .5 2.2 .5-2.6 .5 2.6 .5-2.2 .5 2 .5-2.1 .5 1.8 .5-1.6 .5 2 .5-2 .5 1.9 .5-4.2 .5 4 .5-3.4 .5 3.6 .5-4 .5 4.4 .5-2.7 .5 1.9 .5-2.1 .5 2.8 .5-3 .5 2.5 .5-2.3 .5 2.7 .5-2.8 .5 2.2 .5-1.7 .5 1.7 .5-1.5 .5 1.7 .5-1.7 .5 2.3 .5-2.1 .5 2.1 .5-2.7 .5 2.3 .5-1.7 .5 2.2 .5-2.9 .5 3 .5-2.2 .5 1.5 .5-1.9 .5 2.3 .5-2 .5 1.7 .5-2.7 .5 2.6 .5-1.5 .5 1.4 .5-2 .5 2 .5-2.1 .5 1.8 .5-2.1 .5 2.3 .5-2.4 .5 2.6 .5-2.4 .5 2.1 .5-2 .5 1.8 .5-1.7 .5 1.9 .5-2.2 .5 2.6 .5-3.2 .5 2.5 .5-1.8 .5 2 .5-1.8 .5 2 .5-2.1 .5 1.7 .5-1.8 .5 1.9 .5-2.3 .5 2.5 .5-2.2 .5 1.7 .5-1.9 .5 2.3 .5-2.1 .5 1.7 .5-2.1 .5 1.8 .5-2.4 .5 2.8 .5-2.1 .5 1.7 .5-2.3 .5 2 .5-2.1 .5 1.6 .5-1.9 .5 1.5 .5-1.7 .5 1.5 .5-2.3 .5 1.5 .5-1.8 .5 1 .5-2.2 .5 2.1 .5-2.4 .5 2.2 .5-2.7 .5 1.5 .5-1.7 .5 1.2 .5-1.9 .5 1.7 .5-2.4 .5 1.2 .5-1.8 .5 1.9 .5-3.1 .5 1.7 .5-2.4 .5 1.3 .5-2.2 .5 .7 .5-3.1 .5 2.7 .5-3.4 .5 1.3 .5-2.6 .5 1 .5-2.3 .5 .7 .5-2.5 .5 1.9 .5-3.5 .5 1.4 .5-2.9 .5 1.6 .5-2.6 .5 1.6 .5-2.5 .5 1.4 .5-1.9 .5 1.9 .5-1.8 .5 3 .5-3.1 .5 2.9 .5-1.4 .5 3 .5-1.3 .5 3 .5-2.2 .5 3 .5-1.6 .5 3.2 .5-1.4 .5 2.4 .5-.6 .5 2.3 .5-1.1 .5 2.3 .5-.8 .5 2.6 .5-1.5 .5 2.9 .5-1.8 .5 1.8 .5-.8 .5 1.7 .5-1 .5 2.6 .5-1.6 .5 2.1 .5-1.1 .5 2.1 .5-1.7 .5 3.1 .5-2.2 .5 1.9 .5-1 .5 1.7 .5-1 .5 1.4 .5-1.8 .5 2.2 .5-1 .5 1.6 .5-1.5 .5 1.6 .5-1.3 .5 1.2 .5-1.2 .5 1.5 .5-1.8 .5 1.8 .5-1.1 .5 1.4 .5-1.2 .5 1.2 .5-1.4 .5 1.9 .5-1.8 .5 1.7 .5-1.3 .5 1.3 .5-1.5 .5 1.6 .5-2.2 .5 1.8 .5-1 .5 .9 .5-2.2 .5 2.6 .5-1.4 .5 1.1 .5-1.3 .5 1.4 .5-1.7 .5 1.4 .5-1.4 .5 2 .5-1.6 .5 1.4 .5-1.7 .5 1.5 .5-1 .5 1 .5-1 .5 1.4 .5-1.5 .5 1.6 .5-1.5 .5 1.2 .5-1.2 .5 1.1 .5-1.3 .5 1.9 .5-2.1 .5 1 .5-1.6 .5 1.3 .5-1.2 .5 .7 .5-1.3 .5 1.1 .5-1.6 .5 1 .5-1.3 .5 1 .5-1.6 .5 1.9 .5-2.6 .5 1.1 .5-1.5 .5 .6 .5-1.6 .5 1 .5-1.5 .5 .5 .5-1.9 .5 1.2 .5-1.7 .5 1 .5-2 .5 1.1 .5-2.3 .5 .6 .5-1.7 .5 .7 .5-2.1 .5 .5 .5-1.9 .5 .7 .5-1.7 .5 .3 .5-1.7 .5 .5 .5-1.9 .5 .5 .5-1.9 .5 1.2 .5-2.4 .5 1.1 .5-1.4 .5 2.2 .5-2.4 .5 2.2 .5-2.1 .5 2.3 .5-2.4 .5 2.9 .5-2.5 .5 2.8 .5-2.4 .5 1.9 .5-1.1 .5 1.4 .5-1 .5 2.1 .5-1.7 .5 2 .5-1.9 .5 2.1 .5-1.9 .5 2.1 .5-2 .5 1.8 .5-1.5 .5 1.9 .5-2.2 .5 2.4 .5-1 .5 1.4 .5-.8 .5 2 .5-1.1 .5 1.8 .5-.8 .5 2.1 .5-1.7 .5 3.1 .5-1.6 .5 2.6 .5-1.6 .5 2.7 .5-1.5 .5 2.4 .5-.4 .5 1.5 .5-.6 .5 1.7 .5-1 .5 1.5 .5-.6 .5 1.4 .5-.6 .5 2.1 .5-1.4 .5 2 .5-1.7 .5 2.1 .5-1.4 .5 2.1 .5-1.7 .5 1.2 .5-.8 .5 1.3 .5-.8 .5 1.4 .5-1 .5 1.3 .5-.9 .5 1.1 .5-.9 .5 1.2 .5-1 .5 1 .5-.7 .5 1 .5-.8 .5 .8 .5-.7 .5 1 .5-.8 .5 .8 .5-.7 .5 1.1 .5-1.2 .5 1 .5-1.6 .5 1.5 .5-1.6 .5 1.8 .5-1.8 .5 1.6 .5-1.5 .5 1.5 .5-1.5 .5 2 .5-1.2 .5 .8 .5-.7 .5 .6 .5-.6 .5 1 .5-1.1 .5 .9 .5-1.1 .5 1.1 .5-1.3 .5 1.2 .5-1 .5 1 .5-1.1 .5 .9 .5-.8 .5 1.3 .5-1.3 .5 .8 .5-.7 .5 .9 .5-1.2 .5 1.1 .5-1 .5 1.3 .5-1.3 .5 1.1 .5-.9 .5 .9 .5-1 .5 1.2 .5-1 .5 1 .5-.9 .5 1 .5-.7 .5 .6 .5-1.1 .5 1.2 .5-.9 .5 .8 .5-1.1 .5 1 .5-1.1 .5 .7 .5-.7 .5 .5 .5-1.2 .5 1.3 .5-1.2 .5 .9 .5-1.3 .5 1.1 .5-1.1 .5 1.4 .5-1.2 .5 .8 .5-.7 .5 .8 .5-1.1 .5 1 .5-1 .5 1 .5-.8 .5 .8 .5-1.2 .5 1.4 .5-1.8 .5 1.4 .5-1 .5 1 .5-1.2 .5 1 .5-1.3 .5 .8 .5-1.1 .5 1 .5-1 .5 .7 .5-1.3 .5 1.1 .5-1.3 .5 1.1 .5-1.3 .5 .9 .5-1 .5 1.1 .5-1.7 .5 .9 .5-.9 .5 .8 .5-1.1 .5 .6 .5-1.1 .5 .6 .5-1.6 .5 1.5 .5-1.8 .5 1.5 .5-2 .5 .9 .5-1.4 .5 .8 .5-1.4 .5 .8 .5-2 .5 1.3 .5-1.8 .5 1.4 .5-1.5 .5 1 .5-1.4 .5 .9 .5-1.6 .5 1.5 .5-1.5 .5 1.6 .5-1.4 .5 1.4 .5-1.3 .5 1.4 .5-.8 .5 1.6 .5-1.1 .5 1.2 .5-.6 .5 1.3 .5-.9 .5 1.6 .5-.9 .5 1.2 .5-1 .5 2.1 .5-1.1 .5 1.1 .5-.8 .5 1.5 .5-.8 .5 1 .5-.7 .5 1.2 .5-1 .5 1.4 .5-1.2 .5 2.1 .5-1.6 .5 1.7 .5-1 .5 1.3 .5-1.2 .5 1.5 .5-1 .5 1.4 .5-.9 .5 1.1 .5-.9 .5 1.4 .5-1 .5 1.2 .5-1.2 .5 1.6 .5-2 .5 1.8 .5-1.7 .5 1.7 .5-1.5 .5 1.7 .5-.9 .5 1 .5-1.2 .5 1.2 .5-.9 .5 1 .5-1.1 .5 1.2 .5-1.1 .5 1.1 .5-1.1 .5 1.1 .5-.7 .5 1 .5-1.3 .5 1.1 .5-.8 .5 1 .5-.8 .5 1 .5-1 .5 .7 .5-.7 .5 1 .5-.9 .5 .7 .5-.6 .5 1.1 .5-1.1 .5 1.1 .5-1.4 .5 .9 .5-.8 .5 .8 .5-.8 .5 .9 .5-.9 .5 1 .5-.6 .5 .7 .5-.9 .5 1.7 .5-1.4 .5 1.2 .5-1.2 .5 .9 .5-.8 .5 .9 .5-1.5 .5 1.1 .5-.7 .5 1 .5-1.4 .5 .7 .5-.8 .5 .9 .5-1.8 .5 1.5 .5-1.3 .5 1.3 .5-1 .5 .7 .5-1.1 .5 1.2 .5-1.4 .5 1.1 .5-1.2 .5 1.2 .5-1.4 .5 1.2 .5-1.1 .5 .8 .5-.8 .5 .5 .5-1.4 .5 1.3 .5-1.6 .5 1.4 .5-1.8 .5 1.3 .5-.9 .5 .7 .5-1.2 .5 1 .5-1.5 .5 .9 .5-.9 .5 1.2 .5-1.8 .5 .9 .5-1.1 .5 .9 .5-1 .5 .8 .5-1 .5 1.3 .5-1.1 .5 .8 .5-.7 .5 .9 .5-.8 .5 1.1 .5-1.7 .5 2 .5-2 .5 1.9 .5-1.7 .5 1.8 .5-1.4 .5 .9 .5-1.2 .5 1.5 .5-1.3 .5 1 .5-.8 .5 1.3 .5-1.4 .5 1.3 .5-1.5 .5 1.5 .5-1.6 .5 1.2 .5-.9 .5 1.1 .5-1.3 .5 1 .5-.8 .5 1.2 .5-1.4 .5 1 .5-1.2 .5 1.3 .5-1.5 .5 1.6 .5-1.6 .5 1.7 .5-1.2 .5 1.2 .5-1 .5 1 .5-.8 .5 1.7 .5-1.9 .5 1.8 .5-1.2 .5 1.2 .5-1.1 .5 1.4 .5-.8 .5 1 .5-.7 .5 1 .5-1 .5 1.7 .5-1.3 .5 1.6 .5-1.4 .5 1.1 .5-.9 .5 .9 .5-.7 .5 1.1 .5-.9 .5 1.1 .5-1.2 .5 1.3 .5-.8 .5 1 .5-.9 .5 1.2 .5-1.1 .5 1.1 .5-1.1 .5 1 .5-.7 .5 1.2 .5-1.4 .5 1.5 .5-1.1 .5 .7 .5-1.5 .5 1.8 .5-1.7 .5 1.7 .5-1.5 .5 1.9 .5-1.1 .5 .9 .5-.9 .5 1 .5-1 .5 1 .5-1.1 .5 .9 .5-1.1 .5 1.1 .5-1.5 .5 1.1 .5-1 .5 1.3 .5-1.2 .5 .6 .5-1 .5 1.1 .5-1 .5 .9 .5-1 .5 .9 .5-1.3 .5 1.3 .5-1 .5 .7 .5-.9 .5 1.2 .5-1.7 .5 1.5 .5-1.6 .5 1 .5-1.2 .5 1.1 .5-1.4 .5 1.2 .5-1.9 .5 1.4 .5-1.3 .5 .7 .5-1 .5 .7 .5-1.1 .5 .8 .5-1.4 .5 1 .5-1.2 .5 1.2 .5-1.3 .5 .7 .5-1.1 .5 1.4 .5-1.7 .5 1.1 .5-1.5 .5 1.4 .5-1.9 .5 1.3 .5-1 .5 .8 .5-1.2 .5 1.3 .5-1.5 .5 1.3 .5-1 .5 1.1 .5-1 .5 1.2 .5-1 .5 1.1 .5-1.4 .5 1.7 .5-1.1 .5 1 .5-.9 .5 1.5 .5-1.5 .5 1.2 .5-.8 .5 1.2 .5-1 .5 1 .5-.9 .5 1 .5-.8 .5 1.2 .5-1.1 .5 2 .5-1.5 .5 1.3 .5-1.1 .5 1.6 .5-1.1 .5 1.2 .5-.7 .5 1.2 .5-.7 .5 .9 .5-.6 .5 1.5 .5-1.2 .5 1.1 .5-1.1 .5 1.3 .5-1.1 .5 1.6 .5-1.3 .5 1.3 .5-1.2 .5 1.1 .5-.6 .5 1.7 .5-1.7 .5 1.7 .5-1.9 .5 2 .5-2.4 .5 2.7 .5-2.8 .5 2.8 .5-2.8 .5 2.1 .5-1.1 .5 .9 .5-1.1 .5 1.5 .5-1.1 .5 1.5 .5-1.3 .5 .7 .5-.7 .5 .6 .5-1.4 .5 1.5 .5-1 .5 1.5 .5-1.3 .5 1.2 .5-1.3 .5 .8 .5-.9 .5 .9 .5-2.1 .5 1.9 .5-1.8 .5 1.9 .5-1.9 .5 1.9 .5-.9 .5 1.2 .5-1.4 .5 1 .5-.7 .5 1 .5-1 .5 1.1 .5-.7 .5 .8 .5-.6 .5 .7 .5-.7 .5 .9 .5-.9 .5 .8 .5-.7 .5 1.2 .5-1.2 .5 1.1 .5-1.4 .5 1.1 .5-.7 .5 .9 .5-1 .5 .8 .5-1.2 .5 1.1 .5-.9 .5 .8 .5-1 .5 .9 .5-1.1 .5 1.2 .5-1" stroke="#ff00ff"/>
<path d="M1206.5 421.0l.5-4 .5 3.9 .5-3.2 .5 3.4 .5-3.5 .5 4.1 .5-4.6 .5 2.9 .5-3 .5 1.9 .5-2.6 .5 2.7 .5-2.9 .5 5.9 .5-5.8 .5 5.1 .5-5.6 .5 5.6 .5-5.2 .5 5 .5-5.3 .5 2.7 .5-3.2 .5 3.2 .5-2.5 .5 2.3 .5-2.2 .5 2.1 .5-3.3 .5 5.6 .5-4.9 .5 3.1 .5-2.3 .5 2.7 .5-3.4 .5 5.4 .5-3.5 .5 2.8 .5-2.9 .5 2.8 .5-2.6 .5 3.2 .5-2.6 .5 3.1 .5-3.3 .5 3.4 .5-3.8 .5 3 .5-2 .5 2.7 .5-2.9 .5 2.4 .5-2.3 .5 3.7 .5-4.5 .5 4.4 .5-3.1 .5 1.9 .5-1.9 .5 4.4 .5-4.8 .5 5.1 .5-6.2 .5 5.9 .5-5.5 .5 5.2 .5-5.2 .5 5.1 .5-5 .5 3.6 .5-5.4 .5 3.9 .5-2.9 .5 2.5 .5-2.8 .5 2.8 .5-2.7 .5 3 .5-3.6 .5 3.2 .5-3.3 .5 5.6 .5-4.5 .5 4.4 .5-4.8 .5 4.8 .5-4.5 .5 3 .5-2.4 .5 2.4 .5-2.7 .5 2.9 .5-2.6 .5 2.6 .5-2.7 .5 3.3 .5-3.2 .5 2.7 .5-2.5 .5 5.9 .5-5.4 .5 5.8 .5-5.5 .5 6 .5-5.8 .5 2.7 .5-2.7 .5 2.6 .5-2.6 .5 2.2 .5-3 .5 6 .5-5.8 .5 5.2 .5-4.7 .5 4.6 .5-4.5 .5 4.7 .5-5.2 .5 3 .5-2.8 .5 2.4 .5-3.3 .5 2.8 .5-3 .5 2.8 .5-2 .5 2.7 .5-3.2 .5 2.4 .5-3.7 .5 4.4 .5-3 .5 3.3 .5-4.6 .5 5.5 .5-5.2 .5 4.4 .5-4.3 .5 4.3 .5-3.9 .5 5.3 .5-2.9 .5 2.5 .5-2.9 .5 2.8 .5-2.3 .5 3.3 .5-3.9 .5 3.9 .5-3.1 .5 2.5 .5-2.8 .5 2.9 .5-2.7 .5 3.1 .5-3.2 .5 2.6 .5-2.7 .5 3.2 .5-3.2 .5 3.2 .5-3.4 .5 2.9 .5-2.4 .5 2.3 .5-2.2 .5 3 .5-2.7 .5 2.9 .5-2.7 .5 3.4 .5-3 .5 3 .5-3.9 .5 3 .5-3.4 .5 3.9 .5-3 .5 2 .5-2 .5 2.3 .5-3 .5 5.1 .5-6.1 .5 6 .5-6.2 .5 5.4 .5-5.5 .5 5.3 .5-5.1 .5 4.7 .5-4.7 .5 1.5 .5-2.4 .5 3.3 .5-3 .5 2.7 .5-3.8 .5 2.8 .5-2.3 .5 2.3 .5-2.5 .5 2.2 .5-2.9 .5 4 .5-3 .5 3.1 .5-5.2 .5 4.7 .5-4.2 .5 4.5 .5-3.4 .5 2.9 .5-2.6 .5 2.4 .5-2.8 .5 3.1 .5-2.9 .5 2.6 .5-1.8 .5 2.2 .5-2.8 .5 3.2 .5-3.4 .5 2.6 .5-1.8 .5 2.7 .5-2.8 .5 2.8 .5-2.8 .5 2 .5-2.8 .5 2.5 .5-2.1 .5 2.1 .5-3.2 .5 3.8 .5-3 .5 2.2 .5-3.4 .5 3.2 .5-3.4 .5 4.5 .5-3.5 .5 3.5 .5-3.2 .5 3.3 .5-3.5 .5 2.5 .5-2.7 .5 2.2 .5-1.8 .5 2.2 .5-2.4 .5 2.5 .5-2.5 .5 3.6 .5-3 .5 2.7 .5-2.8 .5 2.8 .5-2.7 .5 2.8 .5-2.9 .5 2.9 .5-2.6 .5 2.2 .5-2.4 .5 2.6 .5-2.2 .5 2.6 .5-2.6 .5 2.8 .5-2.7 .5 2.2 .5-2.8 .5 2.4 .5-2.4 .5 4.4 .5-4.2 .5 2.3 .5-2.4 .5 1.8 .5-2.6 .5 2.7 .5-2.3 .5 1.9 .5-2.2 .5 2.2 .5-3.1 .5 3.8 .5-3.3 .5 2.6 .5-3.3 .5 3.7 .5-2.3 .5 2.6 .5-2.2 .5 2.3 .5-2.9 .5 2.8 .5-2.6 .5 2.8 .5-1.8 .5 2.8 .5-2.5 .5 2.4 .5-2.5 .5 2.9 .5-2.7 .5 2.4 .5-2 .5 2.6 .5-2.5 .5 3.3 .5-4.2 .5 3.7 .5-2.5 .5 2.1 .5-2.4 .5 3.5 .5-3.4 .5 3.5 .5-2.7 .5 2 .5-2 .5 2.3 .5-2.1 .5 1.7 .5-1.7 .5 2.4 .5-3.1 .5 3 .5-2.7 .5 2.1 .5-2.3 .5 3.3 .5-3.3 .5 2.3 .5-2 .5 2.7 .5-3 .5 2 .5-2.8 .5 3 .5-3.5 .5 2.9 .5-2.8 .5 2.9 .5-2.4 .5 2.4 .5-2.1 .5 2.2 .5-2.5 .5 2.8 .5-2.1 .5 2.3 .5-2.8 .5 2.6 .5-2.2 .5 2.7 .5-3 .5 2.8 .5-2.6 .5 2.4 .5-2.7 .5 2.2 .5-2.8 .5 2.4 .5-2.2 .5 2 .5-2.9 .5 2.8 .5-2.9 .5 2.3 .5-1.8 .5 1.7 .5-1.8 .5 2.1 .5-2.1 .5 1.9 .5-3.4 .5 3.5 .5-2.5 .5 2.7 .5-3 .5 3.1 .5-2.1 .5 2 .5-2.3 .5 2.2 .5-1.9 .5 2.9 .5-3.3 .5 2.6 .5-1.8 .5 2.1 .5-3 .5 3 .5-3.1 .5 4.2 .5-3.6 .5 3.5 .5-3.5 .5 3.4 .5-3.4 .5 3.1 .5-3.1 .5 2.3 .5-2.6 .5 2.3 .5-1.9 .5 1.9 .5-2.7 .5 2.5 .5-2.3 .5 2.1 .5-2.4 .5 2.7 .5-2.6 .5 1.8 .5-2 .5 2.3 .5-2.6 .5 1.9 .5-1.9 .5 1.8 .5-2 .5 1.7 .5-2.5 .5 2.6 .5-2.5 .5 2.9 .5-2.6 .5 2.7 .5-3.5 .5 3.3 .5-4.1 .5 2.4 .5-4.8 .5 5 .5-5.7 .5 4.9 .5-5.4 .5 4.4 .5-3 .5 2.4 .5-2.6 .5 1.8 .5-3 .5 1.5 .5-2.5 .5 1.4 .5-4.3 .5 2.6 .5-3.6 .5 1.7 .5-4.1 .5 2 .5-5.1 .5 1.7 .5-4.6 .5 2.4 .5-5.5 .5 .8 .5-4.8 .5 1 .5-5.4 .5 1.1 .5-6.8 .5 .5 .5-4.6 .5 .9 .5-6.8 .5 .9 .5-6.1 .5 .1 .5-6.2 .5 .5 .5-5.8 .5 .4 .5-5.7 .5 .9 .5-4.3 .5 1.6 .5-4.9 .5 1.7 .5-3.4 .5 3.4 .5-1.9 .5 4.6 .5-2.3 .5 6.7 .5-1.2 .5 5 .5 0 .5 6 .5-1.3 .5 6.2 .5-.6 .5 6 .5-.9 .5 6 .5-.6 .5 6 .5-.1 .5 4.7 .5-.3 .5 5.4 .5-.6 .5 4 .5-.3 .5 4.4 .5-.6 .5 4.1 .5-2.1 .5 5.2 .5-2.3 .5 4.9 .5-1.2 .5 5 .5-4.1 .5 4.8 .5-2 .5 2.9 .5-1.3 .5 2.4 .5-3.7 .5 5.1 .5-3.7 .5 5.3 .5-4.5 .5 4.9 .5-4.3 .5 4.3 .5-1.8 .5 2.5 .5-2.2 .5 2.3 .5-2 .5 2.1 .5-2.6 .5 3.5 .5-2.7 .5 2.2 .5-1.8 .5 2.2 .5-2 .5 2.9 .5-3.7 .5 3.1 .5-2.9 .5 3.3 .5-3.3 .5 2.9 .5-2.1 .5 1.8 .5-1.6 .5 2.3 .5-2.2 .5 2.4 .5-3 .5 3.1 .5-3 .5 2.7 .5-2.8 .5 3.3 .5-3.3 .5 2.4 .5-2.3 .5 2.4 .5-2.4 .5 2.3 .5-3 .5 3 .5-2 .5 1.8 .5-2.4 .5 3.1 .5-2.8 .5 3.2 .5-3.6 .5 3.2 .5-2.2 .5 2.2 .5-2.5 .5 2.3 .5-1.4 .5 1.9 .5-2.2 .5 2.7 .5-2.4 .5 2.3 .5-1.7 .5 1.7 .5-2 .5 2.3 .5-3.6 .5 3.7 .5-4.1 .5 4.3 .5-2.1 .5 2 .5-2 .5 1.5 .5-1.8 .5 1.7 .5-1.6 .5 1.8 .5-2.1 .5 2 .5-1.9 .5 2.1 .5-2.5 .5 2.3 .5-1.7 .5 2.7 .5-3.4 .5 2.4 .5-1.6 .5 2.5 .5-2.6 .5 2.1 .5-3.2 .5 3.9 .5-3.8 .5 3.2 .5-3 .5 3.4 .5-2.7 .5 2.5 .5-1.9 .5 1.9 .5-1.9 .5 1.6 .5-1.9 .5 1.6 .5-1.6 .5 1.7 .5-2.2 .5 2.4 .5-2.2 .5 1.6 .5-1.5 .5 1.5 .5-1.9 .5 2.1 .5-2.3 .5 2.5 .5-2.9 .5 3 .5-1.9 .5 2.1 .5-2 .5 2.7 .5-2.7 .5 1.9 .5-2.1 .5 2.7 .5-2.5 .5 2.1 .5-2.5 .5 3.1 .5-4.4 .5 4.6 .5-4.9 .5 4.7 .5-2.5 .5 2 .5-2.4 .5 2.1 .5-1.5 .5 1.6 .5-2.1 .5 3.2 .5-3.1 .5 1.8 .5-1.7 .5 2.3 .5-3.4 .5 3.2 .5-2.3 .5 2.8 .5-3.2 .5 1.9 .5-1.6 .5 1.6 .5-1.6 .5 2 .5-3.1 .5 2.8 .5-1.5 .5 1.6 .5-1.7 .5 1.7 .5-1.7 .5 2 .5-2.9 .5 2.6 .5-2.2 .5 2.1 .5-2.1 .5 1.8 .5-1.4 .5 1.4 .5-1.8 .5 1.8 .5-1.9 .5 1.8 .5-2.6 .5 2.8 .5-2.5 .5 3.5 .5-3.1 .5 3.2 .5-2.9 .5 1.4 .5-1.8 .5 1.7 .5-1.3 .5 1.5 .5-1.7 .5 2 .5-2 .5 1.6 .5-1.9 .5 2.3 .5-2.3 .5 2.2 .5-2.2 .5 2 .5-1.5 .5 1.8 .5-2.3 .5 2.1 .5-2.2 .5 2.9 .5-2.2 .5 2.3 .5-2.2 .5 2.1 .5-2.4 .5 2.2 .5-1.9 .5 1.7 .5-1.7 .5 2.3 .5-2.6 .5 2 .5-1.7 .5 1.3 .5-2.2 .5 2.5 .5-2.2 .5 1.5 .5-2.3 .5 1.8 .5-2.3 .5 2.5 .5-3 .5 2.4 .5-3.4 .5 1.6 .5-2 .5 1.7 .5-2.6 .5 1.3 .5-3.2 .5 2.9 .5-3 .5 2.2 .5-3.2 .5 1.3 .5-2.1 .5 1.3 .5-2.7 .5 1.8 .5-2.7 .5 1.4 .5-2.8 .5 1.1 .5-3.1 .5 2.2 .5-5.1 .5 1.5 .5-3.5 .5 .7 .5-4 .5 .6 .5-3.7 .5 1.1 .5-4.8 .5 2.9 .5-4.9 .5 3.5 .5-3 .5 4.4 .5-2.2 .5 4 .5-1.6 .5 4.9 .5-1 .5 3.4 .5-.8 .5 3.8 .5-1 .5 2.8 .5-1.1 .5 3.5 .5-2 .5 2.9 .5-1 .5 2.7 .5-1.8 .5 3.3 .5-1.5 .5 3.8 .5-2 .5 2.9 .5-1.7 .5 2.4 .5-1.2 .5 1.9 .5-1.7 .5 3.4 .5-1.8 .5 1.7 .5-1.2 .5 2.5 .5-3.6 .5 3.2 .5-2.8 .5 3.7 .5-3.6 .5 3.5 .5-3.2 .5 3.9 .5-2.4 .5 1.8 .5-1.4 .5 1.5 .5-1.8 .5 2.2 .5-1.8 .5 2.1 .5-1.9 .5 1.3 .5-1.4 .5 2.6 .5-3.2 .5 3.1 .5-2.5 .5 1.6 .5-1.6 .5 1.5 .5-1.5 .5 1.6 .5-2.1 .5 2.4 .5-2.3 .5 2 .5-1.5 .5 2.8 .5-2.5 .5 2.2 .5-2.9 .5 3.3 .5-2.8 .5 2 .5-1.4 .5 3 .5-3.7 .5 3.9 .5-2.9 .5 3.1 .5-3.6 .5 3.1 .5-3.3 .5 2.1 .5-2.9 .5 3.7 .5-2.6 .5 1.9 .5-2.5 .5 2.1 .5-1.3 .5 1.4 .5-2 .5 2.1 .5-1.6 .5 2.2 .5-3 .5 2.8 .5-2.2 .5 1.9 .5-1.4 .5 1.3 .5-1.5 .5 1.7 .5-1.6 .5 1.5 .5-1.7 .5 1.5 .5-1.3 .5 2.1 .5-2.6 .5 3.1 .5-2.5 .5 2.7 .5-3.1 .5 2.2 .5-2.3 .5 3.1 .5-2.8 .5 2.3 .5-1.9 .5 1.6 .5-1.6 .5 1.8 .5-2.2 .5 2.2 .5-3.2 .5 2.6 .5-3 .5 3.2 .5-3.2 .5 3 .5-2 .5 1.8 .5-1.6 .5 2.5 .5-2.8 .5 2.3 .5-2.6 .5 2.4 .5-2.8 .5 2.3 .5-1.6 .5 1.5 .5-1.2 .5 1.5 .5-2 .5 1.5 .5-1.5 .5 1.5 .5-1.6 .5 1.6 .5-1.2 .5 1.6 .5-1.9 .5 2.6 .5-2.8 .5 1.5 .5-2 .5 2 .5-2.1 .5 2.6 .5-1.7 .5 2 .5-2.2 .5 1.4 .5-1.2 .5 1.5 .5-1.5 .5 2.1 .5-2.2 .5 2.3 .5-2.5 .5 1.6 .5-1.7 .5 2 .5-2 .5 1.8 .5-1.3 .5 1.8 .5-2.5 .5 1.8 .5-1.4 .5 1.7 .5-1.9 .5 1.5 .5-1.6 .5 2.1 .5-2.1 .5 1.8 .5-1.5 .5 1.1 .5-1.4 .5 1.1 .5-1.2 .5 1.3 .5-1.6 .5 1 .5-1.7 .5 1.3 .5-1.6 .5 1.2 .5-1.6 .5 1.4 .5-1.7 .5 1 .5-1.8 .5 1 .5-1.5 .5 1.1 .5-2 .5 1.3 .5-2.4 .5 1.2 .5-1.9 .5 1.2 .5-2 .5 .7 .5-1.9 .5 1.3 .5-2.6 .5 1.3 .5-2.6 .5 .8 .5-1.9 .5 1.1 .5-2.5 .5 .8 .5-2.9 .5 1 .5-2.2 .5 .7 .5-3 .5 1.1 .5-2.1 .5 1.1 .5-2.6 .5 .9 .5-2.7 .5 1.4 .5-2 .5 1.5 .5-1.9 .5 2 .5-2.2 .5 2 .5-.7 .5 1.8 .5-.7 .5 2.2 .5-.9 .5 3 .5-1.7 .5 2.5 .5-.6 .5 2 .5-.4 .5 3.3 .5-2.5 .5 3.2 .5-.9 .5 2.1 .5-1.3 .5 3 .5-1.7 .5 2.4 .5-.6 .5 1.7 .5-.7 .5 2 .5-1 .5 1.8 .5-1.2 .5 2.1 .5-.8 .5 2.2 .5-1.4 .5 1.5 .5-1.3 .5 2.8 .5-1.6 .5 1.5 .5-1.3 .5 2 .5-1 .5 1.4 .5-1.2 .5 1.5 .5-1.4 .5 1.6 .5-1 .5 1.2 .5-1.2 .5 1.5 .5-1.2 .5 1.1 .5-1.2 .5 1.4 .5-1 .5 1.4 .5-1.1 .5 1.6 .5-2.1 .5 1.8 .5-1.1 .5 .9 .5-1 .5 1.6 .5-1.5 .5 1.4 .5-1.4 .5 1.5 .5-1.4 .5 1.3 .5-1.5 .5 1 .5-1.2 .5 1.1 .5-1 .5 1.3 .5-1.2 .5 1 .5-1.1 .5 1.2 .5-1.6 .5 1.6 .5-1 .5 1.1 .5-1.3 .5 1.2 .5-1 .5 .8 .5-1.8 .5 2 .5-2.1 .5 1.6 .5-1.7 .5 1.5 .5-1.7 .5 2 .5-1.7 .5 .9 .5-1.1 .5 .9 .5-1.1 .5 1 .5-1.5 .5 1.1 .5-1.3 .5 1 .5-1.7 .5 .8 .5-1.5 .5 1 .5-1.7 .5 .7 .5-1.7 .5 1.1 .5-1.8 .5 1 .5-2.7 .5 1.5 .5-1.9 .5 .6 .5-1.9 .5 .3 .5-2.1 .5 1.9 .5-3.1 .5 1.5 .5-2.6 .5 1.1 .5-2.8 .5 1.5 .5-3 .5 .5 .5-2.4 .5 .7 .5-1.7 .5 .5 .5-2.2 .5 .6 .5-1.4 .5 .7 .5-2.2 .5 1.7 .5-1.6 .5 1.7 .5-1.3 .5 1.4 .5-1.3 .5 1.5 .5-1.2 .5 1.7 .5-.8 .5 1.4 .5-1.4 .5 1.7 .5-.8 .5 1.2 .5-1.6 .5 1.9 .5-1 .5 1.7 .5-1.7 .5 1.7 .5-1.4 .5 1.2 .5-.9 .5 2 .5-1.7 .5 1.3 .5-.8 .5 1.8 .5-1 .5 1.8 .5-.5 .5 1.6 .5-.8 .5 2.1 .5-1 .5 2.5 .5-.8 .5 2.2 .5-.4 .5 1.6 .5-.5 .5 1.6 .5-.3 .5 1.9 .5-1.1 .5 2 .5-.5 .5 1.7 .5-1.1 .5 1.8 .5-.9 .5 1.9 .5-.6 .5 1.3 .5-.8 .5 1.3 .5-.7 .5 1.3 .5-.6 .5 1.1 .5-1.1 .5 1.5 .5-.6 .5 .9 .5-1.1 .5 1.5 .5-.5 .5 1.1 .5-.8 .5 .7 .5-.8 .5 1.3 .5-1 .5 .9 .5-.6 .5 .9 .5-1.1 .5 1.5 .5-1.1 .5 .7 .5-1.1 .5 1.2 .5-.8 .5 .6 .5-.6 .5 1 .5-1.2 .5 .8 .5-.9 .5 1.1 .5-1.1 .5 2.1 .5-1.9 .5 1.8 .5-2 .5 1.9 .5-1.7 .5 .9 .5-1 .5 .9 .5-.8 .5 .8 .5-.6 .5 .9 .5-1 .5 1 .5-1.2 .5 1 .5-.7 .5 .8 .5-.7 .5 .7 .5-.9 .5 .9 .5-.8 .5 .8 .5-.9 .5 .9 .5-1.2 .5 1.3 .5-.8 .5 1 .5-1 .5 1 .5-1 .5 .8 .5-.8 .5 1.4 .5-1.3 .5 .9 .5-1 .5 .9 .5-1.1 .5 1 .5-.9 .5 .7 .5-1.1 .5 1.2 .5-1.3 .5 1.1 .5-1 .5 1.2 .5-1.1 .5 1.2 .5-1.5 .5 1.5 .5-1.5 .5 1.3 .5-1.2 .5 1.1 .5-1 .5 .8 .5-.8 .5 1.4 .5-1.3 .5 .7 .5-1 .5 .8 .5-1.3 .5 1.3 .5-1 .5 .8 .5-1 .5 .7 .5-1.3 .5 1 .5-1.3 .5 1.3 .5-1.5 .5 1.2 .5-1.3 .5 .9 .5-1 .5 .8 .5-1.5 .5 1.2 .5-1.5 .5 1.1 .5-1.1 .5 .9 .5-1.3 .5 1.3 .5-1.5 .5 .5 .5-1.3 .5 .8 .5-1.2 .5 .8 .5-1.6 .5 .9 .5-1.7 .5 .9 .5-2 .5 1.1 .5-1.7 .5 1.2 .5-1.5 .5 .4 .5-1.2 .5 .5 .5-1.3 .5 1.2 .5-2.2 .5 1.7 .5-1.8 .5 1 .5-1.6 .5 1.1 .5-1.5 .5 .9 .5-.9 .5 .8 .5-1.2 .5 1.4 .5-.7 .5 1 .5-.6 .5 2.8 .5-2.3 .5 2.5 .5-2.3 .5 3 .5-2.3 .5 2.9 .5-2.3 .5 1.6 .5-.6 .5 1.3 .5-.7 .5 1.5 .5-1.2 .5 2.5 .5-1.3 .5 1.4 .5-.8 .5 1.6 .5-.8 .5 1.3 .5-.8 .5 1.3 .5-.6 .5 1.3 .5-1.2 .5 1.3 .5-.8 .5 1.2 .5-.6 .5 1.2 .5-1 .5 1.3 .5-.9 .5 .9 .5-1.1 .5 1.6 .5-.9 .5 1.3 .5-1.6 .5 1.8 .5-.9 .5 1.1 .5-1.1 .5 1.3 .5-1 .5 .9 .5-1.1 .5 1.5 .5-1.1 .5 1 .5-1 .5 1.1 .5-1.4 .5 1.4 .5-.8 .5 .8 .5-1 .5 1.5 .5-1.8 .5 1.5 .5-1.3 .5 1.3 .5-1.2 .5 1 .5-.8 .5 1.5 .5-1.7 .5 .9 .5-.7 .5 .7 .5-.7 .5 .9 .5-1 .5 1.3 .5-1.1 .5 .9 .5-1.1 .5 1.1 .5-1.4 .5 1.3 .5-.8 .5 .8 .5-.8 .5 .9 .5-.8 .5 .9 .5-1.1 .5 1 .5-.9 .5 1.1 .5-1.1 .5 1.5 .5-1.3 .5 .8 .5-.6 .5 1.3 .5-1.2 .5 1 .5-.8 .5 1 .5-1.2 .5 1.1 .5-1 .5 1.3 .5-1 .5 .7 .5-1.1 .5 1 .5-.7 .5 .6 .5-1.3 .5 1.1 .5-.8 .5 .8 .5-1.3 .5 1.5 .5-1.3 .5 1 .5-1.4 .5 1.1 .5-1.8 .5 1.9 .5-2 .5 1.6 .5-1.9 .5 1.7 .5-1.7 .5 1.5 .5-.8 .5 .7 .5-.9 .5 1 .5-1.5 .5 1 .5-.9 .5 1.2 .5-1.2 .5 .8 .5-.9 .5 1.1 .5-1.4 .5 1.5 .5-1.2 .5 .8 .5-.7 .5 1.4 .5-2 .5 1.8 .5-1.9 .5 2 .5-1.9 .5 1.5 .5-1.5 .5 1.6 .5-1 .5 1.3 .5-2.2 .5 2.6 .5-2.5 .5 1.8 .5-.8 .5 .6 .5-.9 .5 1 .5-1 .5 .8 .5-.9 .5 .9 .5-.8 .5 1.2 .5-1.4 .5 1.4 .5-1.5 .5 1.5 .5-1.2 .5 1.2 .5-1 .5 1.2 .5-.9 .5 .9 .5-.8 .5 .9 .5-1.5 .5 1.9 .5-1.2 .5 1 .5-1.3 .5 1.1 .5-.8 .5 1.2 .5-1.4 .5 2 .5-1.7 .5 2 .5-2.1 .5 2 .5-1.7 .5 1.6 .5-1.9 .5 2 .5-1.9 .5 2.1 .5-1.6 .5 .8 .5-.9 .5 1 .5-.7 .5 1.3 .5-1 .5 .7 .5-.8 .5 .9 .5-1.2 .5 1.6 .5-1 .5 1.1 .5-1.4 .5 1.2 .5-.7 .5 .6 .5-.7 .5 1.1 .5-1 .5 .8 .5-1 .5 .9 .5-.9 .5 .8 .5-.9 .5 1 .5-1.3 .5 1.1 .5-.8 .5 .8 .5-.9 .5 .7 .5-1.1 .5 1 .5-.7 .5 .7 .5-1.2 .5 1.3 .5-.9 .5 1.2 .5-1.2 .5 1.1 .5-1.1 .5 1 .5-1.4 .5 1.3 .5-1.2 .5 1.3 .5-.9 .5 .9 .5-.9 .5 .8 .5-1.3 .5 1.8 .5-1.7 .5 1.2 .5-1 .5 .7 .5-1.1 .5 1 .5-1 .5 .9 .5-1.3 .5 1.2 .5-1.2 .5 .9 .5-1.4 .5 1.1 .5-1 .5 .8 .5-1.1 .5 .9 .5-1.1 .5 1 .5-1.2 .5 .9 .5-1.4 .5 1.2 .5-1 .5 .7 .5-.9 .5 .9 .5-1.1 .5 1 .5-1 .5 .8 .5-.9 .5 .6 .5-1.3 .5 1.3 .5-1.1 .5 1.3 .5-1.5 .5 1.3 .5-.8 .5 .9 .5-.9 .5 .9 .5-1 .5 1.1 .5-1.3 .5 1.4 .5-1.4 .5 1.4 .5-1.9 .5 2.2 .5-2.1 .5 2.4 .5-1.2 .5 1.1 .5-1.1 .5 1 .5-.7 .5 1.3 .5-1.3 .5 1.1 .5-.8 .5 1.3 .5-1 .5 .9 .5-.9 .5 1.2 .5-.8 .5 1.2 .5-1.1 .5 1 .5-.8 .5 1.4 .5-1.1 .5 1.1 .5-.9 .5 1.2 .5-.9 .5 1.3 .5-1 .5 .8 .5-.8 .5 1.1 .5-.9 .5 .8 .5-1.1 .5 1 .5-.7 .5 1 .5-1.3 .5 1.3 .5-1.1 .5 .8 .5-.6 .5 1.1 .5-1.6 .5 1.3 .5-1.2 .5 1.1 .5-1.2 .5 1.5 .5-1.5 .5 1.4 .5-1.3 .5 1.3 .5-1.5 .5 1.7 .5-1.8 .5 1.8 .5-1.8 .5 1.6 .5-1.4 .5 1.3 .5-.9 .5 .9 .5-1 .5 1.1 .5-1.2 .5 .8 .5-.8 .5 .8 .5-.8 .5 1 .5-1 .5 .8 .5-1 .5 1.1 .5-.8 .5 .9 .5-.8 .5 1 .5-1 .5 1 .5-1.1 .5 1.2 .5-1 .5 1 .5-1 .5 1.1 .5-.9 .5 .8 .5-1 .5 1 .5-1.1 .5 1 .5-.8 .5 .8 .5-.7 .5 .7 .5-.7 .5 .6 .5-.7 .5 .8 .5-.8" stroke="#0000ff"/>
<path d="M1206.5 532.7l.5-4.2 .5 4.4 .5-4.6 .5 3.2 .5-4 .5 3.8 .5-6.7 .5 6.8 .5-4.1 .5 3.7 .5-3.6 .5 2.7 .5-3.2 .5 4.5 .5-6.2 .5 5 .5-4.1 .5 4.9 .5-6.5 .5 5.7 .5-4.6 .5 5.7 .5-7.4 .5 6.1 .5-4.5 .5 4 .5-4 .5 4.1 .5-4.6 .5 4.3 .5-4.6 .5 4.3 .5-3.8 .5 5 .5-4.2 .5 4 .5-4.2 .5 3.7 .5-3.7 .5 3.7 .5-3.3 .5 4 .5-3.9 .5 3.6 .5-3.9 .5 4.3 .5-4.8 .5 3.6 .5-7 .5 8 .5-8.7 .5 8.2 .5-7.5 .5 7.7 .5-7.9 .5 8.4 .5-8.4 .5 7.6 .5-3.4 .5 3.8 .5-3.7 .5 3.5 .5-3.5 .5 3.6 .5-4.1 .5 4.2 .5-3.5 .5 4.2 .5-3.4 .5 3.6 .5-4 .5 4.9 .5-4.9 .5 4.5 .5-3.5 .5 3.8 .5-4.4 .5 4.5 .5-5.1 .5 6 .5-6.3 .5 6.1 .5-5 .5 3.2 .5-3.3 .5 4.1 .5-5.2 .5 4.3 .5-3.6 .5 4.8 .5-5.5 .5 3.3 .5-2.9 .5 3.7 .5-4.1 .5 3.8 .5-6.5 .5 5.1 .5-3.5 .5 3.5 .5-4 .5 4.2 .5-5.5 .5 5.1 .5-6.2 .5 5.7 .5-5.3 .5 6.6 .5-5.4 .5 3.6 .5-2.8 .5 3 .5-4.3 .5 4.5 .5-3.5 .5 4.3 .5-5.4 .5 5 .5-3.7 .5 3.4 .5-3.4 .5 3.9 .5-5.7 .5 4.9 .5-4.5 .5 4 .5-2.8 .5 3.2 .5-4.8 .5 5.4 .5-4.6 .5 5.8 .5-6.5 .5 4.8 .5-3.9 .5 5.6 .5-4.5 .5 3.7 .5-4.4 .5 5.5 .5-6 .5 4 .5-3.4 .5 3.5 .5-2.7 .5 3.3 .5-3.4 .5 3.4 .5-4.2 .5 4.6 .5-5.3 .5 5.6 .5-4.4 .5 4.5 .5-4.4 .5 2.5 .5-2.9 .5 4 .5-5.3 .5 5.3 .5-4.6 .5 3.5 .5-3.1 .5 3.6 .5-4.4 .5 3.4 .5-4.7 .5 5.8 .5-3.6 .5 3.8 .5-3.8 .5 2.9 .5-3.7 .5 5.1 .5-4.9 .5 4.1 .5-4.2 .5 5.5 .5-4.7 .5 4 .5-4.4 .5 4.3 .5-4.9 .5 4.3 .5-3.9 .5 3.9 .5-3.7 .5 4.2 .5-4.5 .5 2.8 .5-3.1 .5 4.1 .5-3.7 .5 2.9 .5-3.5 .5 3.8 .5-3.1 .5 5 .5-6.1 .5 4.5 .5-3.7 .5 3.3 .5-4.6 .5 4.4 .5-3.8 .5 3.2 .5-2.7 .5 3.4 .5-4.8 .5 5.6 .5-4.6 .5 3.1 .5-3.3 .5 3 .5-3.1 .5 4.4 .5-4.3 .5 2.5 .5-3.6 .5 5.6 .5-5.2 .5 4.6 .5-3.6 .5 3.5 .5-3.4 .5 3.4 .5-5.4 .5 4.6 .5-3.2 .5 3.3 .5-3.6 .5 4.4 .5-4.3 .5 3.8 .5-3.8 .5 3.9 .5-5 .5 4.7 .5-3.4 .5 4.2 .5-2.9 .5 3.3 .5-3.4 .5 3.5 .5-2.7 .5 2.6 .5-2.8 .5 5.7 .5-6.8 .5 5.4 .5-4.3 .5 4.2 .5-4.1 .5 3.6 .5-4.9 .5 4.4 .5-5.5 .5 3.7 .5-3.2 .5 4.5 .5-4.7 .5 3.6 .5-6.7 .5 5.3 .5-2.8 .5 2.8 .5-3 .5 3.8 .5-3.9 .5 2.6 .5-3.3 .5 3.4 .5-2.7 .5 3.2 .5-3.1 .5 4.1 .5-7.3 .5 8.7 .5-7.6 .5 5.4 .5-3.2 .5 3 .5-3.9 .5 4.5 .5-3.3 .5 4.1 .5-5.3 .5 4.2 .5-4.5 .5 5 .5-4 .5 3.7 .5-3.1 .5 4.7 .5-5.8 .5 5.4 .5-4.2 .5 5.1 .5-3.9 .5 2.9 .5-2.9 .5 3.4 .5-4.2 .5 4.4 .5-2.8 .5 3.7 .5-4.4 .5 4.3 .5-3.8 .5 4.1 .5-3.4 .5 3.2 .5-4.6 .5 5.2 .5-6.5 .5 5.9 .5-6.1 .5 5.6 .5-4.1 .5 3.9 .5-3.5 .5 4.1 .5-5.6 .5 6 .5-5.6 .5 6.8 .5-5.6 .5 2.6 .5-3.4 .5 4.5 .5-4.7 .5 5.5 .5-4.8 .5 3 .5-4.6 .5 5 .5-3.6 .5 3.2 .5-3.7 .5 3 .5-3.1 .5 4 .5-4.2 .5 3.3 .5-3.8 .5 5.6 .5-6.5 .5 4.4 .5-3.1 .5 4.3 .5-5 .5 4 .5-3.9 .5 4.2 .5-3.5 .5 3.6 .5-3.8 .5 3.5 .5-3.2 .5 3.2 .5-3.7 .5 3.9 .5-2.6 .5 4.2 .5-3.8 .5 4.1 .5-4.7 .5 4.5 .5-3.2 .5 3.1 .5-3.9 .5 4 .5-4 .5 3.4 .5-4.2 .5 5.6 .5-4.4 .5 3.7 .5-3.3 .5 3.7 .5-3.9 .5 3.7 .5-3.6 .5 3.8 .5-4.2 .5 3.8 .5-3.5 .5 4.8 .5-5.1 .5 3.9 .5-2.7 .5 2.8 .5-2.5 .5 3.4 .5-3.1 .5 3.3 .5-3.5 .5 2.7 .5-4 .5 5.6 .5-4.3 .5 2.6 .5-4.6 .5 4.7 .5-4.5 .5 4 .5-3.9 .5 6.3 .5-6 .5 5.8 .5-6.1 .5 6.6 .5-6.7 .5 4.8 .5-5.1 .5 3.6 .5-2.9 .5 4.9 .5-5 .5 2.7 .5-2.5 .5 2.9 .5-3.7 .5 3 .5-4 .5 3.9 .5-3.9 .5 7.4 .5-6.6 .5 6.8 .5-8.7 .5 8.2 .5-7.1 .5 7.4 .5-7.2 .5 3.8 .5-4.4 .5 4.3 .5-3.4 .5 2.2 .5-4.2 .5 3.8 .5-3.4 .5 3.9 .5-5.1 .5 4.4 .5-5.2 .5 4.1 .5-3.5 .5 2.9 .5-4.7 .5 3.5 .5-3.4 .5 2.5 .5-4.3 .5 2.9 .5-4.6 .5 3.5 .5-4 .5 1.9 .5-4.3 .5 2.4 .5-4.6 .5 1.7 .5-5 .5 2 .5-4.8 .5 1.2 .5-6.1 .5 4.3 .5-7.1 .5 5 .5-10.1 .5 4.4 .5-9.9 .5 5 .5-11.1 .5 1.1 .5-8.5 .5 1.9 .5-8.4 .5 1.2 .5-6.3 .5-.7 .5-6.9 .5 1.3 .5-7.1 .5 1.4 .5-7.3 .5 3.3 .5-7.4 .5 4.3 .5-5.5 .5 5.4 .5-2 .5 4.9 .5-.5 .5 5.6 .5-.9 .5 7.7 .5-3 .5 9 .5-.2 .5 7.3 .5-1.3 .5 7.3 .5-.8 .5 7.2 .5-.4 .5 6.3 .5-2.6 .5 7.5 .5-1.8 .5 6.9 .5-2.7 .5 8 .5-1.7 .5 5 .5-2.3 .5 6.3 .5-2.6 .5 4.8 .5-2.3 .5 6.4 .5-4.3 .5 4 .5-1.6 .5 4.8 .5-4.5 .5 4.9 .5-2.4 .5 3.2 .5-2.6 .5 3.8 .5-3.3 .5 5 .5-3.2 .5 3.2 .5-2.8 .5 4 .5-2.8 .5 4.1 .5-6.3 .5 5.2 .5-2.4 .5 4 .5-4.5 .5 3.7 .5-3.1 .5 3.8 .5-3.6 .5 3.8 .5-3.8 .5 4.1 .5-3.9 .5 3.4 .5-4 .5 4.3 .5-3.9 .5 3.7 .5-3.7 .5 3 .5-3.1 .5 3.5 .5-3.1 .5 2.6 .5-3.3 .5 3.7 .5-4 .5 3.2 .5-3 .5 4.4 .5-3.9 .5 3.1 .5-3.4 .5 4 .5-3.9 .5 2.7 .5-2.9 .5 2.8 .5-3.3 .5 3.3 .5-3.4 .5 3.3 .5-2.3 .5 2.7 .5-3.1 .5 3.3 .5-3.2 .5 3.4 .5-3.4 .5 5.9 .5-4.9 .5 4.8 .5-5 .5 5.2 .5-6.6 .5 6.1 .5-5.1 .5 4.6 .5-4.5 .5 2.6 .5-3.2 .5 3 .5-3.1 .5 3.1 .5-2.7 .5 3 .5-3.8 .5 3.2 .5-2.9 .5 4.2 .5-4.1 .5 3.2 .5-2.9 .5 3.2 .5-2.9 .5 3.4 .5-4 .5 3 .5-3.1 .5 3 .5-2.5 .5 2.5 .5-2 .5 4.1 .5-4.5 .5 3.6 .5-4 .5 3.4 .5-2.6 .5 3.7 .5-3.6 .5 2.6 .5-2.3 .5 2.7 .5-2.8 .5 2.3 .5-2.8 .5 2.6 .5-2.2 .5 3 .5-3.6 .5 4.2 .5-3.4 .5 2.1 .5-2.7 .5 4.1 .5-4.3 .5 3.4 .5-3.1 .5 3 .5-2.5 .5 2.4 .5-3.1 .5 3 .5-2.6 .5 2.9 .5-3.5 .5 3.5 .5-2.6 .5 3.6 .5-4.2 .5 2.9 .5-2.5 .5 3 .5-3.7 .5 4.1 .5-3.8 .5 2.6 .5-3.6 .5 3.9 .5-3.5 .5 3.9 .5-3.2 .5 3.1 .5-3.9 .5 4.2 .5-3.7 .5 3.1 .5-3.7 .5 4.1 .5-2.5 .5 2.9 .5-4.3 .5 3.8 .5-3.8 .5 4.5 .5-4.8 .5 4.2 .5-2.3 .5 2.7 .5-3 .5 3.4 .5-3.2 .5 2.8 .5-3.5 .5 3.2 .5-2.5 .5 1.9 .5-2.2 .5 2.5 .5-3.4 .5 5.1 .5-4.8 .5 2.3 .5-2.9 .5 2.8 .5-4.3 .5 4.7 .5-2.9 .5 2.3 .5-1.9 .5 2.3 .5-2.8 .5 2.9 .5-3.4 .5 5.1 .5-5.2 .5 3.3 .5-2.8 .5 2.7 .5-2.2 .5 2.4 .5-2.3 .5 2.7 .5-2.9 .5 3.2 .5-3.9 .5 4.7 .5-4.3 .5 2.7 .5-2.7 .5 4.7 .5-4.4 .5 4.3 .5-4.2 .5 4.6 .5-4.5 .5 2.3 .5-2.4 .5 3 .5-3.2 .5 4.1 .5-4.3 .5 2.5 .5-3.1 .5 3.7 .5-3.3 .5 4.4 .5-4.9 .5 2.9 .5-2.5 .5 2.7 .5-3.4 .5 2.3 .5-2.9 .5 3.4 .5-3.3 .5 2.1 .5-3.4 .5 3.3 .5-3.3 .5 2.3 .5-3.3 .5 2.5 .5-3.4 .5 3.7 .5-5.1 .5 3.5 .5-3.4 .5 2.5 .5-5.1 .5 3.7 .5-3.3 .5 2.1 .5-3.1 .5 3.2 .5-5.2 .5 2.5 .5-3 .5 1.9 .5-3.8 .5 1.8 .5-4.2 .5 1.2 .5-4.2 .5 2 .5-4.9 .5 2 .5-5.5 .5 1.5 .5-4.2 .5 2.3 .5-4.4 .5 2.2 .5-3.3 .5 5 .5-1.9 .5 5 .5-2.3 .5 6 .5-1.7 .5 4.4 .5-1.4 .5 3.5 .5-1.3 .5 4.1 .5-2.2 .5 4 .5-2.8 .5 3.6 .5-1.5 .5 3.3 .5-2 .5 3.1 .5-2 .5 4.2 .5-2.7 .5 3.4 .5-2.5 .5 3.4 .5-1.9 .5 3.2 .5-2.2 .5 3.7 .5-3.1 .5 3.2 .5-3 .5 4.4 .5-2.7 .5 2.6 .5-2.1 .5 3.8 .5-4 .5 3.4 .5-2.3 .5 2.1 .5-3.3 .5 4.3 .5-3 .5 2.3 .5-2.1 .5 2.1 .5-2.6 .5 3.1 .5-2.5 .5 3.3 .5-3.4 .5 3.4 .5-3.8 .5 3.4 .5-2.5 .5 2.4 .5-3.3 .5 3 .5-2.2 .5 4.3 .5-4.2 .5 4.3 .5-4 .5 4.5 .5-4.6 .5 4.3 .5-4.6 .5 2.8 .5-2.8 .5 2.4 .5-2.9 .5 3.6 .5-2.9 .5 3.6 .5-4.2 .5 3.3 .5-3.6 .5 3.5 .5-3.8 .5 3.8 .5-2.5 .5 1.7 .5-2.4 .5 3 .5-2.6 .5 2.8 .5-2.7 .5 3.5 .5-4.5 .5 3.1 .5-2.4 .5 2.5 .5-2.1 .5 2 .5-1.8 .5 2.7 .5-2.4 .5 2.4 .5-2.1 .5 1.8 .5-2.5 .5 2.8 .5-2.6 .5 1.8 .5-3.5 .5 4.1 .5-4.1 .5 3.3 .5-2 .5 2 .5-2.9 .5 2.3 .5-2.8 .5 3.2 .5-2.4 .5 2.8 .5-2.6 .5 1.6 .5-2.1 .5 2.2 .5-2.7 .5 2.4 .5-1.7 .5 2.7 .5-2.6 .5 1.8 .5-2 .5 2.5 .5-2.8 .5 2.7 .5-2 .5 2.3 .5-2.1 .5 1.9 .5-1.6 .5 1.8 .5-1.6 .5 1.9 .5-2.9 .5 3.1 .5-2.8 .5 2.3 .5-1.9 .5 1.9 .5-2.5 .5 2.4 .5-2 .5 2.8 .5-2.8 .5 2 .5-2.1 .5 1.5 .5-1.6 .5 1.7 .5-1.7 .5 1.8 .5-2 .5 2.8 .5-2.2 .5 1.4 .5-2.4 .5 4.3 .5-3.2 .5 3.2 .5-3 .5 3.1 .5-4.4 .5 4.4 .5-3.1 .5 2.8 .5-2.9 .5 1.6 .5-1.7 .5 1.5 .5-1.5 .5 2.4 .5-2.7 .5 1.7 .5-2.5 .5 2.3 .5-1.8 .5 1.9 .5-2.4 .5 1.7 .5-2.6 .5 2.9 .5-2.9 .5 3.9 .5-4.1 .5 2.6 .5-2.5 .5 3.3 .5-3.8 .5 2.8 .5-3.1 .5 2.8 .5-2.2 .5 1.3 .5-2 .5 1.9 .5-2.1 .5 1 .5-2 .5 1.6 .5-1.9 .5 1.2 .5-2.8 .5 2.1 .5-2.1 .5 1.4 .5-2 .5 2.1 .5-2.8 .5 .9 .5-1.8 .5 1.3 .5-2.6 .5 1.6 .5-3 .5 .9 .5-2.5 .5 1.5 .5-2.8 .5 1.8 .5-3.4 .5 1.3 .5-3.2 .5 1 .5-3 .5 1.7 .5-3.1 .5 1.2 .5-2.6 .5 1 .5-2.5 .5 .9 .5-2.4 .5 2.1 .5-2.9 .5 1.5 .5-2.3 .5 2.6 .5-2.5 .5 2.5 .5-1.9 .5 2.5 .5-1.3 .5 2.7 .5-1.4 .5 2.4 .5-.6 .5 3 .5-1.6 .5 3 .5-1.1 .5 3.5 .5-1.7 .5 3.6 .5-1.9 .5 3.3 .5-1.9 .5 4 .5-3.1 .5 3.3 .5-1 .5 2.6 .5-1.3 .5 2 .5-.8 .5 1.9 .5-1 .5 2.5 .5-2 .5 2.1 .5-1 .5 2.3 .5-2.4 .5 2.4 .5-1.3 .5 3.6 .5-3.2 .5 3.5 .5-3.5 .5 4 .5-3.6 .5 3.9 .5-3.2 .5 4 .5-4 .5 2.8 .5-1.6 .5 2.3 .5-1.8 .5 1.9 .5-2 .5 2.1 .5-2.1 .5 2.1 .5-1.3 .5 1.1 .5-1 .5 1.4 .5-1.5 .5 1.3 .5-1.7 .5 2.8 .5-2.2 .5 1.2 .5-1.4 .5 2.3 .5-1.9 .5 1.5 .5-1.6 .5 1.4 .5-1.2 .5 1.4 .5-1.4 .5 1.4 .5-1.6 .5 1.7 .5-1.7 .5 1.6 .5-1.1 .5 1 .5-1.3 .5 1.6 .5-1.9 .5 1.5 .5-1.2 .5 1.3 .5-1.8 .5 1.4 .5-2.2 .5 1.9 .5-1.3 .5 1.5 .5-1.9 .5 1.2 .5-1.7 .5 1.5 .5-1.2 .5 1.1 .5-1.4 .5 1.2 .5-1.4 .5 .7 .5-1.1 .5 1.2 .5-2.2 .5 1.4 .5-1.5 .5 .8 .5-1.6 .5 1 .5-2.2 .5 1.4 .5-2 .5 .6 .5-1.9 .5 1 .5-1.8 .5 .5 .5-1.8 .5 .8 .5-2.5 .5 .8 .5-1.9 .5 .4 .5-1.9 .5 .5 .5-2.4 .5 .7 .5-1.8 .5 .2 .5-2.1 .5 .9 .5-2 .5 .7 .5-2 .5 .6 .5-1.8 .5 1.1 .5-1.9 .5 1.2 .5-1.3 .5 1.5 .5-1.6 .5 2.1 .5-1.1 .5 1.2 .5-1.1 .5 2.4 .5-1.6 .5 1.6 .5-1.2 .5 1.4 .5-1.3 .5 1.6 .5-1 .5 1.6 .5-1.5 .5 1.7 .5-1.6 .5 1.3 .5-1.6 .5 1.6 .5-.9 .5 1.6 .5-2.5 .5 2.8 .5-2 .5 2.9 .5-1.3 .5 2.8 .5-1.5 .5 2.5 .5-1.4 .5 2.2 .5-.8 .5 2.5 .5-.9 .5 2.1 .5-.6 .5 2 .5-.7 .5 1.8 .5-.6 .5 1.6 .5-.9 .5 2 .5-.7 .5 1.4 .5-.4 .5 1.2 .5-.9 .5 1.9 .5-1.2 .5 1.8 .5-.6 .5 1.4 .5-.6 .5 1.3 .5-.7 .5 1.3 .5-1 .5 1.5 .5-.6 .5 1.2 .5-.8 .5 1 .5-.7 .5 1.1 .5-.9 .5 1.1 .5-.6 .5 .8 .5-.8 .5 1.3 .5-1.4 .5 1.3 .5-1.2 .5 1.2 .5-1 .5 1 .5-1 .5 .7 .5-1.2 .5 1.4 .5-1.2 .5 1.2 .5-1.1 .5 .8 .5-.7 .5 .8 .5-.8 .5 .9 .5-1 .5 .8 .5-.6 .5 .8 .5-.8 .5 1.4 .5-1.2 .5 .8 .5-1 .5 1.3 .5-1.4 .5 1.6 .5-1 .5 .8 .5-.7 .5 .9 .5-.9 .5 1.2 .5-1.2 .5 .7 .5-1 .5 1.4 .5-1.3 .5 1.1 .5-1 .5 1.7 .5-1.9 .5 1.8 .5-1.7 .5 1.6 .5-1.5 .5 1.7 .5-2.4 .5 2.2 .5-1.4 .5 .8 .5-1 .5 1 .5-.8 .5 .8 .5-1 .5 .8 .5-.8 .5 1 .5-1.3 .5 1 .5-1.1 .5 1.2 .5-1 .5 .9 .5-1 .5 .6 .5-.7 .5 1.2 .5-1.4 .5 .9 .5-1.1 .5 1 .5-1.3 .5 1.1 .5-1 .5 1 .5-.8 .5 .9 .5-1.1 .5 .7 .5-.9 .5 .8 .5-.9 .5 .8 .5-1.1 .5 .9 .5-1.1 .5 .9 .5-1.2 .5 .7 .5-1.6 .5 1.8 .5-1.8 .5 1.1 .5-1.2 .5 .8 .5-.9 .5 .6 .5-1.4 .5 2 .5-2.2 .5 1.7 .5-2.1 .5 1.8 .5-2.3 .5 1.8 .5-2.5 .5 .8 .5-1.4 .5 .7 .5-1.2 .5 .4 .5-1.4 .5 .6 .5-1.6 .5 .7 .5-1.6 .5 1 .5-1.6 .5 .8 .5-1.6 .5 .5 .5-1.8 .5 1.3 .5-1.9 .5 1.1 .5-2.9 .5 2.2 .5-2.7 .5 2.3 .5-1.4 .5 1.2 .5-1.3 .5 1 .5-1 .5 1.3 .5-1.3 .5 1.5 .5-.8 .5 2 .5-1.4 .5 1.5 .5-.7 .5 1.5 .5-.5 .5 1.5 .5-1.1 .5 2 .5-1.6 .5 2.5 .5-.9 .5 2.3 .5-1.4 .5 1.5 .5-.8 .5 2.5 .5-1.3 .5 1.1 .5-.9 .5 1.5 .5-.7 .5 1.8 .5-1.1 .5 1.1 .5-.7 .5 1.4 .5-.8 .5 1 .5-.7 .5 1.3 .5-.8 .5 1.3 .5-1.2 .5 1.4 .5-.9 .5 1.1 .5-.6 .5 1.3 .5-1.2 .5 1 .5-.8 .5 1.2 .5-.8 .5 1.3 .5-1.4 .5 1 .5-.7 .5 1 .5-.8 .5 .8 .5-.6 .5 .9 .5-1.1 .5 1 .5-.8 .5 1.5 .5-1.9 .5 1.5 .5-.7 .5 .8 .5-.9 .5 1 .5-.6 .5 .7 .5-.7 .5 1 .5-1.3 .5 1.7 .5-2.1 .5 1.7 .5-.8 .5 1 .5-1.1 .5 .8 .5-.8 .5 1.2 .5-1.2 .5 .7 .5-.9 .5 .9 .5-1.2 .5 1.3 .5-1.2 .5 .8 .5-1.1 .5 1.1 .5-.9 .5 .6 .5-.6 .5 .7 .5-.8 .5 1.3 .5-1.7 .5 1.2 .5-1.1 .5 1.1 .5-1.2 .5 1 .5-.8 .5 .7 .5-.8 .5 .9 .5-1 .5 1.1 .5-1.4 .5 1.7 .5-1.6 .5 1.4 .5-1.3 .5 1.2 .5-1.1 .5 .8 .5-1.2 .5 2.4 .5-2.5 .5 2.2 .5-2.1 .5 1 .5-1 .5 1.3 .5-1.4 .5 1.1 .5-1.3 .5 1.1 .5-1.7 .5 1.7 .5-1.1 .5 1.2 .5-1.4 .5 1.2 .5-1.5 .5 1.6 .5-1.3 .5 .7 .5-1.1 .5 1.1 .5-1 .5 1.2 .5-1.4 .5 .7 .5-1.1 .5 1 .5-1.2 .5 1.1 .5-.7 .5 1.1 .5-1.5 .5 1.2 .5-1.7 .5 2.8 .5-2.9 .5 3 .5-2.2 .5 1 .5-.8 .5 1.2 .5-1.1 .5 1.3 .5-1.2 .5 .7 .5-.7 .5 .8 .5-.9 .5 .9 .5-1.2 .5 1.1 .5-1.1 .5 1.1 .5-1.3 .5 1.4 .5-1.5 .5 1.3 .5-.8 .5 .8 .5-1 .5 1.4 .5-1.1 .5 1.1 .5-.9 .5 .9 .5-.8 .5 .9 .5-.6 .5 .9 .5-1.1 .5 1.3 .5-1.1 .5 1.2 .5-.7 .5 .9 .5-.9 .5 2.1 .5-2 .5 2 .5-1.7 .5 1.9 .5-1.7 .5 1.1 .5-1.2 .5 1.1 .5-1.4 .5 1.8 .5-1.3 .5 1.8 .5-1.7 .5 1 .5-1 .5 1.4 .5-1.2 .5 .9 .5-1.1 .5 1.1 .5-.6 .5 .7 .5-.6 .5 .8 .5-.9 .5 1 .5-.9 .5 .8 .5-1.2 .5 2.3 .5-2.6 .5 2.3 .5-2.1 .5 2 .5-2.2 .5 1.5 .5-1.2 .5 1.1 .5-1.1 .5 1.1 .5-1.1 .5 1.4 .5-1.1 .5 1.3 .5-1.5 .5 1.4 .5-1.2 .5 .9 .5-1 .5 1.1 .5-.8 .5 .8 .5-.7 .5 1.2 .5-1.5 .5 1.3 .5-1.3 .5 1.2 .5-.9 .5 .7 .5-.8 .5 1 .5-1.1 .5 1 .5-1.2 .5 1.6 .5-2.3 .5 1.6 .5-1.8 .5 1.5 .5-1.7 .5 1.4 .5-1.9 .5 1.5 .5-1.2 .5 .8 .5-1.4 .5 1.1 .5-1.3 .5 1.1 .5-1.4 .5 .7 .5-1 .5 .9 .5-1.2 .5 .7 .5-1.2 .5 1.2 .5-1.4 .5 1.4 .5-1.7 .5 1.2 .5-1.4 .5 .7 .5-1 .5 .9 .5-1.1 .5 .9 .5-1 .5 1.3 .5-1.5 .5 1 .5-.8 .5 1.2 .5-1.4 .5 1.3 .5-.9 .5 .8 .5-.7 .5 1.1 .5-.9 .5 .9 .5-.7 .5 1.1 .5-1.2 .5 1.5 .5-1.4 .5 2.3 .5-2 .5 2.2 .5-1.7 .5 2.1 .5-1.9 .5 .9 .5-.7 .5 1.2 .5-.8 .5 .9 .5-.8 .5 1.5 .5-1.3 .5 1.5 .5-1.2 .5 1.9 .5-1.5 .5 1.1 .5-.8 .5 1.2 .5-.8 .5 1.3 .5-1.4 .5 1.2 .5-.7 .5 1.2 .5-1.4 .5 1.4 .5-.8 .5 1.1 .5-1 .5 1.2 .5-.9 .5 .9 .5-.9 .5 1.4 .5-1.3 .5 1.3 .5-1.2 .5 .8 .5-1.3 .5 1.4 .5-.9 .5 1.1 .5-.9 .5 .8 .5-1 .5 1.2 .5-1.3 .5 1.2 .5-1.1 .5 .9 .5-.8 .5 1.1 .5-1.1 .5 1 .5-.8 .5 1.3 .5-1 .5 1.1 .5-1.4 .5 1.5 .5-1.5 .5 1.1 .5-1.1 .5 1.5 .5-1.3 .5 .7 .5-1 .5 1 .5-1.2 .5 1.3 .5-1.1 .5 1.1 .5-1.2 .5 1.2 .5-1.4 .5 1.4 .5-1.2 .5 1.3 .5-1.3 .5 1.4 .5-.7 .5 1 .5-1.1 .5 .8 .5-.7 .5 .7 .5-.9 .5 1.2 .5-.9 .5 .7 .5-1.2 .5 1.4 .5-1.4 .5 1.1 .5-.6 .5 .7 .5-1.2 .5 1 .5-.9 .5 1.1 .5-1.4" stroke="#ff0000"/>
<path d="M1206.5 615.5l.5 25.5 .5-25 .5 24 .5-23 .5 20 .5-18 .5 15 .5-5.2 .5-7.4 .5 12.3 .5-10.6 .5 16.3 .5-16.1 .5 15.2 .5-18.1 .5 12.8 .5-10.7 .5 7.4 .5-7.3 .5 8.1 .5-9.3 .5 9.5 .5-10.7 .5 9.3 .5-6.5 .5 7.1 .5-7.8 .5 8.5 .5-8.4 .5 6.6 .5-8.8 .5 8.5 .5-6.9 .5 7.7 .5-7 .5 6.1 .5-6.8 .5 7.4 .5-10.9 .5 10.3 .5-7.6 .5 7 .5-6.7 .5 10.3 .5-10.1 .5 7.3 .5-7.9 .5 9.4 .5-10.4 .5 11.8 .5-10.8 .5 9.2 .5-8.9 .5 8.5 .5-8.9 .5 10.8 .5-9.5 .5 7.5 .5-9.4 .5 8.8 .5-8.8 .5 8.5 .5-7.2 .5 9.1 .5-8 .5 15.1 .5-17.2 .5 18.4 .5-18.1 .5 9.8 .5-9.8 .5 10.1 .5-11.2 .5 17.9 .5-19.2 .5 18.7 .5-18.1 .5 19.9 .5-15 .5 8.6 .5-12.5 .5 12.2 .5-8.9 .5 9.8 .5-9.5 .5 9.4 .5-11.7 .5 9.5 .5-9.2 .5 14.2 .5-11.7 .5 6.7 .5-8.9 .5 9.2 .5-10.4 .5 12.3 .5-8.6 .5 6.5 .5-6.7 .5 9.2 .5-10.1 .5 10.4 .5-9.7 .5 6.6 .5-6 .5 5.3 .5-5.9 .5 9.5 .5-10.5 .5 6.9 .5-9.8 .5 12.5 .5-9.9 .5 7.1 .5-8.5 .5 7.5 .5-6 .5 10 .5-12.9 .5 9.9 .5-6.8 .5 7.1 .5-6.3 .5 6.7 .5-8.2 .5 7.2 .5-7.5 .5 8 .5-7.6 .5 8.2 .5-11.3 .5 11.3 .5-7.6 .5 14.6 .5-15.6 .5 16.3 .5-17.5 .5 10.7 .5-8.8 .5 5.9 .5-7.3 .5 8 .5-8 .5 10.7 .5-15.5 .5 12.3 .5-6.6 .5 10.8 .5-13 .5 9.7 .5-10.6 .5 11.9 .5-9.6 .5 6.1 .5-8.9 .5 14.9 .5-15.6 .5 10 .5-9.2 .5 8.2 .5-6.7 .5 7.9 .5-6.7 .5 6.8 .5-8.7 .5 8.3 .5-10.1 .5 9.1 .5-7.4 .5 11.1 .5-15.2 .5 11.8 .5-7.4 .5 9.3 .5-10.5 .5 11.2 .5-10.2 .5 7.3 .5-6.8 .5 8.4 .5-7.8 .5 6.2 .5-6.9 .5 11 .5-9.7 .5 10.2 .5-12.3 .5 12.5 .5-12.4 .5 12.1 .5-11.7 .5 8.3 .5-7.1 .5 5.5 .5-8.8 .5 9.8 .5-6.3 .5 8.8 .5-9.7 .5 6.4 .5-7.8 .5 9.7 .5-8.4 .5 6.6 .5-7.7 .5 7.7 .5-8.4 .5 12.8 .5-12.2 .5 7.3 .5-9.3 .5 11.6 .5-8.8 .5 9.1 .5-10.3 .5 8.2 .5-7.2 .5 10 .5-9 .5 7.3 .5-8.6 .5 6 .5-7.5 .5 7.5 .5-6.4 .5 9.4 .5-8.7 .5 6.1 .5-9.3 .5 11.9 .5-10.2 .5 7.9 .5-8.2 .5 10 .5-8.6 .5 9 .5-7.7 .5 5.8 .5-7.6 .5 7.4 .5-6.4 .5 10.4 .5-9.4 .5 5.4 .5-8.2 .5 11.2 .5-8.2 .5 6 .5-7.1 .5 7.7 .5-12.2 .5 12.1 .5-12.2 .5 12.2 .5-12.8 .5 12.4 .5-10.9 .5 10.5 .5-6.4 .5 10.8 .5-10.5 .5 6.4 .5-8.9 .5 9.6 .5-5.6 .5 9.6 .5-11.6 .5 12.5 .5-12 .5 8.9 .5-9.4 .5 9.2 .5-7 .5 7.6 .5-7 .5 6.3 .5-5.6 .5 5.8 .5-7.9 .5 7.6 .5-5.5 .5 6.5 .5-6.8 .5 5.3 .5-8.5 .5 9.9 .5-7.9 .5 7 .5-7.9 .5 8.7 .5-7.3 .5 6.3 .5-6.1 .5 8.5 .5-9.9 .5 7.8 .5-7.4 .5 7.1 .5-6 .5 5.5 .5-7 .5 6 .5-5.1 .5 8.6 .5-10.3 .5 6.7 .5-6.5 .5 6.4 .5-14.3 .5 16.4 .5-17.3 .5 15.7 .5-15.5 .5 15 .5-8.6 .5 7.2 .5-6.7 .5 7.1 .5-8.8 .5 9.4 .5-7.7 .5 7.4 .5-8.7 .5 9 .5-7.5 .5 7.1 .5-6.4 .5 9.3 .5-10.7 .5 8.3 .5-7.3 .5 8.8 .5-7.3 .5 6.5 .5-6.3 .5 8.1 .5-12.5 .5 12.3 .5-12.2 .5 10.3 .5-10.9 .5 12.6 .5-9.4 .5 7.6 .5-5.4 .5 5.3 .5-6 .5 5.6 .5-11.8 .5 12.3 .5-10.6 .5 11 .5-12.4 .5 14.3 .5-13.9 .5 15.8 .5-10 .5 6.3 .5-6.7 .5 9.4 .5-8.4 .5 5.7 .5-5.6 .5 9.1 .5-8.7 .5 5.9 .5-5.4 .5 6.4 .5-10.4 .5 9.2 .5-5 .5 4.8 .5-6.3 .5 6.8 .5-6.9 .5 6.5 .5-4.8 .5 5 .5-4.7 .5 4.7 .5-4.4 .5 6.9 .5-7.5 .5 5.3 .5-4.9 .5 5.9 .5-5.7 .5 8.6 .5-9.8 .5 8.4 .5-13.6 .5 12 .5-10.9 .5 11.8 .5-7 .5 5.8 .5-5 .5 6.4 .5-6.3 .5 5.5 .5-6.2 .5 10 .5-12 .5 7.9 .5-8.5 .5 7.8 .5-6.3 .5 7.8 .5-6.5 .5 5.1 .5-6.7 .5 9.4 .5-9.5 .5 6.7 .5-6.6 .5 7.4 .5-6.7 .5 6.6 .5-5.8 .5 4.7 .5-5.9 .5 8.1 .5-8.2 .5 8.2 .5-8.7 .5 8 .5-8.9 .5 9.5 .5-10.6 .5 11.5 .5-10.9 .5 7 .5-7.7 .5 7.2 .5-6.9 .5 6.2 .5-6.3 .5 5.1 .5-8.6 .5 9 .5-7 .5 6 .5-6 .5 5.9 .5-7.9 .5 6.1 .5-6.3 .5 6.2 .5-6 .5 5.5 .5-6.9 .5 4 .5-5.8 .5 4.3 .5-13.4 .5 11 .5-12.8 .5 10.7 .5-13.9 .5 10.5 .5-9.2 .5 8.3 .5-11.5 .5 5.5 .5-8.9 .5 2.1 .5-7.7 .5 4 .5-9.2 .5 1.6 .5-7.9 .5 .8 .5-8.1 .5 1.3 .5-13.3 .5 5.8 .5-12.5 .5 5.2 .5-13.8 .5 6.6 .5-9.1 .5 2.6 .5-9.2 .5 3.2 .5-10.2 .5 6.2 .5-9 .5 7.9 .5-5.7 .5 8.9 .5-2.2 .5 8.4 .5-2.4 .5 8.2 .5-4.1 .5 13.2 .5-4.1 .5 11.1 .5-2.6 .5 8.8 .5-2.1 .5 9.2 .5-1.5 .5 8.5 .5-.9 .5 7.2 .5-4 .5 10.1 .5-2.4 .5 7.7 .5-3.1 .5 7.5 .5-3.5 .5 9.4 .5-6.9 .5 8.8 .5-3.3 .5 5.2 .5-3.3 .5 5.9 .5-4.5 .5 7.7 .5-10.5 .5 12.2 .5-10.1 .5 10.8 .5-9.8 .5 10.4 .5-9.7 .5 10.6 .5-5.9 .5 7.5 .5-7.1 .5 6.8 .5-5.4 .5 7.2 .5-7.2 .5 7.2 .5-6.5 .5 5 .5-4.7 .5 5.8 .5-5.3 .5 4.4 .5-4.2 .5 4.1 .5-4.6 .5 5.9 .5-6.3 .5 5 .5-5.1 .5 7.6 .5-6 .5 4.1 .5-4.9 .5 4.1 .5-3.6 .5 4.2 .5-5.4 .5 5.9 .5-4.7 .5 3.7 .5-3.5 .5 6.4 .5-6.3 .5 5 .5-6.5 .5 5.7 .5-5.9 .5 6.7 .5-7.2 .5 6.9 .5-6.3 .5 4.2 .5-3.4 .5 3.3 .5-4.1 .5 5.4 .5-6.1 .5 5.2 .5-4.5 .5 5.9 .5-5.2 .5 3 .5-3.9 .5 5 .5-4.8 .5 3.7 .5-3.3 .5 4.2 .5-4.2 .5 6 .5-6.8 .5 6 .5-6 .5 4.5 .5-3.6 .5 6.9 .5-6.7 .5 5.3 .5-5.7 .5 5 .5-5.3 .5 4.8 .5-5.3 .5 5.9 .5-4.9 .5 4.2 .5-5.4 .5 6.6 .5-4.5 .5 3.5 .5-4.9 .5 6.1 .5-5.1 .5 3.3 .5-3.6 .5 4.7 .5-4.2 .5 5 .5-7.1 .5 6 .5-3.9 .5 6.6 .5-7 .5 4 .5-3.8 .5 4.2 .5-4.1 .5 3.9 .5-5.6 .5 5.7 .5-3.9 .5 3.9 .5-6.1 .5 7.5 .5-5.5 .5 4.8 .5-3.8 .5 3.2 .5-4.4 .5 6.4 .5-4.9 .5 3.2 .5-4.7 .5 5.6 .5-5 .5 4.6 .5-3.7 .5 3.7 .5-3.7 .5 3.8 .5-6.8 .5 8.5 .5-8.7 .5 7.6 .5-7 .5 6.3 .5-6.3 .5 6.7 .5-2.9 .5 3.7 .5-3.7 .5 3.2 .5-4.7 .5 5.4 .5-6.5 .5 8.3 .5-5.5 .5 4.2 .5-4.5 .5 4.3 .5-4.3 .5 3.9 .5-4.1 .5 3.8 .5-4 .5 3.5 .5-5.5 .5 5.9 .5-3.9 .5 3.2 .5-3.9 .5 4 .5-3.4 .5 4.5 .5-4.5 .5 3.9 .5-3 .5 4.8 .5-4.8 .5 5 .5-5.3 .5 4 .5-4.2 .5 5.5 .5-4.7 .5 3.5 .5-4.6 .5 4.9 .5-4.2 .5 3.6 .5-4.3 .5 5 .5-5.7 .5 6.4 .5-6.7 .5 6.6 .5-5.7 .5 4.2 .5-3.4 .5 4.8 .5-6.2 .5 5.3 .5-4.4 .5 5.1 .5-4.2 .5 4.8 .5-4.3 .5 2.8 .5-4.4 .5 5 .5-3.9 .5 4.2 .5-3.6 .5 3.3 .5-3.5 .5 3.5 .5-3.8 .5 3.8 .5-3.7 .5 3.7 .5-5.2 .5 7.4 .5-5.6 .5 5 .5-5.4 .5 3.8 .5-5.1 .5 6.3 .5-5.1 .5 3.5 .5-5.8 .5 5.3 .5-3.2 .5 3 .5-4.2 .5 5.8 .5-5.6 .5 3.5 .5-3.7 .5 5 .5-5 .5 6.9 .5-6.7 .5 4.2 .5-4.4 .5 4.3 .5-4.4 .5 3.9 .5-3.8 .5 3.3 .5-3.6 .5 2.9 .5-4.5 .5 4 .5-4.1 .5 5.1 .5-5.7 .5 3.9 .5-4.4 .5 3.7 .5-5.8 .5 5.6 .5-6.3 .5 4.3 .5-4.2 .5 2.9 .5-5.1 .5 5 .5-6.5 .5 3.9 .5-4.4 .5 2.3 .5-5.1 .5 3.4 .5-5.5 .5 1.9 .5-5.9 .5 4.1 .5-6.4 .5 3.1 .5-6.1 .5 3.1 .5-7.3 .5 6.9 .5-6.7 .5 7.9 .5-4 .5 5.6 .5-2.6 .5 6.5 .5-3 .5 4.8 .5-2.5 .5 7.1 .5-4 .5 4.4 .5-3.4 .5 6.7 .5-5.4 .5 4.9 .5-3.4 .5 5.9 .5-4.4 .5 5.3 .5-5.9 .5 6.1 .5-2.9 .5 5.3 .5-4 .5 3.7 .5-3.4 .5 5.8 .5-4.5 .5 3.7 .5-3.2 .5 4.3 .5-3.8 .5 6.3 .5-6.6 .5 4 .5-2.6 .5 3.4 .5-3.4 .5 2.9 .5-4.9 .5 5.7 .5-3.2 .5 3.3 .5-3.7 .5 4.9 .5-4.5 .5 3.2 .5-3.2 .5 4 .5-3.7 .5 5.3 .5-5.6 .5 4.3 .5-4 .5 4.5 .5-3.8 .5 3.9 .5-3.2 .5 2.9 .5-3.2 .5 3.9 .5-3.6 .5 3.2 .5-3.7 .5 5.5 .5-5 .5 3.6 .5-3.4 .5 4.1 .5-4.4 .5 3.9 .5-3.7 .5 2.7 .5-4.1 .5 5.2 .5-5.2 .5 4 .5-2.7 .5 2.8 .5-2.8 .5 3 .5-3.4 .5 4.2 .5-4.4 .5 3.4 .5-3.5 .5 3.2 .5-3.4 .5 3.6 .5-3.5 .5 3.4 .5-3.6 .5 3.4 .5-3.1 .5 3.1 .5-2.9 .5 4.5 .5-5.5 .5 5.6 .5-4.8 .5 4.7 .5-4.8 .5 4.4 .5-4.3 .5 5.2 .5-4.4 .5 3 .5-2.9 .5 2.7 .5-4.9 .5 5.6 .5-3.4 .5 3.4 .5-4.1 .5 4 .5-3 .5 3.4 .5-4.9 .5 4.6 .5-3.9 .5 3.3 .5-3.2 .5 3.9 .5-4.2 .5 3.6 .5-2.8 .5 3.5 .5-3.9 .5 3.9 .5-4.5 .5 5.7 .5-4.6 .5 3.5 .5-4 .5 2.9 .5-3.4 .5 3.2 .5-2.7 .5 2.9 .5-4.1 .5 3.9 .5-2.7 .5 2.6 .5-2.6 .5 2.9 .5-2.7 .5 3.2 .5-4 .5 3.6 .5-3.8 .5 4.5 .5-3.9 .5 3 .5-2.5 .5 4.1 .5-5.3 .5 4.4 .5-4.2 .5 3.5 .5-2.7 .5 2.6 .5-4.3 .5 5.4 .5-3.9 .5 3.6 .5-3.2 .5 3.4 .5-4.6 .5 4 .5-2.8 .5 2.9 .5-3.2 .5 2.7 .5-3.5 .5 5.1 .5-4.8 .5 2.9 .5-2.8 .5 3.2 .5-3 .5 3.4 .5-4.6 .5 3.7 .5-4.9 .5 6.6 .5-5 .5 2.6 .5-3.4 .5 3.1 .5-4.2 .5 5.2 .5-3.7 .5 3 .5-3.6 .5 3.3 .5-3.3 .5 2.6 .5-3.6 .5 2.9 .5-3.8 .5 3.3 .5-3.1 .5 2.8 .5-5.9 .5 6.9 .5-7.3 .5 6.6 .5-4.6 .5 3.9 .5-5.6 .5 4.8 .5-4.6 .5 2.6 .5-4.5 .5 6.9 .5-7.8 .5 6.4 .5-6.7 .5 2.8 .5-6.2 .5 4.5 .5-4.4 .5 3 .5-6 .5 4.1 .5-3.6 .5 1.8 .5-4 .5 3.2 .5-4.2 .5 1.8 .5-3.8 .5 2.3 .5-5.2 .5 2.9 .5-3.5 .5 3.4 .5-4.6 .5 2.5 .5-5.2 .5 4.9 .5-6.7 .5 5.7 .5-5.9 .5 7 .5-6.6 .5 8.6 .5-3.8 .5 3.2 .5-2.7 .5 5.4 .5-2.8 .5 3.3 .5-2.8 .5 4.2 .5-2.2 .5 5.8 .5-5.5 .5 5.3 .5-3.4 .5 5.1 .5-3.4 .5 4.9 .5-2 .5 3.4 .5-3.6 .5 6.3 .5-4.5 .5 4.1 .5-2.7 .5 3.5 .5-1.9 .5 3.2 .5-2.5 .5 3.6 .5-2.4 .5 3.7 .5-3 .5 3 .5-2.9 .5 4.2 .5-3.2 .5 3 .5-1.7 .5 2.2 .5-2.8 .5 3.6 .5-2.2 .5 1.9 .5-2.6 .5 3.5 .5-2.9 .5 3.1 .5-3.5 .5 4.3 .5-3.5 .5 5.3 .5-5.6 .5 6 .5-6.3 .5 3.3 .5-2 .5 2.5 .5-2.6 .5 2.4 .5-3.8 .5 3.6 .5-2.1 .5 2.3 .5-2.4 .5 2.8 .5-3.6 .5 3.3 .5-2.9 .5 3.2 .5-3.2 .5 2.8 .5-2.8 .5 2.3 .5-2 .5 3 .5-3.3 .5 2.8 .5-2.4 .5 2.6 .5-2.9 .5 2.9 .5-3.3 .5 2.1 .5-2.2 .5 2.2 .5-2.1 .5 2.1 .5-2.9 .5 3.2 .5-3.6 .5 2.7 .5-4.1 .5 3.9 .5-2.4 .5 1.9 .5-2.9 .5 2.8 .5-2.6 .5 2.5 .5-2.5 .5 2.4 .5-2.4 .5 1.9 .5-2.4 .5 2.2 .5-4.5 .5 3.8 .5-2.9 .5 2 .5-2.7 .5 2.2 .5-3.6 .5 2.9 .5-3.8 .5 2.3 .5-3.2 .5 2.1 .5-2.6 .5 1.6 .5-2.8 .5 1.8 .5-3.2 .5 1.4 .5-2.9 .5 1.7 .5-4.2 .5 3.1 .5-3.7 .5 1.4 .5-3.2 .5 2.7 .5-4.3 .5 1.8 .5-4 .5 1.8 .5-3 .5 2 .5-2.6 .5 2.5 .5-2.4 .5 1.9 .5-2.3 .5 2.9 .5-3 .5 3 .5-1.7 .5 2.8 .5-2.1 .5 2.5 .5-2.1 .5 2.8 .5-2.6 .5 3.2 .5-3.4 .5 3.7 .5-1.9 .5 1.8 .5-1.8 .5 2.4 .5-2.5 .5 3.1 .5-3.3 .5 3.5 .5-2 .5 1.7 .5-1.7 .5 2.3 .5-1.1 .5 2.3 .5-1.2 .5 3 .5-1.9 .5 2.5 .5-2 .5 3.8 .5-1.9 .5 2.3 .5-1.1 .5 2.5 .5-1.2 .5 2.5 .5-1.3 .5 2.2 .5-1.2 .5 2.6 .5-1.4 .5 2 .5-1.3 .5 2 .5-.8 .5 1.7 .5-1.3 .5 2.3 .5-1.8 .5 2.3 .5-1.3 .5 1.7 .5-1.6 .5 2.4 .5-1.4 .5 1.8 .5-1.8 .5 1.8 .5-1.4 .5 2.2 .5-2 .5 1.7 .5-1.1 .5 1.3 .5-1.6 .5 2.1 .5-3.3 .5 3.5 .5-3.4 .5 3.3 .5-3.1 .5 3.4 .5-1.6 .5 1.2 .5-1.9 .5 2.3 .5-2.2 .5 2.6 .5-2.1 .5 2.1 .5-2.3 .5 2.1 .5-1.8 .5 2.5 .5-2.4 .5 2.2 .5-1.7 .5 1.7 .5-1.5 .5 1.2 .5-1.5 .5 2.6 .5-2.5 .5 1.6 .5-1.4 .5 1.3 .5-1.6 .5 1.6 .5-1.6 .5 1.5 .5-1.4 .5 1.7 .5-1.6 .5 1.3 .5-1.3 .5 1.4 .5-1.4 .5 1.6 .5-1.4 .5 1.8 .5-1.8 .5 2.7 .5-3 .5 3.3 .5-3 .5 2.9 .5-3.6 .5 3.5 .5-3.2 .5 2.7 .5-2.6 .5 2.3 .5-2.5 .5 1.7 .5-1.7 .5 1.7 .5-2.3 .5 2 .5-1.5 .5 1.8 .5-1.6 .5 1.6 .5-1.6 .5 1.4 .5-1.5 .5 1.7 .5-2.3 .5 1.8 .5-2.1 .5 3.2 .5-3.3 .5 3.3 .5-3.9 .5 2.5 .5-2.4 .5 3 .5-2.5 .5 1.4 .5-2 .5 2.4 .5-2 .5 1.6 .5-2 .5 1.7 .5-1.3 .5 2.1 .5-2.3 .5 1.5 .5-2.9 .5 2.7 .5-3.3 .5 2.7 .5-1.5 .5 1.6 .5-2.4 .5 1.5 .5-2 .5 2.2 .5-2.4 .5 1.5 .5-2.5 .5 1.6 .5-1.7 .5 1.2 .5-2.5 .5 1.7 .5-2.4 .5 1.7 .5-2.2 .5 1.7 .5-2.2 .5 1.4 .5-2 .5 2 .5-2.9 .5 1.3 .5-2.3 .5 1.3 .5-2.3 .5 1.3 .5-2.5 .5 3.4 .5-4.4 .5 3.7 .5-4.2 .5 3.1 .5-4.3 .5 3.3 .5-3.7 .5 1.7 .5-2.4 .5 1.5 .5-1.5 .5 1.6 .5-2 .5 1.5 .5-1.5 .5 2.1 .5-1.6 .5 2.3 .5-1.9 .5 2.3 .5-2.3 .5 3.2 .5-1.3 .5 2 .5-2 .5 3.2 .5-2.1 .5 2.9 .5-1.4 .5 2 .5-1.2 .5 2.3 .5-1.4 .5 2.2 .5-1.4 .5 2.2 .5-1.6 .5 2.1 .5-1.1 .5 2.3 .5-1.7 .5 2.1 .5-2.2 .5 3.3 .5-1.7 .5 2.1 .5-1.4 .5 1.5 .5-.9 .5 1.5 .5-1 .5 1.7 .5-1.1 .5 1.8 .5-1.4 .5 3.3 .5-3.4 .5 3.8 .5-3.5 .5 3.8 .5-3.9 .5 2.7 .5-2.4 .5 2.4 .5-1.5 .5 1.7 .5-1.6 .5 1.5 .5-1.2 .5 1.2 .5-1.7 .5 1.9 .5-1.3 .5 1.6 .5-1.9 .5 1.5 .5-1.2 .5 1.3 .5-2 .5 2 .5-1.8 .5 2 .5-1.3 .5 1.8 .5-1.9 .5 1.6 .5-1.3 .5 1.2 .5-1.1 .5 1.4 .5-1.3 .5 1.2 .5-1.5 .5 2 .5-1.9 .5 1.2 .5-1.4 .5 1.7 .5-1.7 .5 1.8 .5-2.1 .5 2.2 .5-2.9 .5 2.3 .5-1.5 .5 1.3 .5-1.1 .5 1.8 .5-1.9 .5 1.4 .5-1.4 .5 1.4 .5-1.3 .5 1.3 .5-1.2 .5 1.3 .5-2.2 .5 2.1 .5-1.4 .5 1.6 .5-1.9 .5 1.4 .5-1.5 .5 1.8 .5-1.9 .5 1.3 .5-1.4 .5 1.2 .5-1.8 .5 1.5 .5-1.6 .5 1.3 .5-1.5 .5 1.2 .5-1.5 .5 1.8 .5-2.6 .5 1.9 .5-2 .5 1.7 .5-1.7 .5 1.2 .5-2.2 .5 1.8 .5-2.4 .5 2 .5-2.2 .5 1.8 .5-1.9 .5 2.3 .5-2.7 .5 1.9 .5-1.9 .5 1.7 .5-3.7 .5 3.7 .5-4.3 .5 3.5 .5-3.5 .5 3.7 .5-2.3 .5 1.8 .5-2.2 .5 2.3 .5-1.6 .5 1.7 .5-2.1 .5 1.9 .5-2.4 .5 2.4 .5-2.1 .5 1.9 .5-1.1 .5 1.3 .5-1.5 .5 2 .5-2 .5 1.5 .5-1.6 .5 1.7 .5-1.7 .5 1.9 .5-1.8 .5 1.9 .5-1.5 .5 1.4 .5-1.7 .5 1.9 .5-1.8 .5 1.8 .5-1.6 .5 1.8 .5-2 .5 2.5 .5-2.9 .5 1.9 .5-1 .5 2.2 .5-2.7 .5 2.3 .5-1.8 .5 1.9 .5-1.3 .5 1.5 .5-1.2 .5 1.6 .5-1.6 .5 2.4 .5-1.5 .5 1.8 .5-1.9 .5 2.1 .5-1.3 .5 1.5 .5-1.9 .5 2.3 .5-1.2 .5 1.4 .5-1.4 .5 1.8 .5-2.2 .5 2.6 .5-2.1 .5 2.4 .5-2.8 .5 2.2 .5-2 .5 2.9 .5-2 .5 1.8 .5-2.3 .5 2.1 .5-1.4 .5 1.5 .5-1.4 .5 1.8 .5-1.6 .5 1.5 .5-1.5 .5 1.7 .5-1.5 .5 1.5 .5-1.3 .5 1.3 .5-1.8 .5 2.6 .5-2.2 .5 1.7 .5-1 .5 1.3 .5-1.4 .5 1.7 .5-1.5 .5 1.4 .5-1.7 .5 2.8 .5-2.8 .5 2.7 .5-2.8 .5 3.1 .5-3.2 .5 2.1 .5-1.8 .5 1.1 .5-1.4 .5 1.7 .5-1.5 .5 1.5 .5-2.3 .5 2.2 .5-1.5 .5 1.5 .5-2.2 .5 2.2 .5-1.7 .5 1.4 .5-1.7 .5 2.9 .5-2.8 .5 1.8 .5-1.6 .5 1.2 .5-1.4 .5 1.6 .5-1.7 .5 1.2 .5-1.4 .5 1.2 .5-1.9 .5 1.8 .5-1.5 .5 1.9 .5-2.7 .5 1.8 .5-1.9 .5 1.8 .5-2.2 .5 1.4 .5-2.3 .5 1.8 .5-1.5 .5 2 .5-2.2 .5 1.4 .5-1.7 .5 1.3 .5-2.8 .5 2.7 .5-2.7 .5 3 .5-3.2 .5 2.6 .5-2.6 .5 2.5 .5-1.4 .5 1.6 .5-1.5 .5 1.7 .5-1.4 .5 1.9 .5-2.5 .5 2.5 .5-1.7 .5 2 .5-1.9 .5 2.1 .5-1.9 .5 1.5 .5-1.7 .5 2.2 .5-1.4 .5 1.5 .5-1.4 .5 1.6 .5-2.1 .5 2 .5-1.8 .5 2.6 .5-1.7 .5 1.5 .5-1.5 .5 1.5 .5-1.6 .5 1.9 .5-1.3 .5 1.6 .5-1.6 .5 1.5 .5-1.7 .5 2.2 .5-1.5 .5 1.8 .5-2.3 .5 2.6 .5-2.7 .5 2.6 .5-1.5 .5 1.6 .5-1.5 .5 1.4 .5-1.4 .5 1.7 .5-1.4 .5 1.6 .5-1.6 .5 1.6 .5-2.1 .5 2.1 .5-1.7 .5 2.2 .5-1.9 .5 2.3 .5-2.2 .5 2 .5-1.9 .5 1.4 .5-1.5 .5 1.5 .5-1.4 .5 1.4 .5-1.5 .5 1.8 .5-1.7 .5 1.9 .5-2.3 .5 1.7 .5-1.4 .5 1.5 .5-1.3 .5 1.5 .5-2.1 .5 1.8 .5-1.4 .5 1.3 .5-1.6 .5 1.8 .5-1.2 .5 1.5 .5-1.5 .5 1.6 .5-1.8 .5 1.4 .5-1.1 .5 1.1 .5-1.5 .5 1.9 .5-1.9 .5 1.9 .5-1.5 .5 1.5 .5-1.7 .5 1.8 .5-1.5 .5 1.6 .5-1.7 .5 1.3 .5-1.8 .5 1.9 .5-1.6 .5 1.4 .5-1.6 .5 1.7 .5-1.4 .5 1.9 .5-1.9 .5 1.4 .5-1.1 .5 1.3 .5-1.3 .5 1.4 .5-1.5 .5 1.3 .5-1.1" stroke="#ff8000"/>
</g>
<g class="t">
<text id="pa1" class="pl" x="24.00" y="42.40" font-size="44.50" textLength="16.30" lengthAdjust="spacingAndGlyphs">(</text>
<text id="pa2" class="pl" x="41.00" y="46.30" font-size="50.00" textLength="24.76" lengthAdjust="spacingAndGlyphs">a</text>
<text id="pa3" class="pl" x="66.50" y="42.40" font-size="44.50" textLength="16.94" lengthAdjust="spacingAndGlyphs">)</text>
<text id="pb1" class="pl" x="1110.50" y="42.40" font-size="44.50" textLength="17.85" lengthAdjust="spacingAndGlyphs">(</text>
<text id="pb2" class="pl" x="1127.00" y="46.80" font-size="51.00" textLength="31.36" lengthAdjust="spacingAndGlyphs">b</text>
<text id="pb3" class="pl" x="1157.50" y="42.90" font-size="44.50" textLength="18.26" lengthAdjust="spacingAndGlyphs">)</text>
<text id="h1a" class="hkl" x="321.00" y="121.00" font-size="35.00" textLength="79.15" lengthAdjust="spacingAndGlyphs">(101)</text>
<text id="h2a" class="hkl" x="477.00" y="161.30" font-size="35.00" textLength="78.18" lengthAdjust="spacingAndGlyphs">(004)</text>
<text id="h3a" class="hkl" x="599.00" y="161.80" font-size="35.00" textLength="78.23" lengthAdjust="spacingAndGlyphs">(200)</text>
<text id="h4a" class="hkl" x="682.00" y="161.30" font-size="35.00" textLength="77.16" lengthAdjust="spacingAndGlyphs">(105)</text>
<text id="h5a" class="hkl" x="782.00" y="182.50" font-size="35.00" textLength="78.20" lengthAdjust="spacingAndGlyphs">(204)</text>
<text id="h1b" class="hkl" x="1413.00" y="104.10" font-size="35.00" textLength="79.18" lengthAdjust="spacingAndGlyphs">(101)</text>
<text id="h2b" class="hkl" x="1566.00" y="168.90" font-size="35.00" textLength="79.20" lengthAdjust="spacingAndGlyphs">(004)</text>
<text id="h3b" class="hkl" x="1685.00" y="167.90" font-size="35.00" textLength="78.17" lengthAdjust="spacingAndGlyphs">(200)</text>
<text id="h4b" class="hkl" x="1772.00" y="167.90" font-size="35.00" textLength="79.17" lengthAdjust="spacingAndGlyphs">(105)</text>
<text id="h5b" class="hkl" x="1866.00" y="187.10" font-size="35.00" textLength="79.17" lengthAdjust="spacingAndGlyphs">(204)</text>
<text id="la1" class="lab" x="738.00" y="105.48" font-size="32.50" textLength="271.03" lengthAdjust="spacingAndGlyphs">H<tspan font-size="20.15" dy="7.80">4</tspan><tspan dy="-7.80">TTFTB-TiO</tspan><tspan font-size="20.15" dy="7.80">2</tspan><tspan dy="-7.80">-6.5</tspan></text>
<text id="la2" class="lab" x="738.00" y="271.38" font-size="32.50" textLength="271.03" lengthAdjust="spacingAndGlyphs">H<tspan font-size="20.15" dy="7.80">4</tspan><tspan dy="-7.80">TTFTB-TiO</tspan><tspan font-size="20.15" dy="7.80">2</tspan><tspan dy="-7.80">-5.0</tspan></text>
<text id="la3" class="lab" x="737.00" y="367.98" font-size="32.50" textLength="270.02" lengthAdjust="spacingAndGlyphs">H<tspan font-size="20.15" dy="7.80">4</tspan><tspan dy="-7.80">TTFTB-TiO</tspan><tspan font-size="20.15" dy="7.80">2</tspan><tspan dy="-7.80">-3.4</tspan></text>
<text id="la4" class="lab" x="739.00" y="476.98" font-size="32.50" textLength="270.02" lengthAdjust="spacingAndGlyphs">H<tspan font-size="20.15" dy="7.80">4</tspan><tspan dy="-7.80">TTFTB-TiO</tspan><tspan font-size="20.15" dy="7.80">2</tspan><tspan dy="-7.80">-1.7</tspan></text>
<text id="lb1" class="lab" x="1829.00" y="106.78" font-size="33.20" textLength="274.04" lengthAdjust="spacingAndGlyphs">H<tspan font-size="20.58" dy="7.97">4</tspan><tspan dy="-7.97">TTFTB-TiO</tspan><tspan font-size="20.58" dy="7.97">2</tspan><tspan dy="-7.97">-6.5</tspan></text>
<text id="lb2" class="lab" x="1829.00" y="269.98" font-size="33.20" textLength="274.02" lengthAdjust="spacingAndGlyphs">H<tspan font-size="20.58" dy="7.97">4</tspan><tspan dy="-7.97">TTFTB-TiO</tspan><tspan font-size="20.58" dy="7.97">2</tspan><tspan dy="-7.97">-5.0</tspan></text>
<text id="lb3" class="lab" x="1829.00" y="370.68" font-size="33.20" textLength="273.02" lengthAdjust="spacingAndGlyphs">H<tspan font-size="20.58" dy="7.97">4</tspan><tspan dy="-7.97">TTFTB-TiO</tspan><tspan font-size="20.58" dy="7.97">2</tspan><tspan dy="-7.97">-3.4</tspan></text>
<text id="lb4" class="lab" x="1829.00" y="476.18" font-size="33.20" textLength="273.02" lengthAdjust="spacingAndGlyphs">H<tspan font-size="20.58" dy="7.97">4</tspan><tspan dy="-7.97">TTFTB-TiO</tspan><tspan font-size="20.58" dy="7.97">2</tspan><tspan dy="-7.97">-1.7</tspan></text>
<text id="ta" class="lab" x="912.00" y="578.00" font-size="32.50" textLength="94.05" lengthAdjust="spacingAndGlyphs"><tspan font-style="italic">a</tspan>-TiO<tspan font-size="20.15" dy="7.80">2</tspan></text>
<text id="tb" class="lab" x="2006.00" y="579.30" font-size="33.20" textLength="94.04" lengthAdjust="spacingAndGlyphs"><tspan font-style="italic">a</tspan>-TiO<tspan font-size="20.58" dy="7.97">2</tspan></text>
<text id="ka" class="tick" x="157.00" y="751.00" font-size="42.30" textLength="40.69" lengthAdjust="spacingAndGlyphs">10</text>
<text id="kb" class="tick" x="1246.00" y="745.90" font-size="42.30" textLength="40.74" lengthAdjust="spacingAndGlyphs">10</text>
<text id="xa" class="ttl" x="462.00" y="820.05" font-size="44.50" textLength="215.10" lengthAdjust="spacingAndGlyphs">2<tspan font-style="italic">&#952;</tspan> (degree)</text>
<text id="xb" class="ttl" x="1551.00" y="814.55" font-size="44.50" textLength="216.10" lengthAdjust="spacingAndGlyphs">2<tspan font-style="italic">&#952;</tspan> (degree)</text>
<text id="ya" class="ttl" transform="translate(57.10 477.00) rotate(-90)" x="0" y="0" font-size="44.50" textLength="284.06" lengthAdjust="spacingAndGlyphs">Intensity (a.u.)</text>
<text id="yb" class="ttl" transform="translate(1145.50 472.00) rotate(-90)" x="0" y="0" font-size="44.50" textLength="285.07" lengthAdjust="spacingAndGlyphs">Intensity (a.u.)</text>
<text x="277.96" y="751.00" font-size="42.30" textLength="40.69" lengthAdjust="spacingAndGlyphs">20</text>
<text x="398.92" y="751.00" font-size="42.30" textLength="40.69" lengthAdjust="spacingAndGlyphs">30</text>
<text x="519.88" y="751.00" font-size="42.30" textLength="40.69" lengthAdjust="spacingAndGlyphs">40</text>
<text x="640.84" y="751.00" font-size="42.30" textLength="40.69" lengthAdjust="spacingAndGlyphs">50</text>
<text x="761.80" y="751.00" font-size="42.30" textLength="40.69" lengthAdjust="spacingAndGlyphs">60</text>
<text x="882.76" y="751.00" font-size="42.30" textLength="40.69" lengthAdjust="spacingAndGlyphs">70</text>
<text x="1003.72" y="751.00" font-size="42.30" textLength="40.69" lengthAdjust="spacingAndGlyphs">80</text>
<text x="1366.91" y="745.90" font-size="42.30" textLength="40.74" lengthAdjust="spacingAndGlyphs">20</text>
<text x="1487.81" y="745.90" font-size="42.30" textLength="40.74" lengthAdjust="spacingAndGlyphs">30</text>
<text x="1608.72" y="745.90" font-size="42.30" textLength="40.74" lengthAdjust="spacingAndGlyphs">40</text>
<text x="1729.63" y="745.90" font-size="42.30" textLength="40.74" lengthAdjust="spacingAndGlyphs">50</text>
<text x="1850.53" y="745.90" font-size="42.30" textLength="40.74" lengthAdjust="spacingAndGlyphs">60</text>
<text x="1971.44" y="745.90" font-size="42.30" textLength="40.74" lengthAdjust="spacingAndGlyphs">70</text>
<text x="2092.35" y="745.90" font-size="42.30" textLength="40.74" lengthAdjust="spacingAndGlyphs">80</text>
</g>
</svg>
</body></html>
